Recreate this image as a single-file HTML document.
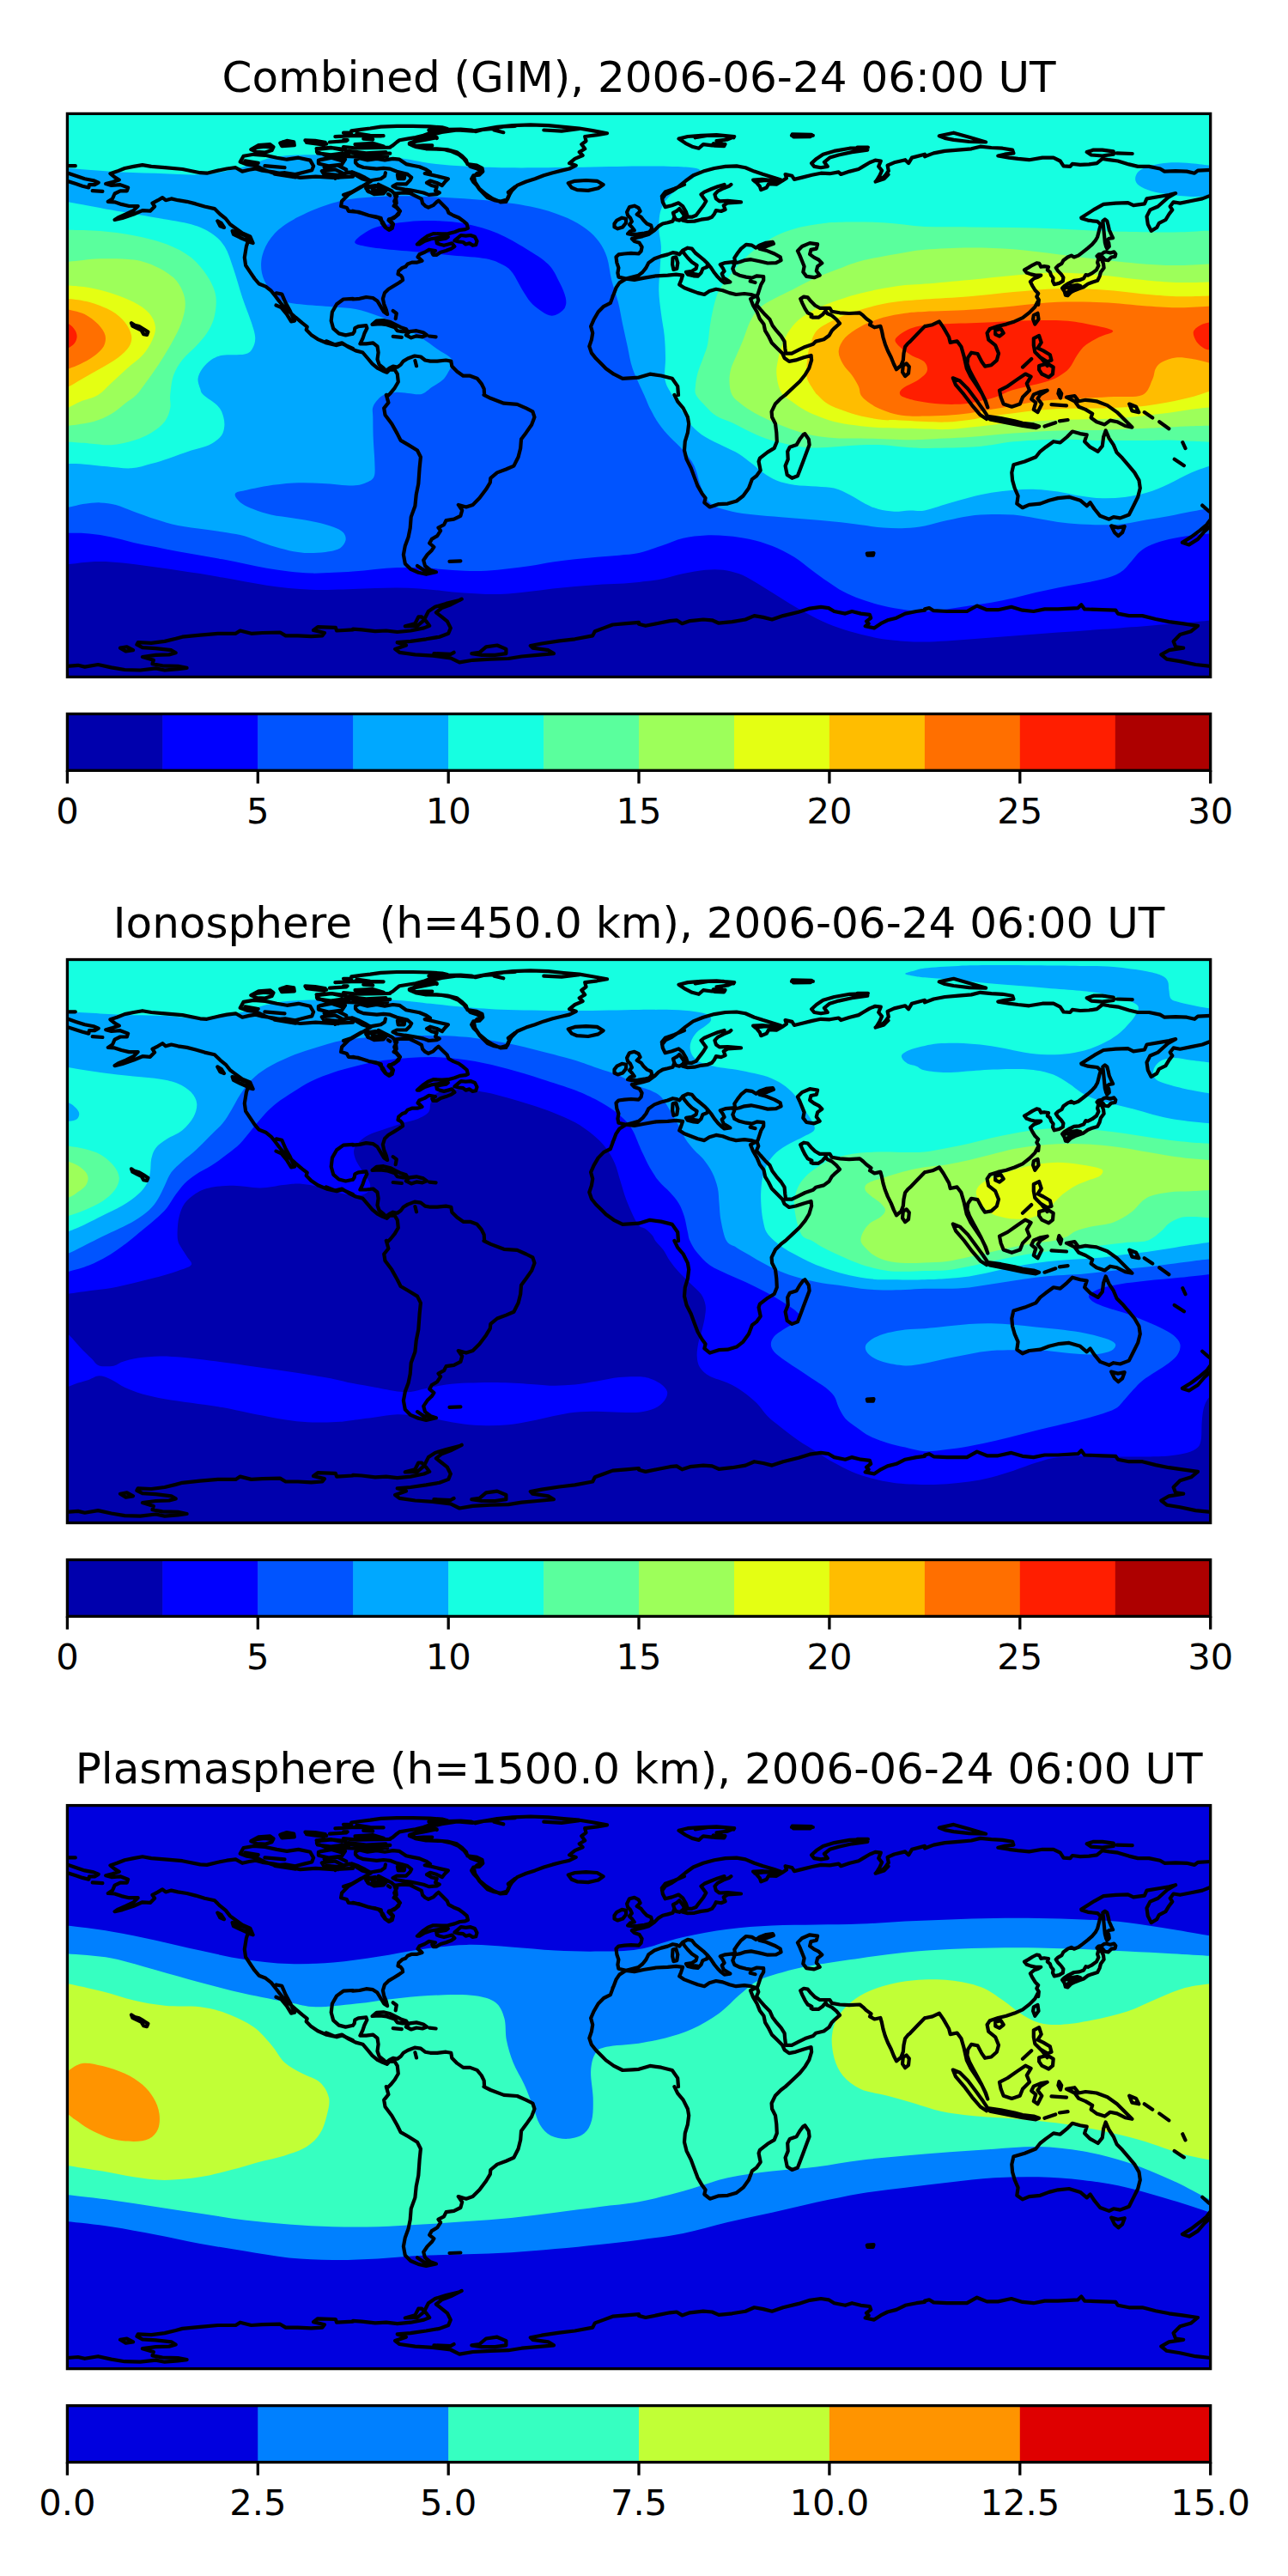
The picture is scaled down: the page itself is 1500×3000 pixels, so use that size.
<!DOCTYPE html>
<html lang="en"><head><meta charset="utf-8"><title>TEC maps</title>
<style>html,body{margin:0;padding:0;background:#fff}svg{display:block}text{font-family:"DejaVu Sans","Liberation Sans",sans-serif;fill:#000}</style></head><body>
<svg width="1500" height="3000" viewBox="0 0 1500 3000">
<defs><clipPath id="cp"><rect x="0" y="0" width="1331.3" height="656"/></clipPath>
</defs>
<rect width="1500" height="3000" fill="#fff"/>
<text x="744.1" y="106.9" font-size="50" text-anchor="middle" xml:space="preserve" style="white-space:pre">Combined (GIM), 2006-06-24 06:00 UT</text>
<g transform="translate(78.4 132.4)"><g clip-path="url(#cp)">
<rect x="0" y="0" width="1331.3" height="656" fill="#0000ad"/>
<path fill="#0000ff" d="M-8.2 524.9C-6.4 524.8 -3.4 525.1 2.2 524.6C7.8 524.1 17.3 522.4 25.5 522C33.6 521.6 42.7 521.6 51.3 522C59.9 522.4 68.5 523.6 77.2 524.6C85.8 525.6 94.4 526.8 103 528C111.6 529.2 120.2 530.5 128.9 531.8C137.5 533.1 146.1 534.3 154.7 535.7C163.3 537.1 172 538.6 180.6 540.1C189.2 541.6 197.8 543.2 206.4 544.8C215 546.3 223.7 548.1 232.3 549.4C240.9 550.7 249.5 551.7 258.1 552.5C266.7 553.3 275.4 554 284 554.3C292.6 554.6 301.7 554.5 309.8 554.3C317.9 554.2 324.5 553.9 332.6 553.6C340.7 553.3 349.8 552.8 358.5 552.5C367.1 552.3 375.7 551.9 384.3 552C392.9 552.1 401.5 552.4 410.2 553C418.8 553.6 427.4 554.8 436 555.6C444.6 556.5 453.2 557.6 461.9 558.2C470.5 558.9 479.1 559.4 487.7 559.5C496.3 559.6 505 559.5 513.6 559C522.2 558.5 530.8 557.4 539.4 556.4C548 555.4 556.7 554 565.3 553C573.9 552 582.5 551.2 591.1 550.5C599.7 549.7 608.4 549.2 617 548.6C625.6 548.1 634.7 547.9 642.8 547.4C650.9 546.8 657.5 546.4 665.6 545.5C673.7 544.7 682.8 543.8 691.5 542.2C700.1 540.5 708.7 537.5 717.3 535.7C725.9 533.9 735.4 532.1 743.2 531.3C750.9 530.6 757.4 530.6 763.8 531.3C770.3 532.1 775.9 533.5 781.9 535.7C788 538 793.6 541.1 800 544.8C806.5 548.4 813.8 553.4 820.7 557.7C827.6 562 834.5 566.5 841.4 570.6C848.3 574.7 854.8 578.4 862.1 582.3C869.4 586.1 877.2 590.4 885.4 593.9C893.5 597.3 902.6 600.4 911.2 602.9C919.8 605.5 928.4 607.7 937.1 609.4C945.7 611.1 952.7 612.3 962.9 613.3C973.2 614.2 984 615.3 998.6 615.1C1013.2 614.9 1033.1 613.1 1050.3 612C1067.5 610.8 1084.8 609.4 1102 608.1C1119.2 606.8 1136.5 605.5 1153.7 604.2C1171 602.9 1188.2 601.6 1205.4 600.4C1222.7 599.1 1242.1 597.6 1257.1 596.5C1272.2 595.3 1283.5 594.4 1295.9 593.4C1308.3 592.3 1324.3 590.7 1331.6 590C1338.9 589.3 1338.5 589.4 1339.9 589.2L1371.3 589.2L1371.3 -40L-40 -40L-40 524.9Z"/>
<path fill="#0054ff" d="M-8.2 488.4C-6.4 488.4 -3.4 488.3 2.2 488.4C7.8 488.5 17.3 488.4 25.5 489.2C33.6 490 42.7 491.3 51.3 493.1C59.9 494.8 68.5 497.6 77.2 499.5C85.8 501.5 94.4 503 103 504.7C111.6 506.4 120.2 508.3 128.9 509.9C137.5 511.5 146.1 512.8 154.7 514.3C163.3 515.8 172 517.3 180.6 518.9C189.2 520.6 197.8 522.4 206.4 524.1C215 525.8 223.7 527.7 232.3 529.3C240.9 530.8 249.5 532.1 258.1 533.1C266.7 534.1 275.4 535 284 535.2C292.6 535.4 301.7 534.8 309.8 534.4C317.9 534.1 324.5 533.8 332.6 533.1C340.7 532.5 349.8 531.3 358.5 530.5C367.1 529.8 375.7 529 384.3 528.7C392.9 528.4 401.5 528.4 410.2 528.7C418.8 529 427.4 529.9 436 530.5C444.6 531.2 453.2 532.1 461.9 532.4C470.5 532.7 479.1 532.8 487.7 532.4C496.3 531.9 505 530.7 513.6 529.8C522.2 528.8 530.8 528 539.4 526.7C548 525.4 556.7 523.3 565.3 522C573.9 520.7 582.5 519.9 591.1 518.9C599.7 518 608.4 517.1 617 516.3C625.6 515.6 634.7 515 642.8 514.3C650.9 513.5 657.5 513.5 665.6 511.7C673.7 509.9 682.8 506.3 691.5 503.4C700.1 500.5 708.7 496.4 717.3 494.4C725.9 492.3 734.5 491.4 743.2 491C751.8 490.6 760.4 491 769 491.8C777.6 492.5 786.2 493.7 794.9 495.6C803.5 497.6 812.1 500 820.7 503.4C829.3 506.8 838.8 511.6 846.6 516.3C854.3 521.1 860.8 527.1 867.3 531.8C873.7 536.6 879.3 540.7 885.4 544.8C891.4 548.9 897 553 903.4 556.4C909.9 559.8 916.4 562.6 924.1 565.4C931.9 568.2 941.4 571.1 950 573.2C958.6 575.3 967.7 576.8 975.8 577.9C983.9 578.9 990.5 579.8 998.6 579.7C1006.7 579.5 1015.8 578.2 1024.5 577.1C1033.1 576 1041.7 574.5 1050.3 573.2C1058.9 571.9 1067.5 570.8 1076.2 569.3C1084.8 567.8 1093.4 566.1 1102 564.2C1110.6 562.2 1119.2 559.7 1127.9 557.7C1136.5 555.7 1145.1 553.7 1153.7 552C1162.3 550.3 1171 549 1179.6 547.4C1188.2 545.7 1197.7 544.3 1205.4 542.2C1213.2 540 1220.5 537.9 1226.1 534.4C1231.7 531 1235.2 525.6 1239 521.5C1242.9 517.4 1245.5 513.1 1249.4 509.9C1253.3 506.6 1256.7 504.5 1262.3 502.1C1267.9 499.7 1275.2 497.5 1283 495.6C1290.7 493.8 1300.7 492.1 1308.8 491C1316.9 489.9 1326.4 489.5 1331.6 489.2C1336.8 488.8 1338.5 489 1339.9 488.9L1371.3 488.9L1371.3 -40L-40 -40L-40 488.4Z"/>
<path fill="#00a8ff" d="M-8.2 458.9C-6.4 458.8 -2.6 458.9 2.2 458.2C6.9 457.4 14.3 455.1 20.3 454.3C26.3 453.4 32.3 452.8 38.4 453C44.4 453.2 50 453.8 56.5 455.6C62.9 457.3 69.4 460.5 77.2 463.3C84.9 466.1 94.4 469.7 103 472.4C111.6 475.1 119.4 477.7 128.9 479.6C138.3 481.6 150.4 482.6 159.9 484C169.4 485.4 178 486.6 185.7 487.9C193.5 489.2 199.5 489.8 206.4 491.8C213.3 493.7 220.2 497.2 227.1 499.5C234 501.9 240.9 504.1 247.8 506C254.7 507.8 262 509.7 268.5 510.6C274.9 511.6 280.5 511.8 286.6 511.7C292.6 511.5 299.5 510.8 304.7 509.9C309.8 508.9 314.4 508.1 317.6 506C320.8 503.8 323.4 500 324.1 496.9C324.7 493.9 323.8 490.5 321.5 487.9C319.1 485.3 315.2 483.5 309.8 481.4C304.5 479.4 296.9 477.2 289.2 475.5C281.4 473.8 271.9 472.5 263.3 471.1C254.7 469.7 245.2 468.9 237.4 467.2C229.7 465.5 222.4 462.9 216.8 460.7C211.2 458.6 207.3 456.7 203.8 454.3C200.4 451.9 197.3 448.7 196.1 446.5C194.9 444.4 194.9 442.6 196.6 441.4C198.3 440.1 200.5 440.1 206.4 438.8C212.4 437.5 222.8 435 232.3 433.6C241.8 432.2 252.5 430.8 263.3 430.2C274.1 429.7 285.4 430 296.9 430.5C308.5 431 324.1 433.2 332.6 433.1C341.1 433 344 431.4 348.1 429.7C352.2 428 355.5 426.8 357.2 422.7C358.8 418.6 358.1 412.4 357.9 405.2C357.8 397.9 356.7 387.9 356.4 379.3C356 370.7 356 359.6 355.9 353.5C355.8 347.4 355 345.8 355.7 342.7C356.4 339.6 358 337.1 360.1 334.6C362.2 332.1 364.5 329.2 368.2 327.5C371.9 325.8 377.6 324.8 382.3 324.5C387 324.2 391.4 325.2 396.5 325.5C401.6 325.8 407.9 327.7 412.6 326.5C417.3 325.3 420.7 321.1 424.7 318.4C428.7 315.7 433.8 313.1 436.8 310.4C439.8 307.7 440.9 305.7 442.9 302.3C444.9 298.9 448.7 293.4 449 290.2C449.3 287 447.9 285.8 444.9 283.1C441.9 280.4 436.5 277.9 430.8 274C425.1 270.1 418 264.6 410.6 259.9C403.2 255.2 394.5 249.8 386.4 245.8C378.3 241.8 370.6 238.7 362.2 235.7C353.8 232.7 344.6 229.4 335.9 227.6C327.2 225.8 320.6 226 309.8 225C299 224.1 281.4 223.3 271.1 221.9C260.7 220.6 253.8 219.8 247.8 216.8C241.8 213.8 238.4 209 234.9 203.8C231.3 198.7 227.9 192.2 226.6 185.7C225.3 179.3 225.3 172 227.1 165.1C228.9 158.2 232.3 150.8 237.4 144.4C242.6 137.9 248.2 132.3 258.1 126.3C268 120.2 284.5 112.7 296.9 108.2C309.3 103.7 318 101.2 332.6 99.1C347.2 97.1 367.1 96.1 384.3 95.8C401.5 95.5 418.8 96.5 436 97.3C453.2 98.2 470.5 99.1 487.7 100.9C505 102.8 524.3 105 539.4 108.2C554.5 111.3 567.4 115.5 578.2 119.8C589 124.1 597.2 129.1 604.1 134C611 139 615.5 143.9 619.6 149.5C623.7 155.1 626.2 160.3 628.6 167.6C631 175 631.6 184.9 633.8 193.5C635.9 202.1 639.4 210.7 641.5 219.4C643.7 228 644.9 236.6 646.7 245.2C648.5 253.8 650.5 262.4 652.4 271.1C654.3 279.7 655.1 287.5 658.3 296.9C661.6 306.3 668.4 320 671.8 327.7C675.2 335.4 675.7 337.5 678.5 343.1C681.4 348.7 685 355.6 688.9 361.2C692.7 366.8 697.1 371.6 701.8 376.7C706.5 381.9 712.6 386.6 717.3 392.2C722 397.8 727 403.9 730.2 410.3C733.5 416.8 734.5 425 736.7 431C738.9 437 740.4 442.2 743.2 446.5C746 450.8 748.3 454.1 753.5 456.9C758.7 459.7 766.4 461.6 774.2 463.3C781.9 465.1 790.6 466.1 800 467.2C809.5 468.3 820.7 468.9 831.1 469.8C841.4 470.7 851.7 471.5 862.1 472.4C872.4 473.2 882.8 473.9 893.1 475C903.4 476 914.7 477.6 924.1 478.8C933.6 480 941.4 481.6 950 482.2C958.6 482.8 967.7 483.1 975.8 482.7C983.9 482.4 990.5 481.6 998.6 480.1C1006.7 478.6 1015.8 475.6 1024.5 473.7C1033.1 471.7 1041.7 469.7 1050.3 468.5C1058.9 467.3 1067.5 466.9 1076.2 466.7C1084.8 466.5 1093.4 466.5 1102 467.2C1110.6 467.9 1119.2 469.7 1127.9 471.1C1136.5 472.5 1145.1 474.3 1153.7 475.5C1162.3 476.6 1171 477.5 1179.6 478.1C1188.2 478.6 1196.8 478.9 1205.4 478.8C1214 478.8 1222.7 478.5 1231.3 477.5C1239.9 476.6 1248.5 474.4 1257.1 472.9C1265.7 471.4 1274.4 470.1 1283 468.5C1291.6 466.9 1300.7 464.8 1308.8 463.3C1316.9 461.8 1326.4 460.2 1331.6 459.5C1336.8 458.7 1338.5 459 1339.9 458.9L1371.3 458.9L1371.3 -40L-40 -40L-40 458.9Z"/>
<path fill="#0000ff" d="M335.2 148.3C337.3 144.7 348.1 136.5 358.5 132.7C368.8 129 384.3 127.1 397.2 125.8C410.2 124.5 424.4 124.5 436 125C447.6 125.5 456.3 126.5 467 128.9C477.8 131.2 489.4 134.5 500.6 139.2C511.8 143.9 524.3 151.3 534.3 157.3C544.2 163.3 553.6 168.9 560.1 175.4C566.6 181.9 569.7 189.6 573 196.1C576.4 202.5 579.2 209.2 580.3 214.2C581.4 219.1 581.1 222.6 579.5 225.8C577.9 229 573.5 232.1 570.4 233.6C567.4 235.1 564.8 235.7 561.4 234.9C558 234 553.4 231 549.8 228.4C546.1 225.8 542.9 223.4 539.4 219.4C536 215.3 532.5 209.4 529.1 203.8C525.6 198.2 522.2 190.3 518.7 185.7C515.3 181.2 513.6 179.5 508.4 176.7C503.2 173.9 497.6 170.9 487.7 168.9C477.8 167 461.9 166.4 448.9 165.1C436 163.8 423.1 162.4 410.2 161.2C397.2 160 382.2 159 371.4 157.8C360.6 156.7 351.6 155.8 345.5 154.2C339.5 152.6 333 151.8 335.2 148.3Z"/>
<path fill="#16ffe1" d="M-8.2 63.5C-6.4 63.5 -7.7 63.1 2.2 63.7C12.1 64.4 34.5 66.4 51.3 67.3C68.1 68.3 84.9 68.8 103 69.4C121.1 70 142.7 72 159.9 70.7C177.1 69.4 194.4 64.7 206.4 61.6C218.5 58.6 223.7 54.8 232.3 52.6C240.9 50.4 247.4 49.5 258.1 48.7C268.9 47.9 284.5 47.9 296.9 47.9C309.3 47.9 318 48.2 332.6 48.7C347.2 49.3 369.2 49.8 384.3 51.3C399.4 52.8 410.2 56.1 423.1 57.8C436 59.4 446.8 60.3 461.9 61.1C476.9 62 492 62.7 513.6 62.9C535.1 63.2 565.8 62.7 591.1 62.4C616.5 62.1 646.7 61.3 665.6 61.1C684.5 61 694 61.3 704.4 61.6C714.7 61.9 722.3 62.2 727.6 62.9C733 63.7 736.3 64.2 736.7 66C737.1 67.9 733.9 71 730.2 74.1C726.6 77.1 719.9 80.3 714.7 84.4C709.6 88.4 703.2 93.5 699.2 98.4C695.2 103.2 692.7 107.4 690.9 113.4C689.2 119.3 688.8 127.1 688.9 134C689 140.9 691.2 147 691.5 154.7C691.7 162.5 690.6 172 690.2 180.6C689.7 189.2 688.7 197.8 688.9 206.4C689.1 215 690.4 223.7 691.5 232.3C692.5 240.9 694.5 249.5 695.3 258.1C696.2 266.7 696.5 275.4 696.6 284C696.8 292.6 694.8 302.6 696.1 309.8C697.4 317.1 700.8 321.2 704.4 327.6C707.9 334 713.4 342.3 717.3 348.3C721.2 354.3 723.3 359.1 727.6 363.8C732 368.5 737.1 372.8 743.2 376.7C749.2 380.6 757.4 383.8 763.8 387.1C770.3 390.3 776.3 392.7 781.9 396.1C787.5 399.6 792.7 404.1 797.5 407.7C802.2 411.4 805.6 414.9 810.4 418.1C815.1 421.3 819.9 424.8 825.9 427.1C831.9 429.5 838.8 431.1 846.6 432.3C854.3 433.5 864.7 433.5 872.4 434.1C880.2 434.8 886.6 434.5 893.1 436.2C899.6 437.8 905.2 440.9 911.2 443.9C917.2 447 923.7 451.5 929.3 454.3C934.9 457.1 939.2 459.2 944.8 460.7C950.4 462.3 956.9 463.1 962.9 463.3C968.9 463.5 975.1 462.3 981 462C987 461.8 991.4 463.3 998.6 462C1005.8 460.7 1015.8 456.8 1024.5 454.3C1033.1 451.8 1041.7 449.2 1050.3 447C1058.9 444.9 1067.5 442.8 1076.2 441.4C1084.8 439.9 1093.4 438.9 1102 438.3C1110.6 437.6 1119.2 437.2 1127.9 437.5C1136.5 437.8 1145.1 438.8 1153.7 440.1C1162.3 441.4 1171 443.9 1179.6 445.2C1188.2 446.5 1196.8 447.6 1205.4 447.8C1214 448 1222.7 447.6 1231.3 446.5C1239.9 445.4 1248.5 443.9 1257.1 441.4C1265.7 438.8 1274.4 434.9 1283 431C1291.6 427.1 1300.7 421.6 1308.8 418.1C1316.9 414.6 1326.4 411.5 1331.6 409.8C1336.8 408.1 1338.5 408.1 1339.9 407.7L1371.3 407.7L1371.3 -40L-40 -40L-40 63.5Z"/>
<path fill="#00a8ff" d="M1339.9 60.4C1338.5 60.4 1336.8 60.8 1331.6 60.4C1326.4 59.9 1316.9 58.3 1308.8 57.8C1300.7 57.2 1290.7 56.6 1283 57C1275.2 57.4 1268.1 58.7 1262.3 60.4C1256.5 62 1251.2 64.2 1248.1 66.8C1245 69.4 1243.7 73.1 1243.7 75.9C1243.7 78.7 1245 81.3 1248.1 83.6C1251.2 86 1256.5 88.4 1262.3 90.1C1268.1 91.8 1275.2 92.9 1283 94C1290.7 95 1300.7 96.2 1308.8 96.5C1316.9 96.9 1326.4 95.9 1331.6 95.8C1336.8 95.6 1338.5 95.8 1339.9 95.8Z"/>
<path fill="#16ffe1" d="M-8.2 102.5C-6.4 102.6 -7.7 101.4 2.2 103C12.1 104.6 34.5 109 51.3 112.1C68.1 115.1 87.5 118.3 103 121.1C118.5 123.9 133.6 125.8 144.4 128.9C155.1 131.9 161.2 134.9 167.6 139.2C174.1 143.5 178.8 147.8 183.2 154.7C187.5 161.6 190.1 170.7 193.5 180.6C196.9 190.5 200.4 203.8 203.8 214.2C207.3 224.5 211.7 234.9 214.2 242.6C216.7 250.4 218.6 255.5 218.8 260.7C219.1 265.9 217.5 270.4 215.5 273.6C213.4 276.9 212.2 278.8 206.4 280.1C200.6 281.4 187 280.3 180.6 281.4C174.1 282.5 171.5 284 167.6 286.6C163.8 289.2 159.9 293.2 157.3 296.9C154.7 300.6 152.6 304.7 152.1 308.5C151.7 312.4 153.6 317 154.7 320.2C155.8 323.4 155.1 324.3 158.6 327.7C162 331.1 171.5 336.2 175.4 340.5C179.3 344.8 180.7 349.1 181.9 353.5C183.1 357.8 183.3 362.5 182.6 366.4C182 370.3 180.9 373.5 178 376.7C175.1 380 170.7 383.2 165.1 385.8C159.5 388.4 152.1 389.6 144.4 392.2C136.6 394.8 126.3 398.7 118.5 401.3C110.8 403.9 105.2 405.8 97.8 407.7C90.5 409.7 83.2 412.4 74.6 412.9C66 413.4 55.2 411.6 46.1 410.8C37.1 410.1 27.6 408.8 20.3 408.3C13 407.7 6.9 407.8 2.2 407.7C-2.6 407.7 -6.4 407.7 -8.2 407.7Z"/>
<path fill="#5aff9d" d="M1339.9 135.8C1338.5 135.9 1338.9 135.8 1331.6 136.1C1324.3 136.4 1308.3 137.6 1295.9 137.9C1283.5 138.2 1272.2 138.1 1257.1 137.9C1242.1 137.7 1222.7 137.3 1205.4 136.6C1188.2 136 1171 134.7 1153.7 134C1136.5 133.4 1119.2 133.1 1102 132.7C1084.8 132.4 1067.5 132.2 1050.3 132C1033.1 131.8 1015.3 132.3 998.6 131.5C981.9 130.6 966.7 127.7 950 126.8C933.3 125.9 911.2 125.9 898.3 126.3C885.4 126.6 881 127.6 872.4 128.9C863.8 130.2 854.3 131.9 846.6 134C838.8 136.2 832.8 138.3 825.9 141.8C819 145.2 811.7 150 805.2 154.7C798.7 159.5 792.7 164.6 787.1 170.2C781.5 175.8 776.3 182.3 771.6 188.3C766.9 194.4 761.9 200 758.7 206.4C755.4 212.9 753.9 220.2 752.2 227.1C750.5 234 749.4 240.9 748.3 247.8C747.3 254.7 747 262.4 745.7 268.5C744.5 274.5 742.5 278.4 740.6 284C738.6 289.6 735.6 296.5 734.1 302.1C732.6 307.7 731.8 313.3 731.5 317.6C731.2 321.9 730.4 323.9 732.3 327.7C734.2 331.5 739.2 336.4 743.2 340.5C747.1 344.6 750.9 348.9 756.1 352.2C761.3 355.4 767.7 356.9 774.2 359.9C780.6 362.9 788.4 367.2 794.9 370.3C801.3 373.3 806.9 375.9 813 378C819 380.2 824.6 381.6 831.1 383.2C837.5 384.8 844.8 386.6 851.7 387.6C858.6 388.6 864.7 389.1 872.4 389.1C880.2 389.1 889.7 388.1 898.3 387.6C906.9 387 915.5 386.1 924.1 385.8C932.7 385.5 941.4 385.3 950 385.8C958.6 386.2 967.7 387.7 975.8 388.4C983.9 389 986.2 389.6 998.6 389.6C1011 389.6 1037.4 389 1050.3 388.4C1063.2 387.7 1067.5 386.8 1076.2 385.8C1084.8 384.7 1089.1 383 1102 381.9C1114.9 380.8 1136.5 379.5 1153.7 379.3C1171 379.1 1188.2 380.4 1205.4 380.6C1222.7 380.8 1244.2 380.7 1257.1 380.6C1270.1 380.5 1274.4 380 1283 380.1C1291.6 380.2 1300.7 381 1308.8 381.4C1316.9 381.8 1326.4 382.2 1331.6 382.4C1336.8 382.6 1338.5 382.4 1339.9 382.4Z"/>
<path fill="#5aff9d" d="M-8.2 135.3C-6.4 135.3 -5.6 135.1 2.2 135.3C9.9 135.5 25.9 135.5 38.4 136.6C50.9 137.7 64.2 139.2 77.2 141.8C90.1 144.4 104.7 147.8 115.9 152.1C127.1 156.4 136.6 161.6 144.4 167.6C152.1 173.7 158 181.9 162.5 188.3C167 194.8 169.7 200.8 171.5 206.4C173.3 212 173.5 216.3 173.3 221.9C173.1 227.5 172 234.4 170.2 240C168.4 245.6 165.9 250.4 162.5 255.5C159 260.7 154.3 265.9 149.5 271.1C144.8 276.2 138.3 281 134 286.6C129.7 292.2 126.1 297.8 123.7 304.7C121.3 311.5 120.5 321.3 119.8 327.7C119.2 334.1 120.9 338 119.8 343.1C118.7 348.3 117 353.9 113.4 358.6C109.7 363.4 103.9 367.9 97.8 371.6C91.8 375.2 84.9 378.2 77.2 380.6C69.4 383 59.9 385.2 51.3 385.8C42.7 386.3 33.6 384.5 25.5 384C17.3 383.4 7.8 382.7 2.2 382.4C-3.4 382.2 -6.4 382.4 -8.2 382.4Z"/>
<path fill="#9dff5a" d="M1339.9 174.6C1338.5 174.7 1338.9 174.5 1331.6 174.9C1324.3 175.2 1308.3 176.6 1295.9 176.7C1283.5 176.8 1272.2 176.5 1257.1 175.4C1242.1 174.3 1222.7 172.2 1205.4 170.2C1188.2 168.3 1171 165.8 1153.7 163.8C1136.5 161.7 1119.2 159.1 1102 157.8C1084.8 156.5 1067.5 155.9 1050.3 156C1033.1 156.1 1013.2 157 998.6 158.3C984 159.6 975.3 161.6 962.9 163.8C950.5 166 934.9 168.7 924.1 171.5C913.4 174.3 906.9 177.3 898.3 180.6C889.7 183.8 881 187 872.4 190.9C863.8 194.8 855.2 199.5 846.6 203.8C838 208.1 827.6 212.9 820.7 216.8C813.8 220.6 809.5 222.8 805.2 227.1C800.9 231.4 797.9 236.6 794.9 242.6C791.8 248.7 789.7 256.8 787.1 263.3C784.5 269.8 781.7 275.8 779.4 281.4C777 287 774.3 291.7 772.9 296.9C771.5 302.1 770.9 307.3 771.1 312.4C771.3 317.6 771.9 323.4 774.2 327.7C776.4 331.9 780.2 334.5 784.5 337.9C788.8 341.4 794.9 345.3 800 348.3C805.2 351.3 809.9 353.5 815.5 356C821.1 358.6 827.6 361.4 833.6 363.8C839.7 366.2 845.3 368.3 851.7 370.3C858.2 372.2 864.7 374.1 872.4 375.4C880.2 376.7 889.7 377.6 898.3 378C906.9 378.4 915.5 377.9 924.1 378C932.7 378.1 941.4 378.5 950 378.8C958.6 379.1 967.7 379.7 975.8 379.8C983.9 379.9 986.2 379.8 998.6 379.3C1011 378.8 1033.1 377.9 1050.3 376.7C1067.5 375.5 1084.8 373.4 1102 372.1C1119.2 370.8 1136.5 369.6 1153.7 369C1171 368.4 1188.2 368.9 1205.4 368.4C1222.7 368 1244.2 366.9 1257.1 366.4C1270.1 365.8 1274.4 365.5 1283 365.1C1291.6 364.7 1300.7 364.1 1308.8 363.8C1316.9 363.5 1326.4 363.4 1331.6 363.3C1336.8 363.2 1338.5 363.3 1339.9 363.3Z"/>
<path fill="#9dff5a" d="M-8.2 172.3C-6.4 172.3 -5.6 172.9 2.2 172.3C9.9 171.7 25.9 169.3 38.4 168.9C50.9 168.6 66.4 168.7 77.2 170.2C87.9 171.7 95.3 174.5 103 178C110.8 181.4 118.5 186.2 123.7 190.9C128.9 195.7 131.8 201.3 134 206.4C136.3 211.6 137.4 216.3 137.4 221.9C137.4 227.5 135.9 234 134 240C132.2 246.1 129.5 251.7 126.3 258.1C123 264.6 118.5 272.4 114.6 278.8C110.8 285.3 107.1 290.9 103 296.9C98.9 302.9 93.9 309.9 90.1 315C86.3 320.1 84.1 323.9 80.3 327.7C76.4 331.5 71.6 334.3 66.8 337.9C62 341.6 57.3 346.1 51.3 349.6C45.3 353 38.8 356.3 30.6 358.6C22.4 360.9 8.6 362.4 2.2 363.3C-4.3 364.1 -6.4 363.7 -8.2 363.8Z"/>
<path fill="#e4ff13" d="M1339.9 196.1C1338.5 196.1 1338.9 196 1331.6 196.1C1324.3 196.2 1308.3 196.9 1295.9 196.6C1283.5 196.3 1272.2 195.4 1257.1 194C1242.1 192.6 1222.7 189.8 1205.4 188.3C1188.2 186.9 1171 185.2 1153.7 185.2C1136.5 185.2 1119.2 186.9 1102 188.3C1084.8 189.7 1067.5 191.9 1050.3 193.5C1033.1 195.1 1013.2 196.9 998.6 198.2C984 199.4 975.3 199.4 962.9 201.3C950.5 203.1 934.9 206.4 924.1 209C913.4 211.6 906.9 213.8 898.3 216.8C889.7 219.8 880.2 223.2 872.4 227.1C864.7 231 857.3 235.3 851.7 240C846.1 244.8 842.3 249.9 838.8 255.5C835.4 261.1 833 268 831.1 273.6C829.1 279.2 828 284.4 827.2 289.2C826.3 293.9 825.7 297.3 825.9 302.1C826.1 306.8 827.2 313.3 828.5 317.6C829.8 321.9 831.1 324.7 833.6 327.7C836.2 330.6 839.7 332.4 844 335.4C848.3 338.4 853.9 342.7 859.5 345.7C865.1 348.7 871.1 351.1 877.6 353.5C884.1 355.8 890.5 358.2 898.3 359.9C906 361.6 915.5 362.8 924.1 363.8C932.7 364.8 941.4 365.4 950 365.9C958.6 366.3 967.7 366.2 975.8 366.4C983.9 366.6 990.5 366.9 998.6 367.2C1006.7 367.4 1015.8 368 1024.5 367.7C1033.1 367.4 1041.7 366.2 1050.3 365.3C1058.9 364.5 1067.5 363.4 1076.2 362.5C1084.8 361.6 1093.4 360.6 1102 359.9C1110.6 359.2 1119.2 358.7 1127.9 358.1C1136.5 357.5 1145.1 356.9 1153.7 356.6C1162.3 356.2 1171 356.2 1179.6 356C1188.2 355.9 1196.8 355.9 1205.4 355.5C1214 355.2 1222.7 354.7 1231.3 354C1239.9 353.3 1248.5 352.3 1257.1 351.4C1265.7 350.4 1274.4 349.4 1283 348.3C1291.6 347.1 1300.7 345.5 1308.8 344.4C1316.9 343.3 1326.4 342.4 1331.6 341.8C1336.8 341.3 1338.5 341.2 1339.9 341Z"/>
<path fill="#e4ff13" d="M-8.2 199.4C-6.4 199.5 -3.4 199.4 2.2 200C7.8 200.5 17.3 201 25.5 202.5C33.6 204.1 42.7 206.2 51.3 209C59.9 211.8 69.8 215.5 77.2 219.4C84.5 223.2 91 227.5 95.3 232.3C99.5 237 101.8 242.6 102.5 247.8C103.1 253 101.6 257.7 99.1 263.3C96.6 268.9 92.5 275.8 87.5 281.4C82.5 287 75.4 291.5 69.4 296.9C63.4 302.3 56.9 308.6 51.3 313.7C45.7 318.8 41.8 324.1 35.8 327.7C29.8 331.3 20.7 333 15.1 335.4C9.5 337.7 6.1 340.3 2.2 341.8C-1.7 343.3 -6.4 344 -8.2 344.4Z"/>
<path fill="#ffbd00" d="M1339.9 212.1C1338.5 212.1 1338.9 212 1331.6 212.1C1324.3 212.2 1308.3 213.2 1295.9 212.9C1283.5 212.6 1272.2 211.6 1257.1 210.3C1242.1 209 1222.7 206.2 1205.4 205.1C1188.2 204.1 1171 203.4 1153.7 203.8C1136.5 204.3 1119.2 206.2 1102 207.7C1084.8 209.2 1067.5 211.5 1050.3 212.9C1033.1 214.3 1013.2 215.2 998.6 216.2C984 217.3 973.2 218 962.9 219.4C952.7 220.7 945.7 222.4 937.1 224.5C928.4 226.7 919 229.5 911.2 232.3C903.4 235.1 897 237.9 890.5 241.3C884.1 244.8 876.7 248 872.4 253C868.1 257.9 866.4 265.9 864.7 271.1C862.9 276.2 862.7 279.2 862.1 284C861.4 288.7 860.8 295.2 860.8 299.5C860.8 303.8 860.6 306 862.1 309.8C863.6 313.7 867.9 319.8 869.8 322.8C871.8 325.7 871.1 325.1 873.7 327.6C876.3 330.1 880.4 334.9 885.4 337.9C890.3 341 897 343.3 903.4 345.7C909.9 348.1 916.4 350.4 924.1 352.2C931.9 354 941.4 355.7 950 356.6C958.6 357.4 967.7 357 975.8 357.3C983.9 357.7 990.5 358.3 998.6 358.6C1006.7 358.9 1015.8 359.5 1024.5 359.1C1033.1 358.8 1041.7 357.7 1050.3 356.6C1058.9 355.4 1067.5 353.5 1076.2 352.2C1084.8 350.9 1093.4 349.9 1102 348.8C1110.6 347.7 1119.2 346.6 1127.9 345.7C1136.5 344.8 1145.1 344.1 1153.7 343.6C1162.3 343.2 1171 343.2 1179.6 343.1C1188.2 343 1196.8 343.3 1205.4 343.1C1214 342.9 1222.7 342.3 1231.3 341.8C1239.9 341.3 1248.5 341 1257.1 340C1265.7 339 1274.4 337.5 1283 335.9C1291.6 334.2 1300.7 332.4 1308.8 330.2C1316.9 328 1326.4 324.2 1331.6 322.8C1336.8 321.3 1338.5 321.7 1339.9 321.5Z"/>
<path fill="#ffbd00" d="M-8.2 214.2C-6.4 214.4 -3.4 214.6 2.2 215.5C7.8 216.3 17.3 217 25.5 219.4C33.6 221.7 44.4 225.8 51.3 229.7C58.2 233.6 62.9 237.9 66.8 242.6C70.7 247.4 73.7 253.4 74.6 258.1C75.4 262.9 74.6 266.7 72 271.1C69.4 275.4 64.7 279.7 59.1 284C53.5 288.3 45.3 292.8 38.4 296.9C31.5 301 23.7 305.1 17.7 308.5C11.7 312 6.5 315.2 2.2 317.6C-2.1 320 -6.4 321.9 -8.2 322.8Z"/>
<path fill="#ff6f00" d="M1339.9 224C1338.5 224 1338.9 223.7 1331.6 224C1324.3 224.3 1308.3 225.8 1295.9 225.8C1283.5 225.8 1272.2 225 1257.1 224C1242.1 223 1222.7 220.6 1205.4 219.9C1188.2 219.1 1171 218.7 1153.7 219.4C1136.5 220 1119.2 222.5 1102 224C1084.8 225.5 1067.5 227.3 1050.3 228.4C1033.1 229.5 1011 229.8 998.6 230.5C986.2 231.1 983.9 231.1 975.8 232.3C967.7 233.4 958.6 234.9 950 237.4C941.4 240 931.5 243.9 924.1 247.8C916.8 251.7 910.3 256 906 260.7C901.7 265.5 898.7 271.1 898.3 276.2C897.8 281.4 900.9 287 903.4 291.7C906 296.5 910.8 300.4 913.8 304.7C916.8 309 919.8 313.8 921.5 317.6C923.3 321.4 922.4 324.7 924.1 327.7C925.9 330.6 928.4 332.8 931.9 335.4C935.3 337.9 939.6 340.7 944.8 343.1C950 345.5 956.9 348.1 962.9 349.6C968.9 351.1 975.1 351.7 981 352.2C987 352.6 991.4 352.3 998.6 352.2C1005.8 352 1015.8 351.9 1024.5 351.4C1033.1 350.8 1041.7 350 1050.3 348.8C1058.9 347.6 1067.5 345.9 1076.2 344.4C1084.8 342.9 1093.4 341.5 1102 340C1110.6 338.5 1119.2 336.6 1127.9 335.4C1136.5 334.1 1145.1 333.4 1153.7 332.8C1162.3 332.1 1168.8 332 1179.6 331.5C1190.3 331 1206.3 330.3 1218.4 329.7C1230.4 329 1244.4 330.9 1252 327.6C1259.5 324.3 1261 315 1263.6 309.8C1266.2 304.7 1265.5 300.4 1267.5 296.9C1269.4 293.5 1271.4 291.3 1275.2 289.2C1279.1 287 1285.1 284.6 1290.7 284C1296.3 283.3 1302 284.2 1308.8 285.3C1315.6 286.4 1326.4 289.4 1331.6 290.4C1336.8 291.5 1338.5 291.5 1339.9 291.7Z"/>
<path fill="#ff6f00" d="M-8.2 226.6C-6.4 226.9 -2.6 227.2 2.2 228.4C6.9 229.6 14.7 230.8 20.3 233.6C25.9 236.4 31.8 241.1 35.8 245.2C39.8 249.3 43 253.8 44.1 258.1C45.1 262.4 44.5 267 42.3 271.1C40 275.2 35.1 279.2 30.6 282.7C26.1 286.1 19.9 289.4 15.1 291.7C10.4 294.1 6.1 295.4 2.2 296.9C-1.7 298.4 -6.4 300.1 -8.2 300.8Z"/>
<path fill="#ff1e00" d="M966.2 260.1C969.4 256.9 976.8 251.5 985.3 249C993.8 246.5 1003.8 246.1 1017.1 245.2C1030.4 244.2 1049 244 1064.9 243.3C1080.8 242.6 1096.7 241.4 1112.6 241C1128.5 240.6 1147.1 240.2 1160.4 241C1173.7 241.8 1182.7 243.8 1192.2 245.8C1201.8 247.8 1216.1 250.4 1217.7 252.8C1219.3 255.2 1207.1 257.3 1201.8 260.1C1196.5 262.9 1190 266.2 1185.8 269.7C1181.5 273.1 1179.5 276.3 1176.3 280.8C1173.1 285.3 1170.4 292.4 1166.7 296.7C1163 300.9 1158.8 303.6 1154 306.3C1149.2 309 1143.9 310.9 1138.1 312.7C1132.3 314.5 1125.4 315.8 1119 317.4C1112.6 319 1106.3 320.1 1099.9 322.2C1093.5 324.3 1087.2 328.1 1080.8 330.2C1074.4 332.3 1068.1 333.6 1061.7 334.9C1055.3 336.2 1050 337.6 1042.6 338.1C1035.2 338.6 1025.6 338.6 1017.1 338.1C1008.6 337.6 998.8 336.2 991.6 334.9C984.4 333.6 977.8 331.8 974.1 330.2C970.4 328.6 969.4 327.3 969.4 325.4C969.4 323.5 970.4 321.6 974.1 319C977.8 316.4 987.1 312.7 991.6 309.5C996.1 306.3 1000.1 303.3 1001.2 299.9C1002.3 296.4 1001.2 292 998 288.8C994.8 285.6 987.4 284.2 982.1 280.8C976.8 277.4 968.9 271.6 966.2 268.1C963.6 264.7 963 263.3 966.2 260.1Z"/>
<path fill="#ff1e00" d="M1339.9 242.6C1338.5 242.6 1335 242 1331.6 242.6C1328.1 243.3 1322.5 244.6 1319.2 246.5C1315.8 248.4 1312.1 251 1311.4 254.3C1310.8 257.5 1313.1 262.7 1315.3 265.9C1317.5 269.1 1321.6 272.1 1324.3 273.6C1327.1 275.2 1329 274.6 1331.6 274.9C1334.2 275.2 1338.5 275.4 1339.9 275.5Z"/>
<path fill="#ff1e00" d="M-8.2 241.3C-6.4 242 -0.6 243.5 2.2 245.2C5 246.9 7.1 249.3 8.6 251.7C10.2 254 11.2 256.8 11.2 259.4C11.2 262 10.2 265 8.6 267.2C7.1 269.3 5 270.8 2.2 272.4C-0.6 273.9 -6.4 275.6 -8.2 276.2Z"/>
<path fill="none" stroke="#000" stroke-width="4.2" stroke-linejoin="round" stroke-linecap="round" d="M-0.4 60.8L9.4 60.8M-0.4 68.8L9.9 72.4L20.3 75.8L30.6 77.8L36.3 80.2L31.9 82.7L25.5 82.7L24.9 86.1L17.7 84.3L9.9 81.7L-0.4 78.4M29.3 89.7L41 90.5M332.6 73.2L309.8 74.5L289.2 73.2L271.1 74.5L258.1 71.9L240 68L227.1 66.2L219.4 64.1L211.6 65.4L203.8 67.2L196.1 62.8L185.7 64.1L175.4 66.2L162.5 69.3L154.7 68.8L134 64.6L113.4 62.8L97.8 61.5L87.5 59.7L77.2 61.5L66.8 63.6L57.8 67.2L50 69.8L55.2 74L60.4 77.1L52.6 79.6L44.8 81.7L51.3 83.5L61.6 82.7L70.7 86.1L69.4 90L61.6 90L55.2 93.1L52.6 99L47.4 102.4L55.2 102.9L62.9 105.5L72 107.6L82.3 107.6L77.2 112.7L68.1 117.1L59.1 121L55.2 123.6L64.2 121.5L77.2 117.1L87.5 112.7L96.5 113.3L101.7 108.1L99.1 104.2L105.6 100.8L110.8 97.7L114.6 100.8L121.1 99L128.9 100.8L139.2 102.4L149.5 105L159.9 108.1L171.5 110.7L178 117.1L184.5 122.3L189.6 128.8L194.8 132.6L203.8 139.1L212.9 143L216.2 150.7L210.3 148.9L208.5 154.6L206.4 167.5L207.7 176.6L212.9 184.4L218.1 192.1L223.2 198.1L231 201.2L237.4 206.3L242.6 212.8L246.5 218L251.7 224.4L258.1 230.4L265.9 237.3L273.6 243.8L279.3 248.2L278.3 251.6L284 257.5L291.7 262.7L302.1 267.1L313.7 269.7L320.2 267.9L332.6 273.5M243.4 208.9L249.9 210.2L254.3 220.5L259.4 229.6L264.6 241.2L260.7 242L255.5 233.5L249.1 225.7L243.1 223.1M192.2 136.5L200 139.1L207.7 142.2L214.2 146.3L210.3 148.2L201.3 144.3L193.5 140.4ZM174.9 124.9L179.3 127.5L182.6 132.6L178 130.8ZM74.6 243.8L78.5 246.4L83.6 247.7L88.8 250.8L94 254.2L92.7 257.5L88.8 256.7L86.2 252.3L81 249.8L75.9 247.2ZM332.6 215.4L321.5 216.1L313.7 221.8L308.5 230.9L307.3 241.2L309.8 250.3L316.3 256L324.1 258L332.6 256.2M317.8 70.7L331.4 67.8L339.1 70.7L346.9 74.6L353.7 78.5L339.1 87.2L327.5 94L319.7 101.8L318.7 107.6L325.5 109.5L327.5 113.4L339.1 114.4L350.8 118.3L362.4 121.2L367.3 126L371.1 132.8L376 134.8L378.9 129L374.1 124.1L382.8 119.3L387.6 113.4L382.8 107.6L380.8 101.8L383.8 96L377.9 90.1L370.2 86.3L362.4 82.4M205.2 49.4L216.8 47.4L230.4 48.4L244 51.3L255.7 53.3L269.2 51.3L282.8 54.2L286.7 61L284.8 65.9L277 67.8L265.4 70.7L253.7 68.8L242.1 69.8L230.4 65.9L220.7 61L209.1 59.1L201.3 56.2ZM213.9 41.6L222.7 36.8L236.2 35.8L240.1 38.7L238.2 42.6L230.4 45.1L220.7 44.5ZM247.9 34.2L255.7 31.5L263.8 32.9L264.4 36.8L249.8 37.7ZM277 30.9L288.6 31.5L300.3 33.5M290.6 41.6L308.1 39.7L323.6 41.6L327.5 47.4L315.8 49.4L300.3 48.4L290.6 44.5ZM292.5 54.2L308.1 51.3L323.6 53.3L319.7 59.1L304.2 61L292.5 58.1ZM296.4 66.8L311.9 64.9L319.7 68.8L315.8 74.6L300.3 72.7ZM420.5 40.9L407.6 38.3L398.5 34.4L410.2 30L420.5 25.4L436 21.5L454.1 18.9L472.2 20.2L487.7 17.6L500.6 15.5L518.7 13.7L539.4 12.9L560.1 13.7L578.2 15.5L596.3 17.1L611.8 19.7L628.6 22.8L617 24.8L602.8 26.6L604.1 31.8L598.9 35.7L602.8 40.9L596.3 44.7L600.2 48.6L591.1 52.5L584.7 57.7L592.4 60.3L584.7 64.1L575.6 66.2L565.3 68.8L554.9 71.9L544.6 75.8L534.3 79.1L523.9 83.5L517.5 90L513.6 96.4L511 102.4L504.5 102.9L495.5 99L487.7 93.9L480 87.4L474.8 79.6L473.5 73.2L477.4 69.3L483.8 67.2L477.4 64.1L469.6 61.5L465.7 57.7L461.9 52.5L455.4 47.3L446.4 43.5L436 41.4ZM554.9 19.1L575.6 20.2L596.3 17.6M583.4 80.9L591.1 78.4L604.1 77.6L617 78.4L624.2 82.7L618.3 86.9L606.6 89.5L593.7 88.7L587.3 86.1ZM332.6 113.3L342.9 115.8L351.6 118.6L359.1 119.8L365.3 121.7L366.5 127.3L370.2 132.3L374.6 135.4L378.3 133.5L379.6 128.5L376.4 124.8L374.6 122.9L380.2 121.7L385.8 117.3L387 113.6L383.3 109.3L380.2 107.4L383.3 104.3L382.7 98.7L381.4 95L380.8 92.5L381.4 93.2L389.9 92.1L398.8 92.5L406.3 96.2L412.5 99.3L413.7 104.3L416.8 107.4L420.5 109.3L426.1 106.8L429.9 103.1L432.3 101.2L437.3 106.2L442.3 111.1L444.1 115.5L449.7 118.6L455.9 121.1L460.9 124.8L465.3 128.5L466.5 133.5L463.4 134.7L457.2 135.4L451 137.8L443.5 139.7L436.1 140L426.1 139.7L419.9 142.2L413.7 146.5L407.5 152.1L410 152.1L416.2 148.4L423.6 145.9L431.1 144.7L438.6 143.4L443.5 143.4L441 145.3L433.6 146.5L429.9 147.8L430.5 150.9L433.6 152.1L438.6 153.4L443.5 152.1L447.9 150.9L451 154.6L447.3 157.1L441 159.6L434.8 161.4L429.9 164.5L426.1 164.5L424.9 162.1L428.6 159.6L421.2 158.3L416.2 161.4L410 163.9L408.1 167L411.2 169.5L413.1 171.4L407.5 173.2L401.3 173.2L396.3 175.1L393.8 178.2L390.1 179.5L385.8 183.2L385.1 186.9L388.2 188.2L390.1 190.6L390.7 193.7L386.4 196.8L380.2 200.6L374 204.3L369.6 208.6L368.4 212.5L367.5 215.4L368.8 221.8L371.4 228.3L372.7 233.5L368.8 230.9L364.9 224.4L361 218L355.9 214.6L348.1 213.6L340.4 215.4L332.6 216.1M451 147.8L454.7 144.7L458.4 141.6L464 142.2L469.6 141.6L474.6 143.4L477.1 148.4L475.8 152.7L472.1 153.4L468.4 150.9L464 152.1L460.9 149.6L455.9 149ZM635.6 212L632.5 220.5L624.7 224.4L618.3 230.9L613.1 239.9L609.7 247.7L611.8 255.4L610.5 263.2L607.9 271L610.5 278.7L615.7 285.2L622.2 291.6L627.3 296.8L636.4 303.3L646.7 308.4L658.3 307.7L665.6 307.2M637.1 128.1L640 124.2L645.9 121.3L650.7 122.3L650.7 127.1L646.8 132L641 133.9L637.1 132ZM651.7 114.5L654.6 108.7L660.4 107.3L665.3 109.7L667.2 113.6L663.3 117.4L668.2 120.3L671.1 124.2L675 128.1L679.8 130.1L680.8 133.9L677.9 137.8L672.1 139.2L664.3 140.3L657.5 140.7L652.7 139.8L655.6 136.8L660.4 135.9L657.5 132L654.6 129.1L657.5 125.6L655.6 121.3L652.7 118.4ZM718.6 82.5L707 87.4L696.3 91.2L692.4 96.1L693.4 102.9L696.3 108.7L704.1 106.8L711.9 103.9L716.7 107.7L720.6 114.5L722.5 120.3L727.4 120.3L732.2 118.4L735.1 114.5L738.1 110.6L741 106.8L743.9 101.9L741 98L738.1 94.1L741.9 91.2L749.7 87.9L757.5 84.8L765.2 82.5M707 120.3L705.5 115.5L709.9 113.2L712.8 110.6L715.7 114.5L718.6 118.4L716.7 122.3L712.8 124.2L708.9 123.3ZM715.7 122.3L720.6 121.3M657.5 145.6L663.3 144.2L670.1 142.7L676.9 140.7L683.7 135.9L688.6 131L693.4 128.1L699.2 126.8L705.1 125.2L707 120.3M716.7 124.2L722.5 125.6L730.3 125.2L738.1 123.3L745.8 122.3L750.7 120.3L753.6 116.5L755.5 112.6L761.4 113.6L766.2 111.6L764.3 106.8L769.1 103.9L784.6 102.9L769.1 101.5L759.4 101.9L755.5 99L754 94.1L757.5 90.3L764.3 86.8L771.1 84.1L773 82.5M657.5 145.6L660.4 148.5L666.2 150.4L669.2 155.3L668.2 160.1L665.3 163.1L656.5 162.5L648.8 163.1L642 164L639.1 166.9L640 173.7L642 179.5L641 185.4L642 190.2L650.7 192.2L658.5 190.2L665.3 188.3L670.1 184.4L674 179.5L676.9 173.7L683.7 168.9L691.5 166L699.2 164L705.1 161.7L709.9 162.5L712.8 164L716.7 159.2L722.5 156.3L727.4 157.2L731.3 162.1L736.1 166L741.9 170.8L745.8 174.7L744.9 178.6L740 180.5L738.1 185.4L734.2 189.3L729.3 188.9L722.5 187.3L720.6 184.4L727.4 183.4L732.2 180.5L733.2 176.6L727.4 172.8L722.5 167.9L718.6 163.1L716.7 159.2M722.5 185.4L734.2 187.3M705.1 167.9L708.9 166.9L710.9 173.7L709.9 180.5L706 181.5L704.7 175.7ZM745.8 174.7L749.7 179.5L753.6 185.4L757.5 190.2L761.4 194.1L765.2 197L772 196L769.1 194.1L764.3 191.2L762.3 186.3L765.2 183.4L763.3 179.5L760.4 175.7L766.2 173.7L774.9 172.8L776.9 175.7L774.9 180.5L776.9 185.4L782.7 188.3L790.5 190.2L797.3 191.2L803.1 188.9L810.8 189.6L810.8 194.1L807.9 199L806 204.8L804.1 210.6L802.1 212.5M795.3 195.1L801.1 196.6M776.9 167.9L780.8 162.1L784.6 157.2L790.5 152.4L797.3 153.3L802.1 156.3L806 153.3L813.8 150.4L821.5 149.5L822.5 151.4L813.8 154.7L806 157.2L813.8 159.2L823.5 163.1L830.3 166.9L831.2 170.8L825.4 173.7L815.7 174.1L806 171.8L796.3 169.8L788.5 170.8L782.7 172.8L777.9 173.7ZM635.2 212.5L636.2 210.6L639.1 202.8L643 197L650.7 192.2L660.4 193.5L672.1 191.2L685.7 188.9L699.2 188.3L708.9 187.3L716.7 188.3L714.8 194.1L712.8 199L718.6 202.8L726.4 205.8L734.2 208.7L741.9 210.6L747.8 206.7L755.5 204.4L763.3 205.8L771.1 208.7L778.8 210.6L788.5 209.6L796.3 210.6L802.1 212.5M712.1 29.2L722.5 26.6L738 25.4L756.1 24.8L776.8 26.6L769 30L756.1 31.8L763.8 35.7L750.9 37L740.6 35.7L735.4 40.3L727.6 38.3L719.9 34.4ZM843.5 25.4L868.5 25.4M866.7 57.7L872.4 52.5L880.2 47.3L893.1 43.5L911.2 40.3L931.9 39.6L931.9 42.2L913.8 44.7L898.3 48.1L887.9 51.2L881.5 56.4L885.4 61.5L877.6 62.8L869.8 61.5ZM692.7 99L696.6 93.9L704.4 90L712.1 84.8L719.9 78.4L728.9 71.9L740.6 67.2L753.5 63.6L766.4 61.5L779.4 61L789.7 62.8L800 67.2L810.4 70.6L823.3 74.5L831.1 77.1L820.7 77.6L809.1 76.5L798.7 77.1L802.6 80.2L806.5 84.8L807.8 88.7L814.3 86.1L816.8 81.7L825.9 82.2L832.4 78.4L837.5 75L836.2 70.6L844 72.4L846.6 76.5L856.9 74L867.3 71.4L877.6 69.3L887.9 69.8L898.3 68L900.9 70.6L911.2 67.2L921.5 64.6L926.7 61.5L934.5 56.9L940.9 54.3L947.4 55.1L944.8 61.5L948.7 66.2L946.1 71.9L942.2 78.4L947.4 77.1L952.6 71.9L956.4 66.7L955.2 60.3L962.9 56.9L975.8 53.8L979.7 57.7L983.6 51.2L998.6 47.3M850.5 159.8L855.6 154.6L864.7 150.7L873.7 152L872.4 157.2L866 158.5L864.7 163.7L869.8 167.5L875 170.1L878.9 174L873.7 177.9L872.4 183.1L876.3 188.2L869.8 190.8L860.8 189.5L856.9 184.4L858.2 177.9L855.6 171.4L853 165ZM1015.4 25.9L1032.2 22.3L1050.3 27.4L1069.7 33.1L1050.3 32.6L1032.2 30.5L1021.9 28.5ZM998.6 49.9L1008.9 46L1021.9 43.5L1037.4 42.2L1052.9 40.9L1063.2 38.3L1076.2 39.6L1089.1 40.3L1100.7 42.2L1102 46L1091.7 47.3L1083.9 49.1L1096.8 51.2L1107.2 52.5L1120.1 53.8L1135.6 51.2L1148.5 51.2L1156.3 55.1L1160.2 61L1167.9 61.5L1170.5 58.4L1179.6 59.5L1189.9 59L1199 57.7L1205.4 52.5L1213.2 53.8L1223.5 55.1L1236.4 59L1246.8 61.5L1259.7 61.5L1272.6 64.1L1277.8 67.2L1290.7 66.7L1303.7 67.2L1312.7 69.3L1316.6 66.2L1331.6 65.4M1187.3 44.7L1195.1 42.2L1205.4 42.2L1218.4 44L1218.4 47.3L1205.4 49.1L1192.5 48.1ZM1222.2 46L1240.3 46.6M1331.6 95.2L1321.8 99L1308.8 101.6L1295.9 104.2L1288.2 102.9L1284.3 108.1L1286.9 112L1283 117.1L1279.1 123.6L1271.4 127.5L1268.8 132.6L1262.3 136.5L1258.4 128.8L1257.1 119.7L1261 112L1270.1 108.1L1281.7 97.7L1290.7 92.6L1283 94.6L1272.6 96.4L1257.1 99L1254.5 105L1241.6 106.8L1235.2 103.7L1220.9 104.2L1206.7 105.5L1196.4 111.2L1180.9 121M-0.4 643.4L12.5 642.4L20.3 644.2L35.8 641.6L51.3 645L66.8 647.6L84.9 648.1L103 646L113.4 648.1L128.9 646.8L139.2 645.5L128.9 643.4L110.8 642.9L99.1 640.8L100.4 636.4L87.5 632.6L103 630.5L118.5 630L126.3 627.9L121.1 624.8L103 622.7L87.5 621.7L81 618.3L82.3 615.8L97.8 616.5L113.4 614.5L126.3 611.4L134 609.3L154.7 607.2L175.4 605.4L196.1 605.4L201.3 602.1L214.2 605.4L227.1 604.6L247.8 604.1L254.3 608L268.5 608L284 608.8L296.9 608L299.5 604.6L286.6 601.5L291.7 597.7L312.4 598.4L313.7 602.1L332.6 601M61.6 622.2L69.4 620.9L76.6 624.8L68.1 626.1ZM371.4 327.5L374 336.5L368.8 343L370.1 350.8L377.8 361.1L384.3 372.7L388.2 380.5L397.2 385.7L407.6 392.1L411.5 399.9L410.2 412.8L408.9 430.9L406.3 443.8L405 456.8L400.3 469.7L399.3 482.6L397.2 493L393.4 503.3L391.5 513.6L393.4 524L399.8 530.4L408.9 534.3L417.9 536.4L429.5 533.8L423.1 531.7L416.6 526.6L414.8 520.1L419.2 513.6L424.4 508.5L427 504.6L421.8 500.2L424.4 495.5L430.8 491.7L434.7 485.7L432.1 482.1L438.6 478.7L441.2 473.6L450.2 472.3L458 468.4L459.8 461.9L455.4 455.5L464.5 458.1L472.2 455.5L480 447.7L487.7 437.4L492.4 429.6L492.9 424.4L500.6 418L511 414.1L520 410.2L525.2 399.9L527.8 389.5L528.6 379.2L534.3 371.5L540.7 362.4L544.1 353.4L542 346.9L534.3 343L523.9 338.4L508.4 337.3L492.9 331.4L485.1 327.5M407.6 526.6L415.3 531.7L423.1 532.3M445.1 521.4L458 520.9M332.6 600.3L342.9 601L358.5 602.8L371.4 602.1L384.3 603.6L399.8 602.1L415.3 599L421.8 596.4L417.9 591.2L412.7 586L408.9 586L405 593.8L393.4 596.9L407.6 596.4L415.3 589.9L420.5 579.6L428.3 574.4L441.2 570.5L456.7 566.6L459.3 565.3L446.4 571.8L436 575.7L429.5 580.9L436 586L442.5 591.2L446.4 599L443.8 605.4L433.4 609.3L417.9 611.9L399.8 614.5L384.3 615.8L394.6 619.1L381.7 623.5L386.9 627.4L405 630L425.7 631.3L446.4 633.9L456.7 639L472.2 636.4L492.9 635.2L513.6 634.6L529.1 632.1L547.2 630.5L566.6 628.7L560.1 624.8L542 622.2L539.4 619.6L552.4 617.1L573 614L591.1 611.9L611.8 608L614.4 602.8L624.7 599L635.1 595.1L650.6 593.8L665.6 592.5M470.9 628.7L480 627.4L487.7 620.9L500.6 619.1L511 623.5L511 628.7L498.1 630.5L482.5 630.5ZM427 628.7L446.4 629.5L450.2 627.4M707 327.5L710.8 335.3L717.3 343L722.5 353.4L723.8 361.1L722.5 371.5L719.4 381.8L718.6 392.1L721.2 402.5L726.4 412.8L730.2 423.2L734.1 433.5L739.3 442.5L743.2 447.7L741.9 452.9L748.3 458.1L758.7 454.7L769 454.2L779.4 451.1L787.1 445.1L793.6 436.1L797.5 425.7L802.6 421.9L807.3 415.4L805.2 405.1L806.5 401.2L815.5 394.2L823.3 389.5L826.4 381.8L825.9 371.5L824.6 361.1L820.7 353.4L820.2 346.9L824.6 337.8L831.1 331.4L836.2 327.5M859 372.7L863.4 379.2L864.2 385.7L860.8 394.7L856.9 405.1L853 415.4L850.5 421.9L844 424.4L838.3 420.6L836.2 410.2L839.3 402.5L838.8 393.4L841.4 388.3L849.2 385.7L853 379.2L856.9 374ZM931.4 512.1L939.1 511.6L938.4 514.2L931.9 514.2ZM665.6 594.3L673.4 596.4L686.3 593.8L701.8 590.7L709.6 589.9L716 593.8L725.1 590.7L740.6 589.1L750.9 589.9L758.7 593.3L774.2 591.7L789.7 589.1L800 584.7L810.4 586.5L820.7 589.1L833.6 584.7L851.7 580.3L864.7 576.2L877.6 574.4L886.6 575.7L893.1 579.6L906 582.2L913.8 579.6L924.1 582.2L934.5 583.4L935.8 587.3L930.6 591.2L933.2 593.8L929.3 596.9L939.6 599L947.4 593.8L955.2 589.9L965.5 587.3L975.8 582.2L988.8 579.6L998.6 578.3M1102 408.9L1114.9 405.1L1127.9 399.9L1133 393.4L1139.5 388.3L1148.5 381.8L1156.3 383.1L1164.1 376.6L1170.5 370.2L1179.6 372.7L1187.3 374L1184.7 381.8L1191.2 388.3L1200.3 393.4L1205.4 387L1206.7 376.6L1209.3 368.9L1213.2 377.9L1218.4 385.7L1222.2 394.7L1228.7 401.2L1236.4 410.2L1242.9 418L1248.1 427L1249.4 436.1L1246.8 446.4L1241.6 456.8L1236.4 467.1L1226.1 471L1218.4 469.7L1213.2 472.3L1202.8 468.4L1196.4 460.6L1191.2 452.9L1187.3 456.8L1179.6 450.3L1166.6 446.4L1153.7 447.7L1143.4 450.3L1133 454.2L1120.1 455.5L1112.4 458.8L1105.9 454.2L1107.2 445.1L1103.3 436.1L1100.7 427L1099.9 418ZM1215.8 480L1223.5 482.1L1231.3 480.6L1228.7 487.8L1224 491.7L1219.6 487.8ZM1321.8 456.2L1328.2 461.9L1331.6 464.5M1331.6 472.3L1326.9 478.7L1319.2 485.2L1308.8 493L1298.5 499.4L1306.3 502L1316.6 495.5L1324.3 486.5L1331.6 480M998.6 577L1003.8 575.7L1008.9 578.8L1024.5 579.6L1047.7 579.6L1059.4 573.1L1071 577.8L1083.9 577.8L1099.4 574.4L1112.4 578.3L1125.3 579.6L1138.2 577L1153.7 577L1177 575.7L1180.9 571.8L1184.7 577L1205.4 577.8L1220.9 578.3L1223.5 582.2L1236.4 584.7L1252 584.7L1267.5 588.6L1283 591.7L1298.5 593.8L1316.6 596.4L1308.8 602.8L1295.9 606.7L1288.2 614.5L1290.7 620.9L1299.8 622.2L1283 624.8L1273.9 630L1280.4 635.2L1295.9 637.7L1314 641.6L1331.6 643.4M665.6 307.2L678.5 303.3L691.5 305.1L704.4 308.4L710.8 317.5L711.6 327.6M998.6 247.7L1007.6 245.8L1015.5 242L1020.3 249L1026.7 260.1L1028.3 266.5L1036.2 264.9L1041 271.3L1044.2 282.4L1047.4 296.7L1052.1 306.3L1058.5 315.8L1064.9 325.4L1069.6 334.9L1071.9 342L1068.7 333.4L1064.2 323.8L1059.1 314.3L1054.7 306.3L1050.5 298.3L1048 291L1048.9 284L1052.8 278.3L1060.1 279.6L1064.9 288.8L1068.7 294.2L1076 292.9L1082.4 287.2L1084.6 279.2L1080.8 269.7L1072.8 263.3L1071.2 255.4L1074.4 250.6L1084 247.4L1093.5 245.2L1103.1 242L1112.6 237.8L1120.6 231.5L1126.9 225.1L1131.1 217.2M1080.8 252.2L1087.2 250.6L1090.3 255.4L1085.6 259.2L1080.8 256.9ZM1125.4 234.7L1130.1 232.4L1131.1 239.4L1126.9 245.2L1124.7 239.4ZM1125.4 261.7L1131.7 258.5L1134.3 266.5L1130.1 272.9L1136.5 276L1144.5 280.8L1146.1 287.2L1141.3 288.8L1133.3 284L1126.9 277.6L1125.4 269.7ZM1131.7 293.6L1141.3 291L1148.3 295.2L1147.6 303.1L1142.9 306.9L1134.9 303.1L1131.7 298.3ZM1128.5 279.2L1134.9 285.6L1141.3 293.6M1112.6 295.2L1122.8 285.6M1031.4 307.9L1039.4 311.1L1048.9 320.6L1058.5 333.4L1066.5 344.5L1071.9 352.5L1070.6 355.6L1063.3 350.9L1053.7 339.7L1044.2 327L1034.6 315.8ZM1071.9 352.5L1087.2 354.7L1103.1 357.9L1112.6 360.4L1125.4 362L1131.7 364.2L1127.9 365.8L1112.6 363.6L1093.5 359.8L1074.4 356ZM1138.1 364.2L1150.8 359.8M1155.6 357.9L1165.2 356.6M1085.6 322.2L1095.1 317.4L1106.3 309.5L1115.8 303.1L1122.2 306.3L1117.4 314.3L1120.6 322.2L1112.6 330.2L1109.4 338.1L1099.9 341.3L1090.3 338.1L1087.2 330.2ZM1125.4 327L1133.3 323.8L1141.3 322.2L1133.3 327L1130.1 331.8L1134.9 338.1L1130.1 347.7L1125.4 344.5L1127.9 336.5L1122.8 332.4ZM1155 321.6L1157.8 326L1156.6 331.1L1154 326ZM1146.1 338.8L1163.6 340M1163.6 330.2L1173.1 328.6L1177.9 334.9L1185.8 333.4L1198.6 334.9L1211.3 339.7L1222.5 347.7L1232 357.2L1240 365.2L1232 363.6L1222.5 358.8L1214.5 357.2L1208.1 362L1198.6 358.8L1192.2 354.1L1193.8 349.3L1185.8 344.5L1177.9 341.3L1173.1 334.9ZM1236.8 338.1L1244.7 341.3L1247.9 347.7L1240 346.1ZM1254.3 347.7L1263.8 354.1M1271.8 358.8L1282.9 366.8M1298.9 382.7L1302.1 389.7M1289.3 402.4L1300.5 409.8M330.9 19.9L341.8 18.4L352.7 17.1L365.1 15.3L383.7 14.5L402.3 14.5L422.5 15L436.5 16L442.7 17.6L439.6 20.7L430.3 22.3L421 23L414.8 25.4L405.5 27.7L396.1 29.2L386.8 30.8L383.7 33.1L379.1 37L375.2 39.3M421 19.1L430.3 18.4L439.6 19.1M419.4 26.1L428.7 26.9L430.3 28.5M442.7 18.4L458.2 18.1L470.7 19.1L475.3 20.7L484.6 18.4L495.5 17.6L507.9 15L521.6 14.5M497.1 19.1L507.9 21.8M430.3 27.7L414.8 30.8L402.3 33.1L398.5 35.5L403.9 37.8L414.8 37L424.9 37M405.5 38.6L417.9 40.9L430.3 40.9L442.7 42L453.6 44.8L459.8 49.4L464.5 54.1L466 58.7L476.9 60.3L483.1 63.4L483.9 67.3L480 71.2L473 71.9L470.7 75.8L473 79.7L476.9 83.6L480 88.2L484.6 92.9L489.3 97.6L497.1 100.7L504.8 102.2L512.6 99.9L514.9 94.5L513.4 91.4L521.6 85.1M321.6 22.3L330.9 22.3M337.1 23L352.7 25.4L368.2 25.8M344.9 29.2L355.8 30M321.6 30.8L326.3 30.8M337.1 36.2L357.3 36.2M321.6 38.6L337.1 40.1L375.9 39.3M326.3 44.8L344.9 47.1L375.9 46.3M321.6 49.4L340.2 50.2L372.8 49.4M335.6 54.1L340.2 51.8L349.6 54.1L360.4 52.5L369.7 54.1L379.1 52.5L386.8 53.3L394.6 58.7L402.3 60.3L410.1 61.8L417.9 65L422.5 68.1L416.3 69.6L424.1 71.2L433.4 73.5L443.5 75.8L439.6 79.7L436.5 83.6L430.3 80.5L422.5 78.2L418.6 80.5L424.1 83.6L430.3 85.1L428.7 89.8L433.4 92.1L430.3 93.7L421 94.5L414.8 92.1L407.8 90.6L399.2 89L393 88.2L383.7 86.7L379.1 84.4L383.7 82L394.6 82L399.2 77.4L400.8 74.3L396.1 70.4L389.9 68.8L383.7 67.3L375.9 64.2L368.2 63.4L360.4 64.2L352.7 63.4L344.9 62.6L338.7 60.3L335.6 57.2ZM384.5 71.2L393 71.9L392.3 75.8L385.3 75.8ZM321.6 69.6L327.8 68.1L335.6 71.2L343.3 75.8L351.1 78.2L355.8 77.4L365.1 75.8L369.7 72.7L370.5 68.8M348 85.1L358.9 83.6L372.8 87.5L368.2 92.9L357.3 93.7L349.6 89.8ZM373.6 93.7L375.9 95.2M321.6 94.5L330.9 91.4L341.8 85.1L348.8 82.8M277.4 31.8L289 33.1L301.8 35.2M278.7 33.6L299.2 36.2M250.5 33.1L259.5 32.6L262.1 35.2L253.1 36.2L250.5 33.1M219.8 39.5L230 38.2L239 39.5M230 60.8L253.1 62.8M241.6 70.3L265.9 74.1M207 54.9L222.3 57.5M290.2 40.8L306.9 39.5L319.7 42.1M291.5 45.9L306.9 48L322.3 45.9M294.1 53.6L306.9 51.1L319.7 54.9M299.2 62.6L314.6 60L324.8 65.1M301.8 70.3L317.1 71.6L312 75.4M305.6 33.1L324.8 31.8M312 26.7L335.1 25.4L365.8 25.9M335.1 35.7L355.6 34.4L368.4 38.2M327.4 43.4L347.9 45.9L370.9 44.7M347.9 86.9L360.7 84.4L370.9 89.5L360.7 93.3L350.5 90.8L347.9 86.9M355.6 88.2L365.8 90M1181.1 121.8L1188.6 124.2L1194.1 124.9L1199.7 125.5L1203.5 129.2L1202.2 133.6L1201 138.5L1199.7 143.5L1197.3 147.8L1193.5 152.2L1188.6 156.5L1182.3 161.5L1177.4 165.2L1172.4 167.1L1169.3 165.2L1165 167.1L1160 170.8L1158.1 174.5L1153.8 177L1151.3 179.5L1153.8 183.2L1157.5 187L1160 190.7L1159.4 195L1155 197.5L1149.4 198.8L1147.6 195L1148.2 191.3L1145.7 188.2L1144.5 184.5L1141.4 182L1142.6 178.5L1137.6 177.7L1133.9 178.3L1132 174.5L1128.9 173.9L1124 176.4L1119 179.5L1114.6 182L1117.1 185.1L1122.1 187L1127.7 188.2L1133.9 188.2L1130.8 190.1L1125.8 191.9L1121.5 195.7L1124 200.6L1127.1 205.6L1130.8 209.3L1128.9 213.1L1131.4 216.8L1130.8 222.5M1205.9 124.9L1208.4 123L1210.9 124.9L1212.2 129.8L1213.4 135.4L1215.9 141L1217.7 144.7L1213.4 145.4L1210.9 147.2L1212.8 150.3L1213.4 154.7L1210.9 157.2L1209.7 154.7L1208.4 149.7L1207.8 143.5L1207.2 137.3L1206.6 131.1ZM1209.7 160.9L1214.6 162.1L1219 160.9L1220.9 163.4L1220.2 166.5L1215.9 167.1L1212.2 170.8L1208.4 170.2L1205.9 167.1L1203.5 165.9L1201 168.3L1199.1 165.9L1201 164L1204.7 163.4L1207.2 161.5ZM1201 168.3L1199.7 173.3L1201 177L1198.5 182L1193.5 185.7L1188.6 188.2L1186.1 187.6L1183.6 191.9L1178.6 193.8L1172.4 194.4L1166.2 197.5L1161.2 200.6L1158.7 203.1L1161.2 206.8L1162.5 211.2L1165 211.8L1168.7 208.1L1173.6 205.6L1178.6 203.7L1183.6 201.9L1188.6 198.2L1193.5 196.3L1199.7 194.4L1202.2 189.5L1203.5 184.5L1207.2 179.5L1206.6 174.5L1204.7 170.2ZM1168.7 200.6L1176.1 199.4L1179.9 200.6L1174.9 203.1L1169.3 203.7ZM1160 203.7L1166.2 201.9L1167.4 205.6L1163.7 209.3M332.5 256.3L334.3 253.8L334.9 249.8L338.9 247.8L348 246.8L349 249.8L346 255.9L344 261.9L341 268L348 268L356.1 267L361.1 271L362.2 278.1L361.1 286.1L363.2 292.2L368.2 296.2L371.2 299.3L375.3 296.2L379.3 294.2L384.4 295.2L388.4 292.2L391.4 288.2L396.5 285.1L404.5 282.1L411.6 283.1L416.7 287.1L422.7 288.2L430.8 288.2L440.9 287.1L446.9 288.2L447.9 294.2L454 300.3L461.1 305.3L469.1 305.3L477.2 308.3L482.3 314.4L485.3 320.5L485.7 327.5M301.6 264.9L311.7 269L319.8 267L327.8 272L335.9 276L344 278.1L350 285.1L355.1 291.2L361.1 296.2L367.2 299.3L372.2 301.3L375.3 298.2L381.3 298.2L384.4 303.3L385.4 312.4L381.3 319.4L376.3 325.5L372.2 329.5L371.4 327.5M405 287.6L406.6 293.8M355.1 245.4L360.1 241.3L368.2 240.7L376.3 242.7L382.3 245.8L388.4 248.8L394.5 250.8L396.5 253.8L390.4 253.8L384.4 252.8L381.3 248.8L372.2 245.8L364.2 244.8ZM394.5 257.9L398.5 253.8L406.6 252.8L414.6 254.9L418.7 257.9L413.6 259.9L406.6 258.9L400.5 260.9ZM379.3 259.5L389.4 260.5M421.7 259.1L429.2 259.9M379.3 229.6L383.4 232.6L382.3 238.7M731.3 27.9L746.2 25.4L763.6 25.4L776 27.9M752.4 34.9L766.1 35.4L764.8 37.8L753.6 37.3L752.4 34.9M844.3 23.9L866.7 24.4M845.6 26.9L865.5 26.7M941.2 79.1L951.2 75.9L956.1 70.9M942.5 77.6L952.4 73.4M800.9 79.1L813.3 77.6L826.9 79.1M920.1 39.3L932.5 39.3M800.2 213.2L795.6 215.6L798.7 223.3L803.3 231.1L806.4 238.8L811.1 245.1L812.7 252.8L816.5 259L820.4 266.8L826.6 273L832.8 279.2L835.2 284.6L840.6 288.5L848.4 287L857.7 283.9L866.2 281.5L866.7 287L863.9 296.3L859.2 304.1L853 311.8L846.8 317.6L836.3 327.5M803.3 212.4L804.9 217.1L802.6 222.5L807.2 228L812.7 234.2L818.1 239.6L821.2 246.6L825.9 252.8L831.3 259L835.2 265.2L835.9 273L836.7 279.2L843.7 279.2L851.5 275.3L859.2 271.5L868.6 268.3L871.7 265.2L881 262.9L887.2 258.3L890.3 252.8L893.4 249.7L899.6 244.3L895.7 239.6L890.3 235L884.9 232.6L883.3 229.5L879.4 234.2L874.8 237.3L867.8 237.3L865.5 233.4L862.3 231.9L859.2 227.2L856.1 221L853.8 215.6L857.7 213.2L862.3 214L866.2 218.7L870.9 223.3L876.3 226.4L882.5 226.4L888 226.4L890.3 230.3L899.6 231.9L910.5 232.6L922.9 231.9L926.8 235L930.7 238.8L936.1 242.7L934.6 245.8L940 248.9L947 247.4L948.5 252.8L950.1 260.6L952.4 268.3L955.5 276.1L959.4 283.9L962.5 291.6L965.6 297.8L971 293.2L973.4 287L974.1 279.2L975.7 271.5L978.8 267.6L981.6 265.2L989.7 256.7L998.5 247.7M863.9 232.6L867 234.2L866.2 236.5M973.4 293.2L977.3 290.9L980.4 294.7L979.6 302.5L975.7 305.6L972.6 301Z"/>
</g><rect x="0" y="0" width="1331.3" height="656" fill="none" stroke="#000" stroke-width="3.3"/></g>
<rect x="78.4" y="831.4" width="111.5" height="65.9" fill="#0000ad"/>
<rect x="189.3" y="831.4" width="111.5" height="65.9" fill="#0000ff"/>
<rect x="300.3" y="831.4" width="111.5" height="65.9" fill="#0054ff"/>
<rect x="411.2" y="831.4" width="111.5" height="65.9" fill="#00a8ff"/>
<rect x="522.2" y="831.4" width="111.5" height="65.9" fill="#16ffe1"/>
<rect x="633.1" y="831.4" width="111.5" height="65.9" fill="#5aff9d"/>
<rect x="744" y="831.4" width="111.5" height="65.9" fill="#9dff5a"/>
<rect x="855" y="831.4" width="111.5" height="65.9" fill="#e4ff13"/>
<rect x="965.9" y="831.4" width="111.5" height="65.9" fill="#ffbd00"/>
<rect x="1076.9" y="831.4" width="111.5" height="65.9" fill="#ff6f00"/>
<rect x="1187.8" y="831.4" width="111.5" height="65.9" fill="#ff1e00"/>
<rect x="1298.8" y="831.4" width="111.5" height="65.9" fill="#ad0000"/>
<rect x="78.4" y="831.4" width="1331.3" height="65.9" fill="none" stroke="#000" stroke-width="3.3"/>
<line x1="78.4" y1="897.3" x2="78.4" y2="912.5" stroke="#000" stroke-width="3.3"/>
<text x="78.4" y="958.6" font-size="41.67" text-anchor="middle">0</text>
<line x1="300.3" y1="897.3" x2="300.3" y2="912.5" stroke="#000" stroke-width="3.3"/>
<text x="300.3" y="958.6" font-size="41.67" text-anchor="middle">5</text>
<line x1="522.2" y1="897.3" x2="522.2" y2="912.5" stroke="#000" stroke-width="3.3"/>
<text x="522.2" y="958.6" font-size="41.67" text-anchor="middle">10</text>
<line x1="744" y1="897.3" x2="744" y2="912.5" stroke="#000" stroke-width="3.3"/>
<text x="744" y="958.6" font-size="41.67" text-anchor="middle">15</text>
<line x1="965.9" y1="897.3" x2="965.9" y2="912.5" stroke="#000" stroke-width="3.3"/>
<text x="965.9" y="958.6" font-size="41.67" text-anchor="middle">20</text>
<line x1="1187.8" y1="897.3" x2="1187.8" y2="912.5" stroke="#000" stroke-width="3.3"/>
<text x="1187.8" y="958.6" font-size="41.67" text-anchor="middle">25</text>
<line x1="1409.7" y1="897.3" x2="1409.7" y2="912.5" stroke="#000" stroke-width="3.3"/>
<text x="1409.7" y="958.6" font-size="41.67" text-anchor="middle">30</text>
<text x="744.1" y="1092" font-size="50" text-anchor="middle" xml:space="preserve" style="white-space:pre">Ionosphere  (h=450.0 km), 2006-06-24 06:00 UT</text>
<g transform="translate(78.4 1117.5)"><g clip-path="url(#cp)">
<rect x="0" y="0" width="1331.3" height="656" fill="#0000ad"/>
<path fill="#0000ff" d="M-8.2 389.6C-6.4 389.6 -3.4 389.8 2.2 389.1C7.8 388.5 17.3 386.9 25.5 385.8C33.6 384.6 42.7 383.9 51.3 382.4C59.9 380.9 68.5 378.7 77.2 376.7C85.8 374.7 94.4 372.6 103 370.3C111.6 367.9 122 365 128.9 362.5C135.8 360 142.7 358.3 144.4 355.5C146.1 352.7 141.1 349.1 139.2 345.7C137.3 342.3 134.5 338.4 132.7 335.4C131 332.4 129.6 331.1 128.9 327.7C128.1 324.3 128.1 319.7 128.3 315C128.6 310.3 128.8 304.7 130.2 299.5C131.5 294.3 133.4 288.5 136.6 284C139.9 279.5 144.8 275.4 149.5 272.4C154.3 269.3 157.7 267.4 165.1 265.9C172.4 264.4 183.6 263.3 193.5 263.3C203.4 263.3 214.8 266 224.5 265.9C234.2 265.8 244.5 263.3 251.6 262.5C258.7 261.7 261.9 260.9 267.1 260.9C272.3 260.9 277.4 261.6 282.6 262.5C287.8 263.4 293 265 298.2 266.4C303.4 267.8 308.5 269.7 313.7 271C318.9 272.3 324.3 273.6 329.2 274.1C334.1 274.6 339.6 274.9 343.2 274.1C346.8 273.3 349.4 271.6 351 269.5C352.6 267.4 353.1 264.6 352.6 261.7C352.1 258.8 349.7 255.5 347.9 252.4C346.1 249.3 343.7 246.5 341.6 243.1C339.5 239.7 336.8 235.8 335.5 232.2C334.2 228.6 333.1 224.7 333.9 221.3C334.7 217.9 337.2 214.8 340.1 212C343 209.2 346.3 206.5 351 204.2C355.7 201.9 361.4 200.3 368.1 198C374.8 195.7 384.8 192.3 391.4 190.3C398 188.3 402.7 187.8 407.6 185.7C412.4 183.7 417.9 181 420.5 178C423.1 175 421.8 171.1 423.1 167.6C424.4 164.2 425.2 159.9 428.3 157.3C431.3 154.7 435.6 153.1 441.2 152.1C446.8 151.2 454.1 151.2 461.9 151.6C469.6 152 479.1 153.1 487.7 154.7C496.3 156.3 505 158.8 513.6 161.2C522.2 163.6 530.8 166.1 539.4 168.9C548 171.7 556.7 174.5 565.3 178C573.9 181.4 583.4 185.3 591.1 189.6C598.9 193.9 605.8 198.9 611.8 203.8C617.8 208.8 623 213.8 627.3 219.4C631.6 225 634.9 231 637.7 237.4C640.5 243.9 642 251.2 644.1 258.1C646.3 265 648.2 272.4 650.6 278.8C653 285.3 655.9 291.7 658.3 296.9C660.8 302.1 663.1 307 665.6 309.8C668.1 312.6 670.8 311.9 673.4 313.7C675.9 315.6 679.2 318.6 681.1 321C683.1 323.3 682.8 324.8 685 327.7C687.1 330.5 691.2 334.1 694 337.9C696.8 341.8 698.8 346.6 701.8 350.9C704.8 355.2 708.3 359.5 712.1 363.8C716 368.1 720.8 372.4 725.1 376.7C729.4 381 735 385.3 738 389.6C741 394 742.4 398.3 743.2 402.6C743.9 406.9 743.3 410.8 742.6 415.5C742 420.2 740.6 425.8 739.3 431C738 436.2 735.9 441.4 734.9 446.5C733.9 451.7 733 457.3 733.3 462C733.6 466.8 734.2 471.1 736.7 475C739.2 478.8 742.9 482.3 748.3 485.3C753.7 488.3 762.5 490 769 493.1C775.5 496.1 781.5 499.5 787.1 503.4C792.7 507.3 797.9 511.6 802.6 516.3C807.4 521.1 810.8 527.1 815.5 531.8C820.3 536.6 825 540 831.1 544.8C837.1 549.5 844.8 555.5 851.7 560.3C858.6 565 865.5 568.9 872.4 573.2C879.3 577.5 886.2 582.3 893.1 586.1C900 590 906.5 593.5 913.8 596.5C921.1 599.5 928.9 602.1 937.1 604.2C945.2 606.4 952.7 608.2 962.9 609.4C973.2 610.6 988.3 611.3 998.6 611.5C1008.9 611.7 1015.8 611.3 1024.5 610.7C1033.1 610.1 1041.7 609.4 1050.3 608.1C1058.9 606.8 1067.5 605.1 1076.2 602.9C1084.8 600.8 1093.4 598 1102 595.2C1110.6 592.4 1120.1 588.6 1127.9 586.1C1135.6 583.7 1139.9 581.7 1148.5 580.4C1157.2 579.2 1167.9 578.6 1179.6 578.4C1191.2 578.1 1205.4 578.8 1218.4 578.9C1231.3 579 1246.4 579.1 1257.1 578.9C1267.9 578.7 1275.2 578.6 1283 577.9C1290.7 577.1 1298.1 576.1 1303.7 574.5C1309.3 572.9 1313.8 570.8 1316.6 568C1319.4 565.2 1319.7 562.4 1320.5 557.7C1321.2 553 1320.8 545.2 1321.2 539.6C1321.7 534 1322.1 528.4 1323.1 524.1C1324 519.8 1325.5 516.3 1326.9 513.7C1328.4 511.2 1329.4 510.3 1331.6 508.6C1333.7 506.8 1338.5 504.3 1339.9 503.4L1371.3 503.4L1371.3 -40L-40 -40L-40 389.6Z"/>
<path fill="#0000ff" d="M-8.2 431C-6.4 432.1 -1.7 434 2.2 437.5C6.1 440.9 10.8 447.2 15.1 451.7C19.4 456.2 24.4 461.1 28 464.6C31.7 468.2 32.8 471.5 37.1 472.9C41.4 474.3 49.4 473.9 53.9 473.2C58.4 472.4 59.5 470 64.2 468.5C69 467 75 465.2 82.3 464.1C89.7 463 99.6 462.2 108.2 462C116.8 461.9 124.1 462.5 134 463.3C143.9 464.2 155.6 465.7 167.6 467.2C179.7 468.7 193.5 470.6 206.4 472.4C219.4 474.2 232.3 476.1 245.2 478.1C258.1 480 273.2 482.3 284 484C294.8 485.7 301.7 486.8 309.8 488.4C317.9 490 324.5 491.9 332.6 493.6C340.7 495.2 349.8 496.7 358.5 498.2C367.1 499.8 377.4 502 384.3 502.9C391.2 503.7 394.2 504 399.8 503.4C405.4 502.8 411 500.9 417.9 499.5C424.8 498.1 433 496.2 441.2 495.1C449.4 494.1 457.1 493.5 467 493.1C476.9 492.6 488.6 492.3 500.6 492.5C512.7 492.8 528.7 493.7 539.4 494.4C550.2 495 556.7 496 565.3 496.2C573.9 496.3 582.5 496 591.1 495.1C599.7 494.3 608.4 492.4 617 491C625.6 489.6 634.7 487.5 642.8 486.6C650.9 485.7 659.7 485.6 665.6 485.8C671.5 486 674.2 486.5 678.5 487.9C682.8 489.3 688.1 491.8 691.5 494.4C694.8 496.9 698 500.2 698.7 503.4C699.3 506.6 697.8 510.5 695.3 513.7C692.8 517 688.7 520.6 683.7 522.8C678.7 525 672.4 526.5 665.6 527.2C658.8 527.9 650.9 527.4 642.8 527.2C634.7 527 625.6 526.2 617 526.2C608.4 526.2 599.7 526.2 591.1 527.2C582.5 528.1 573.9 530.1 565.3 531.8C556.7 533.6 548 535.9 539.4 537.5C530.8 539.2 522.2 540.8 513.6 541.7C505 542.5 496.3 542.8 487.7 542.7C479.1 542.6 470.5 541.9 461.9 540.9C453.2 539.9 444.6 538 436 536.5C427.4 535 418.8 533 410.2 531.8C401.5 530.7 392.9 529.6 384.3 529.8C375.7 530 367.1 532 358.5 533.1C349.8 534.3 339.4 535.6 332.6 536.5C325.8 537.4 323.5 537.9 317.6 538.3C311.6 538.7 304.2 539.1 296.9 539.1C289.6 539.1 282.3 539.1 273.6 538.3C265 537.5 255.5 536.1 245.2 534.4C234.9 532.7 222.4 530.1 211.6 528C200.8 525.8 191.8 523.4 180.6 521.5C169.4 519.6 155.6 518 144.4 516.3C133.2 514.7 122.8 513.4 113.4 511.7C103.9 510 95.3 508.2 87.5 506C79.7 503.7 72.9 501 66.8 498.2C60.8 495.4 56.3 491.4 51.3 489.2C46.4 486.9 41.4 484.8 37.1 484.8C32.8 484.8 29.5 487.8 25.5 489.2C21.4 490.6 16.4 491.8 12.5 493.1C8.6 494.4 5.6 495.9 2.2 496.9C-1.3 498 -6.4 499.1 -8.2 499.5Z"/>
<path fill="#0054ff" d="M-8.2 366.4C-6.4 365.9 -3.4 365 2.2 363.3C7.8 361.6 18.1 359 25.5 356C32.8 353.1 40.1 349.1 46.1 345.7C52.2 342.3 57.3 338.4 61.6 335.4C66 332.4 67.7 331.1 72 327.7C76.3 324.3 82.3 319.3 87.5 315C92.7 310.7 98.3 306.4 103 302.1C107.8 297.8 112.1 293.9 115.9 289.2C119.8 284.4 122.8 278.4 126.3 273.6C129.7 268.9 132.7 264.6 136.6 260.7C140.5 256.8 144.4 253.8 149.5 250.4C154.7 246.9 161.6 243.9 167.6 240C173.7 236.2 180.1 231.4 185.7 227.1C191.3 222.8 196.5 218.9 201.3 214.2C206 209.4 209.9 203.8 214.2 198.7C218.5 193.5 222.8 187.9 227.1 183.2C231.4 178.4 234.9 174.5 240 170.2C245.2 165.9 250.8 162 258.1 157.3C265.5 152.6 275.4 146.1 284 141.8C292.6 137.5 301.7 134.3 309.8 131.5C317.9 128.7 324.5 127.1 332.6 125C340.7 122.9 347.7 120.8 358.5 119C369.2 117.3 384.3 115.5 397.2 114.6C410.2 113.8 423.1 113.2 436 113.9C448.9 114.5 461.9 116.2 474.8 118.5C487.7 120.8 500.6 124.1 513.6 127.6C526.5 131 539.4 135.1 552.4 139.2C565.3 143.3 580.4 148 591.1 152.1C601.9 156.2 609.2 159.7 617 163.8C624.7 167.9 632.1 172.6 637.7 176.7C643.3 180.8 647.1 184.7 650.6 188.3C654 192 656.2 195 658.3 198.7C660.5 202.3 662.3 207.5 663.5 210.3C664.7 213.1 664.4 212.7 665.6 215.5C666.8 218.3 668.6 222.6 670.8 227.1C672.9 231.6 675.5 237.4 678.5 242.6C681.5 247.8 685 253.4 688.9 258.1C692.7 262.9 697.9 266.7 701.8 271.1C705.7 275.4 709.3 279.2 712.1 284C714.9 288.7 716.9 293.9 718.6 299.5C720.3 305.1 721.4 312.9 722.5 317.6C723.6 322.3 723.3 323.8 725.1 327.6C726.8 331.4 728.9 335.8 732.8 340.5C736.7 345.3 742.3 351.7 748.3 356C754.4 360.3 762.1 363.1 769 366.4C775.9 369.6 782.8 372.2 789.7 375.4C796.6 378.7 803.5 382.1 810.4 385.8C817.3 389.4 825 393.7 831.1 397.4C837.1 401.1 842.9 404.7 846.6 407.7C850.2 410.8 853 412.9 853 415.5C853 418.1 849.8 420.7 846.6 423.3C843.3 425.8 837.5 428.4 833.6 431C829.8 433.6 825.7 436 823.3 438.8C820.9 441.6 819.4 444.8 819.4 447.8C819.4 450.8 820.5 453.6 823.3 456.9C826.1 460.1 831.5 463.8 836.2 467.2C841 470.7 846.6 474.1 851.7 477.5C856.9 481 862.1 484.4 867.3 487.9C872.4 491.3 878.5 494.8 882.8 498.2C887.1 501.7 890.5 504.7 893.1 508.6C895.7 512.5 896.1 517.2 898.3 521.5C900.4 525.8 902.6 530.5 906 534.4C909.5 538.3 914.2 541.3 919 544.8C923.7 548.2 928.4 552.1 934.5 555.1C940.5 558.1 948.3 560.7 955.2 562.9C962 565 968.6 566.4 975.8 568C983.1 569.7 990.5 572.3 998.6 572.7C1006.7 573.1 1015.8 571.6 1024.5 570.6C1033.1 569.6 1040.8 568.5 1050.3 566.7C1059.8 565 1071 562.6 1081.3 560.3C1091.7 557.9 1102 555.1 1112.4 552.5C1122.7 549.9 1133 547.3 1143.4 544.8C1153.7 542.3 1164.9 539.9 1174.4 537.5C1183.9 535.2 1192.5 533 1200.3 530.5C1208 528.1 1215.8 525.8 1220.9 522.8C1226.1 519.8 1227.8 516.1 1231.3 512.5C1234.7 508.8 1238.2 504.5 1241.6 500.8C1245.1 497.2 1247.7 493.9 1252 490.5C1256.3 487 1262.3 483.6 1267.5 480.1C1272.6 476.7 1278.7 473.2 1283 469.8C1287.3 466.3 1291.2 463.1 1293.3 459.5C1295.5 455.8 1296.8 451.5 1295.9 447.8C1295 444.2 1292 440.7 1288.2 437.5C1284.3 434.2 1278.7 431.4 1272.6 428.4C1266.6 425.4 1258.9 422.2 1252 419.4C1245.1 416.6 1238.2 414 1231.3 411.6C1224.4 409.3 1216.6 407.3 1210.6 405.2C1204.6 403 1198.5 401.1 1195.1 398.7C1191.6 396.3 1188.6 393.5 1189.9 390.9C1191.2 388.4 1196.8 385.3 1202.8 383.2C1208.9 381 1217.1 379.5 1226.1 378C1235.2 376.5 1245.5 375.4 1257.1 374.1C1268.8 372.8 1283.5 371.6 1295.9 370.3C1308.3 369 1324.3 367.1 1331.6 366.4C1338.9 365.6 1338.5 365.9 1339.9 365.9L1371.3 365.9L1371.3 -40L-40 -40L-40 366.4Z"/>
<path fill="#00a8ff" d="M-8.2 345.7C-6.4 345.1 -1.7 343.5 2.2 341.8C6.1 340.1 10.4 337.7 15.1 335.4C19.9 333 24.6 330.6 30.6 327.7C36.7 324.7 43.6 321.4 51.3 317.6C59.1 313.8 69.8 309 77.2 304.7C84.5 300.4 90.5 296 95.3 291.7C100 287.4 102.6 283.6 105.6 278.8C108.6 274.1 110.8 268.5 113.4 263.3C115.9 258.1 117.7 252.5 121.1 247.8C124.6 243.1 129.3 239.2 134 234.9C138.8 230.6 144.4 226.7 149.5 221.9C154.7 217.2 159.9 211.6 165.1 206.4C170.2 201.3 176.3 196.1 180.6 190.9C184.9 185.7 187.5 181 190.9 175.4C194.4 169.8 197.4 163.1 201.3 157.3C205.1 151.5 209 145.7 214.2 140.5C219.4 135.3 225 130.8 232.3 126.3C239.6 121.8 249.5 117 258.1 113.4C266.7 109.7 275.4 107.1 284 104.3C292.6 101.5 301.7 98.6 309.8 96.5C317.9 94.5 320.2 93.4 332.6 92.2C345 90.9 367.1 89.4 384.3 88.8C401.5 88.2 420.9 88.4 436 88.8C451.1 89.2 461.9 89.9 474.8 91.4C487.7 92.9 500.6 95.3 513.6 97.8C526.5 100.4 539.4 103.7 552.4 106.9C565.3 110.1 580.4 114 591.1 117.2C601.9 120.5 608.4 123.3 617 126.3C625.6 129.3 634.7 131.8 642.8 135.3C650.9 138.9 659.7 144.7 665.6 147.5C671.5 150.3 674.2 150.1 678.5 152.1C682.8 154.2 687.6 156 691.5 159.9C695.3 163.8 698.3 169.8 701.8 175.4C705.2 181 709.1 187.9 712.1 193.5C715.2 199.1 716.9 204.3 719.9 209C722.9 213.8 726.8 218.1 730.2 221.9C733.7 225.8 737.1 228 740.6 232.3C744 236.6 748.1 242.2 750.9 247.8C753.7 253.4 756 259.9 757.4 265.9C758.8 271.9 758.5 277.5 759.2 284C759.8 290.4 759.8 297.4 761.3 304.7C762.7 311.9 764.7 322.5 767.7 327.6C770.7 332.7 774.8 332.6 779.4 335.4C783.9 338.2 789.7 341.4 794.9 344.4C800 347.4 805.2 350.7 810.4 353.5C815.5 356.3 819.9 358.6 825.9 361.2C831.9 363.8 838.8 366.6 846.6 369C854.3 371.3 863.8 373.7 872.4 375.4C881 377.2 889.7 378 898.3 379.3C906.9 380.6 915.5 382.2 924.1 383.2C932.7 384.1 941.4 384.8 950 385C958.6 385.2 967.7 384.8 975.8 384.5C983.9 384.2 990.5 383.4 998.6 383.2C1006.7 383 1015.8 383.4 1024.5 383.2C1033.1 383 1041.7 382.8 1050.3 381.9C1058.9 381 1067.5 379.3 1076.2 378C1084.8 376.7 1093.4 375.4 1102 374.1C1110.6 372.8 1119.2 371.3 1127.9 370.3C1136.5 369.2 1145.1 368.3 1153.7 367.7C1162.3 367 1171 367 1179.6 366.4C1188.2 365.7 1196.8 364.7 1205.4 363.8C1214 362.8 1222.7 361.6 1231.3 360.7C1239.9 359.7 1248.5 359.1 1257.1 358.1C1265.7 357.1 1274.4 355.9 1283 354.7C1291.6 353.6 1300.7 352.4 1308.8 351.4C1316.9 350.4 1326.4 349.3 1331.6 348.8C1336.8 348.3 1338.5 348.4 1339.9 348.3L1371.3 348.3L1371.3 -40L-40 -40L-40 345.7Z"/>
<path fill="#00a8ff" d="M975.8 431C967.7 432.1 956.9 434 950 436.2C943.1 438.3 937.9 441.4 934.5 443.9C931 446.5 929.3 448.9 929.3 451.7C929.3 454.5 931 457.9 934.5 460.7C937.9 463.5 943.1 466.5 950 468.5C956.9 470.5 967.7 472.6 975.8 472.9C983.9 473.2 990.5 471.7 998.6 470.3C1006.7 468.9 1015.8 466.4 1024.5 464.6C1033.1 462.8 1041.7 461 1050.3 459.5C1058.9 457.9 1067.5 456.3 1076.2 455.6C1084.8 454.8 1093.4 454.9 1102 454.8C1110.6 454.7 1119.2 454.5 1127.9 454.8C1136.5 455.1 1145.1 456.1 1153.7 456.9C1162.3 457.6 1171.8 459 1179.6 459.5C1187.3 459.9 1194.2 460.1 1200.3 459.5C1206.3 458.8 1212.3 457.3 1215.8 455.6C1219.2 453.8 1220.9 451 1220.9 449.1C1220.9 447.2 1219.2 445.7 1215.8 443.9C1212.3 442.2 1206.3 440.4 1200.3 438.8C1194.2 437.1 1187.3 435.5 1179.6 434.1C1171.8 432.7 1162.3 431.5 1153.7 430.5C1145.1 429.5 1136.5 428.8 1127.9 427.9C1119.2 427 1110.6 426 1102 425.3C1093.4 424.6 1084.8 423.9 1076.2 423.8C1067.5 423.6 1058.9 424 1050.3 424.5C1041.7 425.1 1033.1 426.3 1024.5 427.1C1015.8 428 1006.7 429.1 998.6 429.7C990.5 430.4 983.9 429.9 975.8 431Z"/>
<path fill="#16ffe1" d="M-8.2 60.6C-6.4 60.7 -5.6 60.7 2.2 61.1C9.9 61.5 25.9 62.3 38.4 62.9C50.9 63.5 64.2 64.3 77.2 64.7C90.1 65.2 102.2 64.8 115.9 65.5C129.7 66.2 144.8 69.7 159.9 68.9C175 68 194.4 63.1 206.4 60.4C218.5 57.6 223.7 54.6 232.3 52.6C240.9 50.6 247.4 49.2 258.1 48.2C268.9 47.2 284.5 47 296.9 46.7C309.3 46.3 318 46 332.6 46.1C347.2 46.3 369.2 46.6 384.3 47.4C399.4 48.3 410.2 50 423.1 51.3C436 52.6 446.8 54 461.9 55.2C476.9 56.4 492 57.8 513.6 58.5C535.1 59.3 565.8 59.6 591.1 59.6C616.5 59.6 646.7 58.7 665.6 58.5C684.5 58.4 693.6 58.2 704.4 58.5C715.2 58.8 723.3 59.4 730.2 60.4C737.1 61.3 742.5 62.5 745.7 64.2C749 66 750.1 68.5 749.6 70.7C749.2 72.9 746 74.8 743.2 77.2C740.4 79.5 735.6 81.9 732.8 84.9C730 87.9 727.6 91.8 726.4 95.3C725.1 98.7 724.9 102.4 725.6 105.6C726.2 108.8 727.7 112.1 730.2 114.6C732.7 117.2 736.3 119.4 740.6 121.1C744.9 122.8 750.5 123.9 756.1 125C761.7 126.1 767.7 126.5 774.2 127.6C780.6 128.7 788 129.9 794.9 131.5C801.8 133 809.1 134.3 815.5 136.6C822 139 828.5 142.2 833.6 145.7C838.8 149.1 842.7 152.8 846.6 157.3C850.5 161.8 853.5 167.6 856.9 172.8C860.4 178 865.1 184 867.3 188.3C869.4 192.6 871.6 195.7 869.8 198.7C868.1 201.7 861.7 203.8 856.9 206.4C852.2 209 846.6 211.2 841.4 214.2C836.2 217.2 830.2 220.6 825.9 224.5C821.6 228.4 818.2 232.7 815.5 237.4C812.9 242.2 811.2 247.4 809.9 253C808.6 258.6 808.1 265 807.8 271.1C807.5 277.1 807.9 283.6 808.3 289.2C808.7 294.8 809.4 299.9 810.4 304.7C811.4 309.4 812.1 313.8 814.3 317.6C816.4 321.4 820.1 324.6 823.3 327.6C826.5 330.6 829.8 332.8 833.6 335.4C837.5 337.9 841 340.1 846.6 343.1C852.2 346.1 860.4 350.4 867.3 353.5C874.1 356.5 880.6 358.8 887.9 361.2C895.3 363.6 903 365.9 911.2 367.7C919.4 369.5 928.4 371.2 937.1 372.1C945.7 372.9 952.7 372.7 962.9 372.8C973.2 373 988.3 373.1 998.6 372.8C1008.9 372.6 1015.8 372.2 1024.5 371.6C1033.1 370.9 1041.7 370.3 1050.3 369C1058.9 367.7 1067.5 365.6 1076.2 363.8C1084.8 362 1093.4 359.8 1102 358.1C1110.6 356.4 1119.2 354.7 1127.9 353.5C1136.5 352.2 1145.1 351.1 1153.7 350.4C1162.3 349.6 1171 349.4 1179.6 348.8C1188.2 348.2 1196.8 347.9 1205.4 347C1214 346.1 1222.7 344.7 1231.3 343.6C1239.9 342.6 1248.5 341.7 1257.1 340.5C1265.7 339.4 1274.4 338 1283 336.6C1291.6 335.3 1300.7 333.5 1308.8 332.3C1316.9 331 1326.4 329.7 1331.6 328.9C1336.8 328.1 1338.5 327.8 1339.9 327.6L1371.3 327.6L1371.3 -40L-40 -40L-40 60.6Z"/>
<path fill="#00a8ff" d="M1339.9 57.8C1338.5 57.6 1335.9 57.6 1331.6 57C1327.3 56.3 1320 55.1 1314 53.9C1308.1 52.7 1300.7 51.3 1295.9 50C1291.2 48.7 1287.7 48.5 1285.6 46.1C1283.4 43.8 1283.6 39.2 1283 35.8C1282.3 32.3 1283 28.3 1281.7 25.5C1280.4 22.7 1279.3 20.9 1275.2 19C1271.1 17.1 1266.6 15.5 1257.1 13.8C1247.7 12.1 1231.3 9.7 1218.4 8.6C1205.4 7.6 1194.7 7.7 1179.6 7.4C1164.5 7.1 1145.1 7 1127.9 6.8C1110.6 6.7 1091.2 6.5 1076.2 6.6C1061.1 6.7 1050.3 6.8 1037.4 7.4C1024.5 7.9 1007.1 9 998.6 9.9C990.1 10.9 990 12 986.2 13C982.4 14.1 975.8 15.4 975.8 16.4C975.8 17.4 982.4 18.5 986.2 19.2C990 20 992.2 20.2 998.6 20.8C1005 21.4 1013.7 21.9 1024.5 22.9C1035.2 23.9 1050.3 25.5 1063.2 26.7C1076.2 28 1089.1 29 1102 30.1C1114.9 31.2 1127.9 32.2 1140.8 33.2C1153.7 34.2 1168.8 35.2 1179.6 36.3C1190.3 37.4 1196.8 38 1205.4 39.7C1214 41.3 1224.4 43.8 1231.3 46.1C1238.2 48.5 1244.6 50.9 1246.8 53.9C1248.9 56.9 1245.9 60.8 1244.2 64.2C1242.5 67.7 1239.5 71.1 1236.4 74.6C1233.4 78 1230.4 81.5 1226.1 84.9C1221.8 88.4 1216.6 92 1210.6 95.3C1204.6 98.5 1197.2 101.9 1189.9 104.3C1182.6 106.7 1174.8 108.4 1166.6 109.5C1158.5 110.6 1149.4 111 1140.8 110.8C1132.2 110.6 1123.6 109.5 1114.9 108.2C1106.3 106.9 1097.7 104.5 1089.1 103C1080.5 101.5 1071.9 100.1 1063.2 99.1C1054.6 98.2 1045.6 97.5 1037.4 97.3C1029.2 97.1 1020.6 97.3 1014.1 97.8C1007.6 98.4 1003.7 99.4 998.6 100.4C993.5 101.5 987.8 102.8 983.6 104.3C979.4 105.8 975.2 107.8 973.3 109.5C971.3 111.2 971.1 112.7 972 114.6C972.8 116.6 975.6 119.5 978.4 121.1C981.2 122.7 985.4 122.9 988.8 124.2C992.1 125.5 992.7 127.7 998.6 128.9C1004.5 130.1 1013.7 131.5 1024.5 131.5C1035.2 131.5 1050.3 129.5 1063.2 128.9C1076.2 128.2 1091.2 127.6 1102 127.6C1112.8 127.6 1120.1 127.8 1127.9 128.9C1135.6 129.9 1142.1 131.5 1148.5 134C1155 136.6 1160.6 140.5 1166.6 144.4C1172.7 148.3 1178.3 153.9 1184.7 157.3C1191.2 160.8 1198.5 162.9 1205.4 165.1C1212.3 167.2 1219.2 168.5 1226.1 170.2C1233 172 1239.5 173.5 1246.8 175.4C1254.1 177.3 1261.9 179.9 1270.1 181.9C1278.2 183.8 1285.7 185.5 1295.9 187C1306.2 188.5 1324.3 190.1 1331.6 190.9C1338.9 191.8 1338.5 192 1339.9 192.2Z"/>
<path fill="#16ffe1" d="M1339.9 119.8C1338.5 119.8 1336.8 120.2 1331.6 119.8C1326.4 119.4 1316.1 118.1 1308.8 117.2C1301.6 116.4 1294.2 114.4 1288.2 114.6C1282.1 114.9 1276.5 116.2 1272.6 118.5C1268.8 120.9 1265.7 125.4 1264.9 128.9C1264 132.3 1264.5 136.4 1267.5 139.2C1270.5 142 1276.1 143.5 1283 145.7C1289.9 147.8 1300.7 150.4 1308.8 152.1C1316.9 153.9 1326.4 155.2 1331.6 156C1336.8 156.8 1338.5 156.7 1339.9 156.8Z"/>
<path fill="#16ffe1" d="M-8.2 123.7C-6.4 124 -5.6 124.5 2.2 125.8C9.9 127.1 25.9 129.7 38.4 131.5C50.9 133.2 65.5 134.8 77.2 136.1C88.8 137.4 99.6 137.8 108.2 139.2C116.8 140.6 122.8 141.8 128.9 144.4C134.9 147 140.7 150.8 144.4 154.7C148 158.6 150.4 162.9 150.8 167.6C151.3 172.4 149.8 178 147 183.2C144.2 188.3 139.2 194.4 134 198.7C128.9 203 121.1 205.6 115.9 209C110.8 212.5 106 215.5 103 219.4C100 223.2 98.9 227.5 97.8 232.3C96.8 237 97.4 243.1 96.5 247.8C95.7 252.5 95 256.4 92.7 260.7C90.3 265 87.1 269.3 82.3 273.6C77.6 278 71.6 282.3 64.2 286.6C56.9 290.9 46.6 295.4 38.4 299.5C30.2 303.6 21.1 308.3 15.1 311.1C9.1 313.9 6.1 314.8 2.2 316.3C-1.7 317.8 -6.4 319.5 -8.2 320.2Z"/>
<path fill="#00a8ff" d="M-8.2 165.1C-6.4 165.4 -0.8 165.8 2.2 167.1C5.2 168.4 8 170.8 9.9 172.8C11.9 174.8 13.6 177.1 13.8 179.3C14 181.4 13.2 184.2 11.2 185.7C9.3 187.3 5.4 187.7 2.2 188.3C-1 189 -6.4 189.4 -8.2 189.6Z"/>
<path fill="#5aff9d" d="M1339.9 214.7C1338.5 214.6 1336.8 214.5 1331.6 214.2C1326.4 213.9 1316.9 213.5 1308.8 212.9C1300.7 212.2 1291.6 211.4 1283 210.3C1274.4 209.2 1265.7 207.7 1257.1 206.4C1248.5 205.1 1239.9 203.8 1231.3 202.5C1222.7 201.3 1214 200 1205.4 199.2C1196.8 198.3 1188.2 197.8 1179.6 197.4C1171 196.9 1162.3 196.5 1153.7 196.6C1145.1 196.7 1136.5 197.2 1127.9 198.2C1119.2 199.1 1110.6 201 1102 202.5C1093.4 204.1 1084.8 205.8 1076.2 207.7C1067.5 209.7 1058.9 212.2 1050.3 214.2C1041.7 216.1 1033.1 217.7 1024.5 219.4C1015.8 221 1006.7 223.1 998.6 224C990.5 224.9 983.9 224.5 975.8 224.5C967.7 224.5 958.6 223.9 950 224C941.4 224.1 931.9 224.3 924.1 225C916.4 225.8 909.5 227 903.4 228.4C897.4 229.8 893.1 231.2 887.9 233.6C882.8 235.9 877.2 239.4 872.4 242.6C867.7 245.9 863.2 249.1 859.5 253C855.8 256.8 852.6 261.1 850.5 265.9C848.3 270.6 847 276.2 846.6 281.4C846.1 286.6 847 291.7 847.9 296.9C848.7 302.1 850.2 308.1 851.7 312.4C853.3 316.7 854.3 320.2 856.9 322.8C859.5 325.3 863.8 325.7 867.3 327.6C870.7 329.5 873.3 331.7 877.6 334.1C881.9 336.4 887.1 339 893.1 341.8C899.1 344.6 906.9 348.2 913.8 350.9C920.7 353.6 927.6 356.2 934.5 358.1C941.4 360 948.3 361.6 955.2 362.5C962 363.4 968.6 363.3 975.8 363.3C983.1 363.3 990.5 362.8 998.6 362.5C1006.7 362.2 1015.8 362.6 1024.5 361.7C1033.1 360.9 1041.7 359.1 1050.3 357.3C1058.9 355.6 1067.5 353.2 1076.2 351.4C1084.8 349.5 1093.4 347.8 1102 346.2C1110.6 344.6 1119.2 343.1 1127.9 341.8C1136.5 340.5 1145.1 339.4 1153.7 338.5C1162.3 337.5 1171 336.8 1179.6 335.9C1188.2 334.9 1196.8 333.8 1205.4 332.8C1214 331.7 1222.7 330.5 1231.3 329.7C1239.9 328.8 1250.2 329.6 1257.1 327.6C1264 325.6 1268.3 321 1272.6 317.6C1277 314.2 1279.1 310.1 1283 307.3C1286.9 304.5 1291.6 302.1 1295.9 300.8C1300.2 299.5 1302.9 299.5 1308.8 299.5C1314.8 299.5 1326.4 300.5 1331.6 300.8C1336.8 301 1338.5 301 1339.9 301Z"/>
<path fill="#5aff9d" d="M-8.2 215.5C-6.4 215.8 -2.6 216.4 2.2 217.3C6.9 218.1 14.3 219 20.3 220.6C26.3 222.3 32.8 223.9 38.4 227.1C44 230.3 50.2 235.5 53.9 240C57.6 244.6 60.1 249.5 60.4 254.3C60.6 259 58.4 263.9 55.2 268.5C52 273 46.8 277.5 41 281.4C35.1 285.3 26.7 288.9 20.3 291.7C13.8 294.5 6.9 296.7 2.2 298.2C-2.6 299.7 -6.4 300.4 -8.2 300.8Z"/>
<path fill="#9dff5a" d="M1339.9 233.8C1338.5 233.8 1336.8 233.9 1331.6 233.6C1326.4 233.2 1316.9 232.6 1308.8 231.8C1300.7 230.9 1291.6 229.7 1283 228.4C1274.4 227.1 1265.7 225.5 1257.1 224C1248.5 222.5 1239.9 220.6 1231.3 219.4C1222.7 218.1 1214 217 1205.4 216.2C1196.8 215.5 1188.2 215 1179.6 214.7C1171 214.4 1162.3 214.4 1153.7 214.7C1145.1 215 1136.5 215.8 1127.9 216.8C1119.2 217.8 1110.6 218.9 1102 220.6C1093.4 222.4 1084.8 225 1076.2 227.1C1067.5 229.3 1058.9 231.6 1050.3 233.6C1041.7 235.5 1033.1 237.4 1024.5 238.7C1015.8 240.1 1006.7 240.6 998.6 241.8C990.5 243.1 983.9 244.4 975.8 246.5C967.7 248.6 957.3 251.9 950 254.3C942.7 256.6 935.3 258.3 931.9 260.7C928.4 263.1 928.4 265.9 929.3 268.5C930.2 271.1 934 273.6 937.1 276.2C940.1 278.8 944.8 281.4 947.4 284C950 286.6 952.6 289.2 952.6 291.7C952.6 294.3 950.4 296.9 947.4 299.5C944.4 302.1 937.9 304.2 934.5 307.3C931 310.3 928.4 314.2 926.7 317.6C925 321 923.7 324.7 924.1 327.7C924.6 330.6 926.7 332.6 929.3 335.4C931.9 338.1 935.3 341.8 939.6 344.4C944 347 949.1 349.4 955.2 350.9C961.2 352.4 968.6 353.1 975.8 353.5C983.1 353.8 990.5 353.3 998.6 352.9C1006.7 352.6 1015.8 352.5 1024.5 351.4C1033.1 350.3 1041.7 348 1050.3 346.2C1058.9 344.4 1067.5 342.4 1076.2 340.5C1084.8 338.6 1093.4 336.6 1102 334.8C1110.6 333.1 1120.1 331.4 1127.9 330.2C1135.6 329 1142.5 328.8 1148.5 327.6C1154.6 326.4 1159.8 324.6 1164.1 322.8C1168.4 320.9 1169.7 318.2 1174.4 316.3C1179.1 314.4 1185.2 312.9 1192.5 311.1C1199.8 309.4 1210.6 308.8 1218.4 306C1226.1 303.2 1232.6 299.1 1239 294.3C1245.5 289.6 1249.8 281.4 1257.1 277.5C1264.5 273.6 1274.4 272.4 1283 271.1C1291.6 269.8 1300.7 270.2 1308.8 269.8C1316.9 269.3 1326.4 268.7 1331.6 268.5C1336.8 268.3 1338.5 268.5 1339.9 268.5Z"/>
<path fill="#9dff5a" d="M-8.2 233.6C-6.4 233.9 -1.3 234.3 2.2 235.4C5.6 236.5 9.3 238 12.5 240C15.8 242.1 19.6 245.2 21.6 247.8C23.5 250.4 24.4 252.7 24.2 255.5C23.9 258.3 22.7 261.8 20.3 264.6C17.9 267.4 13 270.3 9.9 272.4C6.9 274.4 5.2 275.7 2.2 276.7C-0.8 277.8 -6.4 278.5 -8.2 278.8Z"/>
<path fill="#e4ff13" d="M1204.1 243.9C1200.3 241.8 1188 240 1179.6 238.7C1171.2 237.4 1162.3 236.2 1153.7 236.2C1145.1 236.2 1136.5 237.2 1127.9 238.7C1119.2 240.2 1110.6 242.6 1102 245.2C1093.4 247.8 1082.8 251.2 1076.2 254.3C1069.5 257.3 1064.9 260.1 1061.9 263.3C1059 266.5 1057.9 269.8 1058.6 273.6C1059.2 277.5 1062.5 282.7 1065.8 286.6C1069.2 290.4 1072.7 294.3 1078.7 296.9C1084.8 299.5 1094.7 301.4 1102 302.1C1109.3 302.7 1116.7 302.3 1122.7 300.8C1128.7 299.3 1133.9 295.8 1138.2 293C1142.5 290.2 1145.1 287.2 1148.5 284C1152 280.8 1154.6 277.1 1158.9 273.6C1163.2 270.2 1169.2 266.1 1174.4 263.3C1179.6 260.5 1185.2 258.8 1189.9 256.8C1194.7 254.9 1200.5 253.8 1202.8 251.7C1205.2 249.5 1208 246.1 1204.1 243.9Z"/>
<path fill="none" stroke="#000" stroke-width="4.2" stroke-linejoin="round" stroke-linecap="round" d="M-0.4 60.8L9.4 60.8M-0.4 68.8L9.9 72.4L20.3 75.8L30.6 77.8L36.3 80.2L31.9 82.7L25.5 82.7L24.9 86.1L17.7 84.3L9.9 81.7L-0.4 78.4M29.3 89.7L41 90.5M332.6 73.2L309.8 74.5L289.2 73.2L271.1 74.5L258.1 71.9L240 68L227.1 66.2L219.4 64.1L211.6 65.4L203.8 67.2L196.1 62.8L185.7 64.1L175.4 66.2L162.5 69.3L154.7 68.8L134 64.6L113.4 62.8L97.8 61.5L87.5 59.7L77.2 61.5L66.8 63.6L57.8 67.2L50 69.8L55.2 74L60.4 77.1L52.6 79.6L44.8 81.7L51.3 83.5L61.6 82.7L70.7 86.1L69.4 90L61.6 90L55.2 93.1L52.6 99L47.4 102.4L55.2 102.9L62.9 105.5L72 107.6L82.3 107.6L77.2 112.7L68.1 117.1L59.1 121L55.2 123.6L64.2 121.5L77.2 117.1L87.5 112.7L96.5 113.3L101.7 108.1L99.1 104.2L105.6 100.8L110.8 97.7L114.6 100.8L121.1 99L128.9 100.8L139.2 102.4L149.5 105L159.9 108.1L171.5 110.7L178 117.1L184.5 122.3L189.6 128.8L194.8 132.6L203.8 139.1L212.9 143L216.2 150.7L210.3 148.9L208.5 154.6L206.4 167.5L207.7 176.6L212.9 184.4L218.1 192.1L223.2 198.1L231 201.2L237.4 206.3L242.6 212.8L246.5 218L251.7 224.4L258.1 230.4L265.9 237.3L273.6 243.8L279.3 248.2L278.3 251.6L284 257.5L291.7 262.7L302.1 267.1L313.7 269.7L320.2 267.9L332.6 273.5M243.4 208.9L249.9 210.2L254.3 220.5L259.4 229.6L264.6 241.2L260.7 242L255.5 233.5L249.1 225.7L243.1 223.1M192.2 136.5L200 139.1L207.7 142.2L214.2 146.3L210.3 148.2L201.3 144.3L193.5 140.4ZM174.9 124.9L179.3 127.5L182.6 132.6L178 130.8ZM74.6 243.8L78.5 246.4L83.6 247.7L88.8 250.8L94 254.2L92.7 257.5L88.8 256.7L86.2 252.3L81 249.8L75.9 247.2ZM332.6 215.4L321.5 216.1L313.7 221.8L308.5 230.9L307.3 241.2L309.8 250.3L316.3 256L324.1 258L332.6 256.2M317.8 70.7L331.4 67.8L339.1 70.7L346.9 74.6L353.7 78.5L339.1 87.2L327.5 94L319.7 101.8L318.7 107.6L325.5 109.5L327.5 113.4L339.1 114.4L350.8 118.3L362.4 121.2L367.3 126L371.1 132.8L376 134.8L378.9 129L374.1 124.1L382.8 119.3L387.6 113.4L382.8 107.6L380.8 101.8L383.8 96L377.9 90.1L370.2 86.3L362.4 82.4M205.2 49.4L216.8 47.4L230.4 48.4L244 51.3L255.7 53.3L269.2 51.3L282.8 54.2L286.7 61L284.8 65.9L277 67.8L265.4 70.7L253.7 68.8L242.1 69.8L230.4 65.9L220.7 61L209.1 59.1L201.3 56.2ZM213.9 41.6L222.7 36.8L236.2 35.8L240.1 38.7L238.2 42.6L230.4 45.1L220.7 44.5ZM247.9 34.2L255.7 31.5L263.8 32.9L264.4 36.8L249.8 37.7ZM277 30.9L288.6 31.5L300.3 33.5M290.6 41.6L308.1 39.7L323.6 41.6L327.5 47.4L315.8 49.4L300.3 48.4L290.6 44.5ZM292.5 54.2L308.1 51.3L323.6 53.3L319.7 59.1L304.2 61L292.5 58.1ZM296.4 66.8L311.9 64.9L319.7 68.8L315.8 74.6L300.3 72.7ZM420.5 40.9L407.6 38.3L398.5 34.4L410.2 30L420.5 25.4L436 21.5L454.1 18.9L472.2 20.2L487.7 17.6L500.6 15.5L518.7 13.7L539.4 12.9L560.1 13.7L578.2 15.5L596.3 17.1L611.8 19.7L628.6 22.8L617 24.8L602.8 26.6L604.1 31.8L598.9 35.7L602.8 40.9L596.3 44.7L600.2 48.6L591.1 52.5L584.7 57.7L592.4 60.3L584.7 64.1L575.6 66.2L565.3 68.8L554.9 71.9L544.6 75.8L534.3 79.1L523.9 83.5L517.5 90L513.6 96.4L511 102.4L504.5 102.9L495.5 99L487.7 93.9L480 87.4L474.8 79.6L473.5 73.2L477.4 69.3L483.8 67.2L477.4 64.1L469.6 61.5L465.7 57.7L461.9 52.5L455.4 47.3L446.4 43.5L436 41.4ZM554.9 19.1L575.6 20.2L596.3 17.6M583.4 80.9L591.1 78.4L604.1 77.6L617 78.4L624.2 82.7L618.3 86.9L606.6 89.5L593.7 88.7L587.3 86.1ZM332.6 113.3L342.9 115.8L351.6 118.6L359.1 119.8L365.3 121.7L366.5 127.3L370.2 132.3L374.6 135.4L378.3 133.5L379.6 128.5L376.4 124.8L374.6 122.9L380.2 121.7L385.8 117.3L387 113.6L383.3 109.3L380.2 107.4L383.3 104.3L382.7 98.7L381.4 95L380.8 92.5L381.4 93.2L389.9 92.1L398.8 92.5L406.3 96.2L412.5 99.3L413.7 104.3L416.8 107.4L420.5 109.3L426.1 106.8L429.9 103.1L432.3 101.2L437.3 106.2L442.3 111.1L444.1 115.5L449.7 118.6L455.9 121.1L460.9 124.8L465.3 128.5L466.5 133.5L463.4 134.7L457.2 135.4L451 137.8L443.5 139.7L436.1 140L426.1 139.7L419.9 142.2L413.7 146.5L407.5 152.1L410 152.1L416.2 148.4L423.6 145.9L431.1 144.7L438.6 143.4L443.5 143.4L441 145.3L433.6 146.5L429.9 147.8L430.5 150.9L433.6 152.1L438.6 153.4L443.5 152.1L447.9 150.9L451 154.6L447.3 157.1L441 159.6L434.8 161.4L429.9 164.5L426.1 164.5L424.9 162.1L428.6 159.6L421.2 158.3L416.2 161.4L410 163.9L408.1 167L411.2 169.5L413.1 171.4L407.5 173.2L401.3 173.2L396.3 175.1L393.8 178.2L390.1 179.5L385.8 183.2L385.1 186.9L388.2 188.2L390.1 190.6L390.7 193.7L386.4 196.8L380.2 200.6L374 204.3L369.6 208.6L368.4 212.5L367.5 215.4L368.8 221.8L371.4 228.3L372.7 233.5L368.8 230.9L364.9 224.4L361 218L355.9 214.6L348.1 213.6L340.4 215.4L332.6 216.1M451 147.8L454.7 144.7L458.4 141.6L464 142.2L469.6 141.6L474.6 143.4L477.1 148.4L475.8 152.7L472.1 153.4L468.4 150.9L464 152.1L460.9 149.6L455.9 149ZM635.6 212L632.5 220.5L624.7 224.4L618.3 230.9L613.1 239.9L609.7 247.7L611.8 255.4L610.5 263.2L607.9 271L610.5 278.7L615.7 285.2L622.2 291.6L627.3 296.8L636.4 303.3L646.7 308.4L658.3 307.7L665.6 307.2M637.1 128.1L640 124.2L645.9 121.3L650.7 122.3L650.7 127.1L646.8 132L641 133.9L637.1 132ZM651.7 114.5L654.6 108.7L660.4 107.3L665.3 109.7L667.2 113.6L663.3 117.4L668.2 120.3L671.1 124.2L675 128.1L679.8 130.1L680.8 133.9L677.9 137.8L672.1 139.2L664.3 140.3L657.5 140.7L652.7 139.8L655.6 136.8L660.4 135.9L657.5 132L654.6 129.1L657.5 125.6L655.6 121.3L652.7 118.4ZM718.6 82.5L707 87.4L696.3 91.2L692.4 96.1L693.4 102.9L696.3 108.7L704.1 106.8L711.9 103.9L716.7 107.7L720.6 114.5L722.5 120.3L727.4 120.3L732.2 118.4L735.1 114.5L738.1 110.6L741 106.8L743.9 101.9L741 98L738.1 94.1L741.9 91.2L749.7 87.9L757.5 84.8L765.2 82.5M707 120.3L705.5 115.5L709.9 113.2L712.8 110.6L715.7 114.5L718.6 118.4L716.7 122.3L712.8 124.2L708.9 123.3ZM715.7 122.3L720.6 121.3M657.5 145.6L663.3 144.2L670.1 142.7L676.9 140.7L683.7 135.9L688.6 131L693.4 128.1L699.2 126.8L705.1 125.2L707 120.3M716.7 124.2L722.5 125.6L730.3 125.2L738.1 123.3L745.8 122.3L750.7 120.3L753.6 116.5L755.5 112.6L761.4 113.6L766.2 111.6L764.3 106.8L769.1 103.9L784.6 102.9L769.1 101.5L759.4 101.9L755.5 99L754 94.1L757.5 90.3L764.3 86.8L771.1 84.1L773 82.5M657.5 145.6L660.4 148.5L666.2 150.4L669.2 155.3L668.2 160.1L665.3 163.1L656.5 162.5L648.8 163.1L642 164L639.1 166.9L640 173.7L642 179.5L641 185.4L642 190.2L650.7 192.2L658.5 190.2L665.3 188.3L670.1 184.4L674 179.5L676.9 173.7L683.7 168.9L691.5 166L699.2 164L705.1 161.7L709.9 162.5L712.8 164L716.7 159.2L722.5 156.3L727.4 157.2L731.3 162.1L736.1 166L741.9 170.8L745.8 174.7L744.9 178.6L740 180.5L738.1 185.4L734.2 189.3L729.3 188.9L722.5 187.3L720.6 184.4L727.4 183.4L732.2 180.5L733.2 176.6L727.4 172.8L722.5 167.9L718.6 163.1L716.7 159.2M722.5 185.4L734.2 187.3M705.1 167.9L708.9 166.9L710.9 173.7L709.9 180.5L706 181.5L704.7 175.7ZM745.8 174.7L749.7 179.5L753.6 185.4L757.5 190.2L761.4 194.1L765.2 197L772 196L769.1 194.1L764.3 191.2L762.3 186.3L765.2 183.4L763.3 179.5L760.4 175.7L766.2 173.7L774.9 172.8L776.9 175.7L774.9 180.5L776.9 185.4L782.7 188.3L790.5 190.2L797.3 191.2L803.1 188.9L810.8 189.6L810.8 194.1L807.9 199L806 204.8L804.1 210.6L802.1 212.5M795.3 195.1L801.1 196.6M776.9 167.9L780.8 162.1L784.6 157.2L790.5 152.4L797.3 153.3L802.1 156.3L806 153.3L813.8 150.4L821.5 149.5L822.5 151.4L813.8 154.7L806 157.2L813.8 159.2L823.5 163.1L830.3 166.9L831.2 170.8L825.4 173.7L815.7 174.1L806 171.8L796.3 169.8L788.5 170.8L782.7 172.8L777.9 173.7ZM635.2 212.5L636.2 210.6L639.1 202.8L643 197L650.7 192.2L660.4 193.5L672.1 191.2L685.7 188.9L699.2 188.3L708.9 187.3L716.7 188.3L714.8 194.1L712.8 199L718.6 202.8L726.4 205.8L734.2 208.7L741.9 210.6L747.8 206.7L755.5 204.4L763.3 205.8L771.1 208.7L778.8 210.6L788.5 209.6L796.3 210.6L802.1 212.5M712.1 29.2L722.5 26.6L738 25.4L756.1 24.8L776.8 26.6L769 30L756.1 31.8L763.8 35.7L750.9 37L740.6 35.7L735.4 40.3L727.6 38.3L719.9 34.4ZM843.5 25.4L868.5 25.4M866.7 57.7L872.4 52.5L880.2 47.3L893.1 43.5L911.2 40.3L931.9 39.6L931.9 42.2L913.8 44.7L898.3 48.1L887.9 51.2L881.5 56.4L885.4 61.5L877.6 62.8L869.8 61.5ZM692.7 99L696.6 93.9L704.4 90L712.1 84.8L719.9 78.4L728.9 71.9L740.6 67.2L753.5 63.6L766.4 61.5L779.4 61L789.7 62.8L800 67.2L810.4 70.6L823.3 74.5L831.1 77.1L820.7 77.6L809.1 76.5L798.7 77.1L802.6 80.2L806.5 84.8L807.8 88.7L814.3 86.1L816.8 81.7L825.9 82.2L832.4 78.4L837.5 75L836.2 70.6L844 72.4L846.6 76.5L856.9 74L867.3 71.4L877.6 69.3L887.9 69.8L898.3 68L900.9 70.6L911.2 67.2L921.5 64.6L926.7 61.5L934.5 56.9L940.9 54.3L947.4 55.1L944.8 61.5L948.7 66.2L946.1 71.9L942.2 78.4L947.4 77.1L952.6 71.9L956.4 66.7L955.2 60.3L962.9 56.9L975.8 53.8L979.7 57.7L983.6 51.2L998.6 47.3M850.5 159.8L855.6 154.6L864.7 150.7L873.7 152L872.4 157.2L866 158.5L864.7 163.7L869.8 167.5L875 170.1L878.9 174L873.7 177.9L872.4 183.1L876.3 188.2L869.8 190.8L860.8 189.5L856.9 184.4L858.2 177.9L855.6 171.4L853 165ZM1015.4 25.9L1032.2 22.3L1050.3 27.4L1069.7 33.1L1050.3 32.6L1032.2 30.5L1021.9 28.5ZM998.6 49.9L1008.9 46L1021.9 43.5L1037.4 42.2L1052.9 40.9L1063.2 38.3L1076.2 39.6L1089.1 40.3L1100.7 42.2L1102 46L1091.7 47.3L1083.9 49.1L1096.8 51.2L1107.2 52.5L1120.1 53.8L1135.6 51.2L1148.5 51.2L1156.3 55.1L1160.2 61L1167.9 61.5L1170.5 58.4L1179.6 59.5L1189.9 59L1199 57.7L1205.4 52.5L1213.2 53.8L1223.5 55.1L1236.4 59L1246.8 61.5L1259.7 61.5L1272.6 64.1L1277.8 67.2L1290.7 66.7L1303.7 67.2L1312.7 69.3L1316.6 66.2L1331.6 65.4M1187.3 44.7L1195.1 42.2L1205.4 42.2L1218.4 44L1218.4 47.3L1205.4 49.1L1192.5 48.1ZM1222.2 46L1240.3 46.6M1331.6 95.2L1321.8 99L1308.8 101.6L1295.9 104.2L1288.2 102.9L1284.3 108.1L1286.9 112L1283 117.1L1279.1 123.6L1271.4 127.5L1268.8 132.6L1262.3 136.5L1258.4 128.8L1257.1 119.7L1261 112L1270.1 108.1L1281.7 97.7L1290.7 92.6L1283 94.6L1272.6 96.4L1257.1 99L1254.5 105L1241.6 106.8L1235.2 103.7L1220.9 104.2L1206.7 105.5L1196.4 111.2L1180.9 121M-0.4 643.4L12.5 642.4L20.3 644.2L35.8 641.6L51.3 645L66.8 647.6L84.9 648.1L103 646L113.4 648.1L128.9 646.8L139.2 645.5L128.9 643.4L110.8 642.9L99.1 640.8L100.4 636.4L87.5 632.6L103 630.5L118.5 630L126.3 627.9L121.1 624.8L103 622.7L87.5 621.7L81 618.3L82.3 615.8L97.8 616.5L113.4 614.5L126.3 611.4L134 609.3L154.7 607.2L175.4 605.4L196.1 605.4L201.3 602.1L214.2 605.4L227.1 604.6L247.8 604.1L254.3 608L268.5 608L284 608.8L296.9 608L299.5 604.6L286.6 601.5L291.7 597.7L312.4 598.4L313.7 602.1L332.6 601M61.6 622.2L69.4 620.9L76.6 624.8L68.1 626.1ZM371.4 327.5L374 336.5L368.8 343L370.1 350.8L377.8 361.1L384.3 372.7L388.2 380.5L397.2 385.7L407.6 392.1L411.5 399.9L410.2 412.8L408.9 430.9L406.3 443.8L405 456.8L400.3 469.7L399.3 482.6L397.2 493L393.4 503.3L391.5 513.6L393.4 524L399.8 530.4L408.9 534.3L417.9 536.4L429.5 533.8L423.1 531.7L416.6 526.6L414.8 520.1L419.2 513.6L424.4 508.5L427 504.6L421.8 500.2L424.4 495.5L430.8 491.7L434.7 485.7L432.1 482.1L438.6 478.7L441.2 473.6L450.2 472.3L458 468.4L459.8 461.9L455.4 455.5L464.5 458.1L472.2 455.5L480 447.7L487.7 437.4L492.4 429.6L492.9 424.4L500.6 418L511 414.1L520 410.2L525.2 399.9L527.8 389.5L528.6 379.2L534.3 371.5L540.7 362.4L544.1 353.4L542 346.9L534.3 343L523.9 338.4L508.4 337.3L492.9 331.4L485.1 327.5M407.6 526.6L415.3 531.7L423.1 532.3M445.1 521.4L458 520.9M332.6 600.3L342.9 601L358.5 602.8L371.4 602.1L384.3 603.6L399.8 602.1L415.3 599L421.8 596.4L417.9 591.2L412.7 586L408.9 586L405 593.8L393.4 596.9L407.6 596.4L415.3 589.9L420.5 579.6L428.3 574.4L441.2 570.5L456.7 566.6L459.3 565.3L446.4 571.8L436 575.7L429.5 580.9L436 586L442.5 591.2L446.4 599L443.8 605.4L433.4 609.3L417.9 611.9L399.8 614.5L384.3 615.8L394.6 619.1L381.7 623.5L386.9 627.4L405 630L425.7 631.3L446.4 633.9L456.7 639L472.2 636.4L492.9 635.2L513.6 634.6L529.1 632.1L547.2 630.5L566.6 628.7L560.1 624.8L542 622.2L539.4 619.6L552.4 617.1L573 614L591.1 611.9L611.8 608L614.4 602.8L624.7 599L635.1 595.1L650.6 593.8L665.6 592.5M470.9 628.7L480 627.4L487.7 620.9L500.6 619.1L511 623.5L511 628.7L498.1 630.5L482.5 630.5ZM427 628.7L446.4 629.5L450.2 627.4M707 327.5L710.8 335.3L717.3 343L722.5 353.4L723.8 361.1L722.5 371.5L719.4 381.8L718.6 392.1L721.2 402.5L726.4 412.8L730.2 423.2L734.1 433.5L739.3 442.5L743.2 447.7L741.9 452.9L748.3 458.1L758.7 454.7L769 454.2L779.4 451.1L787.1 445.1L793.6 436.1L797.5 425.7L802.6 421.9L807.3 415.4L805.2 405.1L806.5 401.2L815.5 394.2L823.3 389.5L826.4 381.8L825.9 371.5L824.6 361.1L820.7 353.4L820.2 346.9L824.6 337.8L831.1 331.4L836.2 327.5M859 372.7L863.4 379.2L864.2 385.7L860.8 394.7L856.9 405.1L853 415.4L850.5 421.9L844 424.4L838.3 420.6L836.2 410.2L839.3 402.5L838.8 393.4L841.4 388.3L849.2 385.7L853 379.2L856.9 374ZM931.4 512.1L939.1 511.6L938.4 514.2L931.9 514.2ZM665.6 594.3L673.4 596.4L686.3 593.8L701.8 590.7L709.6 589.9L716 593.8L725.1 590.7L740.6 589.1L750.9 589.9L758.7 593.3L774.2 591.7L789.7 589.1L800 584.7L810.4 586.5L820.7 589.1L833.6 584.7L851.7 580.3L864.7 576.2L877.6 574.4L886.6 575.7L893.1 579.6L906 582.2L913.8 579.6L924.1 582.2L934.5 583.4L935.8 587.3L930.6 591.2L933.2 593.8L929.3 596.9L939.6 599L947.4 593.8L955.2 589.9L965.5 587.3L975.8 582.2L988.8 579.6L998.6 578.3M1102 408.9L1114.9 405.1L1127.9 399.9L1133 393.4L1139.5 388.3L1148.5 381.8L1156.3 383.1L1164.1 376.6L1170.5 370.2L1179.6 372.7L1187.3 374L1184.7 381.8L1191.2 388.3L1200.3 393.4L1205.4 387L1206.7 376.6L1209.3 368.9L1213.2 377.9L1218.4 385.7L1222.2 394.7L1228.7 401.2L1236.4 410.2L1242.9 418L1248.1 427L1249.4 436.1L1246.8 446.4L1241.6 456.8L1236.4 467.1L1226.1 471L1218.4 469.7L1213.2 472.3L1202.8 468.4L1196.4 460.6L1191.2 452.9L1187.3 456.8L1179.6 450.3L1166.6 446.4L1153.7 447.7L1143.4 450.3L1133 454.2L1120.1 455.5L1112.4 458.8L1105.9 454.2L1107.2 445.1L1103.3 436.1L1100.7 427L1099.9 418ZM1215.8 480L1223.5 482.1L1231.3 480.6L1228.7 487.8L1224 491.7L1219.6 487.8ZM1321.8 456.2L1328.2 461.9L1331.6 464.5M1331.6 472.3L1326.9 478.7L1319.2 485.2L1308.8 493L1298.5 499.4L1306.3 502L1316.6 495.5L1324.3 486.5L1331.6 480M998.6 577L1003.8 575.7L1008.9 578.8L1024.5 579.6L1047.7 579.6L1059.4 573.1L1071 577.8L1083.9 577.8L1099.4 574.4L1112.4 578.3L1125.3 579.6L1138.2 577L1153.7 577L1177 575.7L1180.9 571.8L1184.7 577L1205.4 577.8L1220.9 578.3L1223.5 582.2L1236.4 584.7L1252 584.7L1267.5 588.6L1283 591.7L1298.5 593.8L1316.6 596.4L1308.8 602.8L1295.9 606.7L1288.2 614.5L1290.7 620.9L1299.8 622.2L1283 624.8L1273.9 630L1280.4 635.2L1295.9 637.7L1314 641.6L1331.6 643.4M665.6 307.2L678.5 303.3L691.5 305.1L704.4 308.4L710.8 317.5L711.6 327.6M998.6 247.7L1007.6 245.8L1015.5 242L1020.3 249L1026.7 260.1L1028.3 266.5L1036.2 264.9L1041 271.3L1044.2 282.4L1047.4 296.7L1052.1 306.3L1058.5 315.8L1064.9 325.4L1069.6 334.9L1071.9 342L1068.7 333.4L1064.2 323.8L1059.1 314.3L1054.7 306.3L1050.5 298.3L1048 291L1048.9 284L1052.8 278.3L1060.1 279.6L1064.9 288.8L1068.7 294.2L1076 292.9L1082.4 287.2L1084.6 279.2L1080.8 269.7L1072.8 263.3L1071.2 255.4L1074.4 250.6L1084 247.4L1093.5 245.2L1103.1 242L1112.6 237.8L1120.6 231.5L1126.9 225.1L1131.1 217.2M1080.8 252.2L1087.2 250.6L1090.3 255.4L1085.6 259.2L1080.8 256.9ZM1125.4 234.7L1130.1 232.4L1131.1 239.4L1126.9 245.2L1124.7 239.4ZM1125.4 261.7L1131.7 258.5L1134.3 266.5L1130.1 272.9L1136.5 276L1144.5 280.8L1146.1 287.2L1141.3 288.8L1133.3 284L1126.9 277.6L1125.4 269.7ZM1131.7 293.6L1141.3 291L1148.3 295.2L1147.6 303.1L1142.9 306.9L1134.9 303.1L1131.7 298.3ZM1128.5 279.2L1134.9 285.6L1141.3 293.6M1112.6 295.2L1122.8 285.6M1031.4 307.9L1039.4 311.1L1048.9 320.6L1058.5 333.4L1066.5 344.5L1071.9 352.5L1070.6 355.6L1063.3 350.9L1053.7 339.7L1044.2 327L1034.6 315.8ZM1071.9 352.5L1087.2 354.7L1103.1 357.9L1112.6 360.4L1125.4 362L1131.7 364.2L1127.9 365.8L1112.6 363.6L1093.5 359.8L1074.4 356ZM1138.1 364.2L1150.8 359.8M1155.6 357.9L1165.2 356.6M1085.6 322.2L1095.1 317.4L1106.3 309.5L1115.8 303.1L1122.2 306.3L1117.4 314.3L1120.6 322.2L1112.6 330.2L1109.4 338.1L1099.9 341.3L1090.3 338.1L1087.2 330.2ZM1125.4 327L1133.3 323.8L1141.3 322.2L1133.3 327L1130.1 331.8L1134.9 338.1L1130.1 347.7L1125.4 344.5L1127.9 336.5L1122.8 332.4ZM1155 321.6L1157.8 326L1156.6 331.1L1154 326ZM1146.1 338.8L1163.6 340M1163.6 330.2L1173.1 328.6L1177.9 334.9L1185.8 333.4L1198.6 334.9L1211.3 339.7L1222.5 347.7L1232 357.2L1240 365.2L1232 363.6L1222.5 358.8L1214.5 357.2L1208.1 362L1198.6 358.8L1192.2 354.1L1193.8 349.3L1185.8 344.5L1177.9 341.3L1173.1 334.9ZM1236.8 338.1L1244.7 341.3L1247.9 347.7L1240 346.1ZM1254.3 347.7L1263.8 354.1M1271.8 358.8L1282.9 366.8M1298.9 382.7L1302.1 389.7M1289.3 402.4L1300.5 409.8M330.9 19.9L341.8 18.4L352.7 17.1L365.1 15.3L383.7 14.5L402.3 14.5L422.5 15L436.5 16L442.7 17.6L439.6 20.7L430.3 22.3L421 23L414.8 25.4L405.5 27.7L396.1 29.2L386.8 30.8L383.7 33.1L379.1 37L375.2 39.3M421 19.1L430.3 18.4L439.6 19.1M419.4 26.1L428.7 26.9L430.3 28.5M442.7 18.4L458.2 18.1L470.7 19.1L475.3 20.7L484.6 18.4L495.5 17.6L507.9 15L521.6 14.5M497.1 19.1L507.9 21.8M430.3 27.7L414.8 30.8L402.3 33.1L398.5 35.5L403.9 37.8L414.8 37L424.9 37M405.5 38.6L417.9 40.9L430.3 40.9L442.7 42L453.6 44.8L459.8 49.4L464.5 54.1L466 58.7L476.9 60.3L483.1 63.4L483.9 67.3L480 71.2L473 71.9L470.7 75.8L473 79.7L476.9 83.6L480 88.2L484.6 92.9L489.3 97.6L497.1 100.7L504.8 102.2L512.6 99.9L514.9 94.5L513.4 91.4L521.6 85.1M321.6 22.3L330.9 22.3M337.1 23L352.7 25.4L368.2 25.8M344.9 29.2L355.8 30M321.6 30.8L326.3 30.8M337.1 36.2L357.3 36.2M321.6 38.6L337.1 40.1L375.9 39.3M326.3 44.8L344.9 47.1L375.9 46.3M321.6 49.4L340.2 50.2L372.8 49.4M335.6 54.1L340.2 51.8L349.6 54.1L360.4 52.5L369.7 54.1L379.1 52.5L386.8 53.3L394.6 58.7L402.3 60.3L410.1 61.8L417.9 65L422.5 68.1L416.3 69.6L424.1 71.2L433.4 73.5L443.5 75.8L439.6 79.7L436.5 83.6L430.3 80.5L422.5 78.2L418.6 80.5L424.1 83.6L430.3 85.1L428.7 89.8L433.4 92.1L430.3 93.7L421 94.5L414.8 92.1L407.8 90.6L399.2 89L393 88.2L383.7 86.7L379.1 84.4L383.7 82L394.6 82L399.2 77.4L400.8 74.3L396.1 70.4L389.9 68.8L383.7 67.3L375.9 64.2L368.2 63.4L360.4 64.2L352.7 63.4L344.9 62.6L338.7 60.3L335.6 57.2ZM384.5 71.2L393 71.9L392.3 75.8L385.3 75.8ZM321.6 69.6L327.8 68.1L335.6 71.2L343.3 75.8L351.1 78.2L355.8 77.4L365.1 75.8L369.7 72.7L370.5 68.8M348 85.1L358.9 83.6L372.8 87.5L368.2 92.9L357.3 93.7L349.6 89.8ZM373.6 93.7L375.9 95.2M321.6 94.5L330.9 91.4L341.8 85.1L348.8 82.8M277.4 31.8L289 33.1L301.8 35.2M278.7 33.6L299.2 36.2M250.5 33.1L259.5 32.6L262.1 35.2L253.1 36.2L250.5 33.1M219.8 39.5L230 38.2L239 39.5M230 60.8L253.1 62.8M241.6 70.3L265.9 74.1M207 54.9L222.3 57.5M290.2 40.8L306.9 39.5L319.7 42.1M291.5 45.9L306.9 48L322.3 45.9M294.1 53.6L306.9 51.1L319.7 54.9M299.2 62.6L314.6 60L324.8 65.1M301.8 70.3L317.1 71.6L312 75.4M305.6 33.1L324.8 31.8M312 26.7L335.1 25.4L365.8 25.9M335.1 35.7L355.6 34.4L368.4 38.2M327.4 43.4L347.9 45.9L370.9 44.7M347.9 86.9L360.7 84.4L370.9 89.5L360.7 93.3L350.5 90.8L347.9 86.9M355.6 88.2L365.8 90M1181.1 121.8L1188.6 124.2L1194.1 124.9L1199.7 125.5L1203.5 129.2L1202.2 133.6L1201 138.5L1199.7 143.5L1197.3 147.8L1193.5 152.2L1188.6 156.5L1182.3 161.5L1177.4 165.2L1172.4 167.1L1169.3 165.2L1165 167.1L1160 170.8L1158.1 174.5L1153.8 177L1151.3 179.5L1153.8 183.2L1157.5 187L1160 190.7L1159.4 195L1155 197.5L1149.4 198.8L1147.6 195L1148.2 191.3L1145.7 188.2L1144.5 184.5L1141.4 182L1142.6 178.5L1137.6 177.7L1133.9 178.3L1132 174.5L1128.9 173.9L1124 176.4L1119 179.5L1114.6 182L1117.1 185.1L1122.1 187L1127.7 188.2L1133.9 188.2L1130.8 190.1L1125.8 191.9L1121.5 195.7L1124 200.6L1127.1 205.6L1130.8 209.3L1128.9 213.1L1131.4 216.8L1130.8 222.5M1205.9 124.9L1208.4 123L1210.9 124.9L1212.2 129.8L1213.4 135.4L1215.9 141L1217.7 144.7L1213.4 145.4L1210.9 147.2L1212.8 150.3L1213.4 154.7L1210.9 157.2L1209.7 154.7L1208.4 149.7L1207.8 143.5L1207.2 137.3L1206.6 131.1ZM1209.7 160.9L1214.6 162.1L1219 160.9L1220.9 163.4L1220.2 166.5L1215.9 167.1L1212.2 170.8L1208.4 170.2L1205.9 167.1L1203.5 165.9L1201 168.3L1199.1 165.9L1201 164L1204.7 163.4L1207.2 161.5ZM1201 168.3L1199.7 173.3L1201 177L1198.5 182L1193.5 185.7L1188.6 188.2L1186.1 187.6L1183.6 191.9L1178.6 193.8L1172.4 194.4L1166.2 197.5L1161.2 200.6L1158.7 203.1L1161.2 206.8L1162.5 211.2L1165 211.8L1168.7 208.1L1173.6 205.6L1178.6 203.7L1183.6 201.9L1188.6 198.2L1193.5 196.3L1199.7 194.4L1202.2 189.5L1203.5 184.5L1207.2 179.5L1206.6 174.5L1204.7 170.2ZM1168.7 200.6L1176.1 199.4L1179.9 200.6L1174.9 203.1L1169.3 203.7ZM1160 203.7L1166.2 201.9L1167.4 205.6L1163.7 209.3M332.5 256.3L334.3 253.8L334.9 249.8L338.9 247.8L348 246.8L349 249.8L346 255.9L344 261.9L341 268L348 268L356.1 267L361.1 271L362.2 278.1L361.1 286.1L363.2 292.2L368.2 296.2L371.2 299.3L375.3 296.2L379.3 294.2L384.4 295.2L388.4 292.2L391.4 288.2L396.5 285.1L404.5 282.1L411.6 283.1L416.7 287.1L422.7 288.2L430.8 288.2L440.9 287.1L446.9 288.2L447.9 294.2L454 300.3L461.1 305.3L469.1 305.3L477.2 308.3L482.3 314.4L485.3 320.5L485.7 327.5M301.6 264.9L311.7 269L319.8 267L327.8 272L335.9 276L344 278.1L350 285.1L355.1 291.2L361.1 296.2L367.2 299.3L372.2 301.3L375.3 298.2L381.3 298.2L384.4 303.3L385.4 312.4L381.3 319.4L376.3 325.5L372.2 329.5L371.4 327.5M405 287.6L406.6 293.8M355.1 245.4L360.1 241.3L368.2 240.7L376.3 242.7L382.3 245.8L388.4 248.8L394.5 250.8L396.5 253.8L390.4 253.8L384.4 252.8L381.3 248.8L372.2 245.8L364.2 244.8ZM394.5 257.9L398.5 253.8L406.6 252.8L414.6 254.9L418.7 257.9L413.6 259.9L406.6 258.9L400.5 260.9ZM379.3 259.5L389.4 260.5M421.7 259.1L429.2 259.9M379.3 229.6L383.4 232.6L382.3 238.7M731.3 27.9L746.2 25.4L763.6 25.4L776 27.9M752.4 34.9L766.1 35.4L764.8 37.8L753.6 37.3L752.4 34.9M844.3 23.9L866.7 24.4M845.6 26.9L865.5 26.7M941.2 79.1L951.2 75.9L956.1 70.9M942.5 77.6L952.4 73.4M800.9 79.1L813.3 77.6L826.9 79.1M920.1 39.3L932.5 39.3M800.2 213.2L795.6 215.6L798.7 223.3L803.3 231.1L806.4 238.8L811.1 245.1L812.7 252.8L816.5 259L820.4 266.8L826.6 273L832.8 279.2L835.2 284.6L840.6 288.5L848.4 287L857.7 283.9L866.2 281.5L866.7 287L863.9 296.3L859.2 304.1L853 311.8L846.8 317.6L836.3 327.5M803.3 212.4L804.9 217.1L802.6 222.5L807.2 228L812.7 234.2L818.1 239.6L821.2 246.6L825.9 252.8L831.3 259L835.2 265.2L835.9 273L836.7 279.2L843.7 279.2L851.5 275.3L859.2 271.5L868.6 268.3L871.7 265.2L881 262.9L887.2 258.3L890.3 252.8L893.4 249.7L899.6 244.3L895.7 239.6L890.3 235L884.9 232.6L883.3 229.5L879.4 234.2L874.8 237.3L867.8 237.3L865.5 233.4L862.3 231.9L859.2 227.2L856.1 221L853.8 215.6L857.7 213.2L862.3 214L866.2 218.7L870.9 223.3L876.3 226.4L882.5 226.4L888 226.4L890.3 230.3L899.6 231.9L910.5 232.6L922.9 231.9L926.8 235L930.7 238.8L936.1 242.7L934.6 245.8L940 248.9L947 247.4L948.5 252.8L950.1 260.6L952.4 268.3L955.5 276.1L959.4 283.9L962.5 291.6L965.6 297.8L971 293.2L973.4 287L974.1 279.2L975.7 271.5L978.8 267.6L981.6 265.2L989.7 256.7L998.5 247.7M863.9 232.6L867 234.2L866.2 236.5M973.4 293.2L977.3 290.9L980.4 294.7L979.6 302.5L975.7 305.6L972.6 301Z"/>
</g><rect x="0" y="0" width="1331.3" height="656" fill="none" stroke="#000" stroke-width="3.3"/></g>
<rect x="78.4" y="1816.5" width="111.5" height="65.9" fill="#0000ad"/>
<rect x="189.3" y="1816.5" width="111.5" height="65.9" fill="#0000ff"/>
<rect x="300.3" y="1816.5" width="111.5" height="65.9" fill="#0054ff"/>
<rect x="411.2" y="1816.5" width="111.5" height="65.9" fill="#00a8ff"/>
<rect x="522.2" y="1816.5" width="111.5" height="65.9" fill="#16ffe1"/>
<rect x="633.1" y="1816.5" width="111.5" height="65.9" fill="#5aff9d"/>
<rect x="744" y="1816.5" width="111.5" height="65.9" fill="#9dff5a"/>
<rect x="855" y="1816.5" width="111.5" height="65.9" fill="#e4ff13"/>
<rect x="965.9" y="1816.5" width="111.5" height="65.9" fill="#ffbd00"/>
<rect x="1076.9" y="1816.5" width="111.5" height="65.9" fill="#ff6f00"/>
<rect x="1187.8" y="1816.5" width="111.5" height="65.9" fill="#ff1e00"/>
<rect x="1298.8" y="1816.5" width="111.5" height="65.9" fill="#ad0000"/>
<rect x="78.4" y="1816.5" width="1331.3" height="65.9" fill="none" stroke="#000" stroke-width="3.3"/>
<line x1="78.4" y1="1882.4" x2="78.4" y2="1897.6" stroke="#000" stroke-width="3.3"/>
<text x="78.4" y="1943.7" font-size="41.67" text-anchor="middle">0</text>
<line x1="300.3" y1="1882.4" x2="300.3" y2="1897.6" stroke="#000" stroke-width="3.3"/>
<text x="300.3" y="1943.7" font-size="41.67" text-anchor="middle">5</text>
<line x1="522.2" y1="1882.4" x2="522.2" y2="1897.6" stroke="#000" stroke-width="3.3"/>
<text x="522.2" y="1943.7" font-size="41.67" text-anchor="middle">10</text>
<line x1="744" y1="1882.4" x2="744" y2="1897.6" stroke="#000" stroke-width="3.3"/>
<text x="744" y="1943.7" font-size="41.67" text-anchor="middle">15</text>
<line x1="965.9" y1="1882.4" x2="965.9" y2="1897.6" stroke="#000" stroke-width="3.3"/>
<text x="965.9" y="1943.7" font-size="41.67" text-anchor="middle">20</text>
<line x1="1187.8" y1="1882.4" x2="1187.8" y2="1897.6" stroke="#000" stroke-width="3.3"/>
<text x="1187.8" y="1943.7" font-size="41.67" text-anchor="middle">25</text>
<line x1="1409.7" y1="1882.4" x2="1409.7" y2="1897.6" stroke="#000" stroke-width="3.3"/>
<text x="1409.7" y="1943.7" font-size="41.67" text-anchor="middle">30</text>
<text x="744.1" y="2077.1" font-size="50" text-anchor="middle" xml:space="preserve" style="white-space:pre">Plasmasphere (h=1500.0 km), 2006-06-24 06:00 UT</text>
<g transform="translate(78.4 2102.6)"><g clip-path="url(#cp)">
<rect x="0" y="0" width="1331.3" height="656" fill="#0000df"/>
<path fill="#0080ff" d="M-15.9 139C-13.3 139.2 -11.6 138.7 -0.4 140C10.8 141.3 34.1 143.9 51.3 146.8C68.5 149.6 85.8 153.4 103 157.1C120.2 160.8 137.5 165.3 154.7 169C172 172.7 189.2 176.8 206.4 179.3C223.7 181.9 240.9 183.9 258.1 184.5C275.4 185.1 292.6 184.3 309.8 183C327.1 181.6 344.3 178.8 361.5 176.2C378.8 173.7 396 169.8 413.3 167.4C430.5 165.1 447.7 162.7 465 162.3C482.2 161.8 499.4 163.7 516.7 164.9C533.9 166 551.1 168.1 568.4 169C585.6 169.9 603.9 170.3 620.1 170C636.3 169.8 649.4 170.2 665.6 167.4C681.8 164.7 700.1 157.4 717.3 153.5C734.5 149.6 751.8 146.4 769 144.2C786.2 141.9 803.5 140.9 820.7 140C838 139.2 855.2 139.4 872.4 139C889.7 138.7 906.9 138.7 924.1 138C941.4 137.3 958.6 135.7 975.8 134.9C993.1 134 1010.3 133.4 1027.5 132.8C1044.8 132.2 1062 131.5 1079.3 131.3C1096.5 131 1113.7 131 1131 131.3C1148.2 131.5 1165.4 131.9 1182.7 132.8C1199.9 133.7 1217.1 134.5 1234.4 136.4C1251.6 138.3 1269.9 141.6 1286.1 144.2C1302.3 146.8 1321.2 150.2 1331.6 151.9C1341.9 153.7 1345.4 154.1 1348.1 154.5L1348.1 479.2C1345.4 478.4 1341.9 477.3 1331.6 474.1C1321.2 470.8 1302.3 464.4 1286.1 459.6C1269.9 454.8 1251.6 449 1234.4 445.1C1217.1 441.2 1199.9 438.4 1182.7 436.3C1165.4 434.3 1148.2 433.1 1131 432.7C1113.7 432.3 1096.5 432.7 1079.3 433.7C1062 434.8 1044.8 437 1027.5 438.9C1010.3 440.8 993.1 443 975.8 445.1C958.6 447.3 941.4 449 924.1 451.8C906.9 454.7 889.7 458.5 872.4 462.2C855.2 465.9 838 470.2 820.7 474.1C803.5 477.9 786.2 481.4 769 485.4C751.8 489.5 734.5 494.9 717.3 498.4C700.1 501.8 681.8 504 665.6 506.1C649.4 508.3 636.3 509.6 620.1 511.3C603.9 513 585.6 514.9 568.4 516.5C551.1 518 533.9 519.6 516.7 520.6C499.4 521.6 482.2 522.1 465 522.7C447.7 523.3 430.5 523.4 413.3 524.2C396 525.1 378.8 527 361.5 527.8C344.3 528.7 327.1 529.6 309.8 529.4C292.6 529.2 275.4 528.5 258.1 526.8C240.9 525.1 223.7 521.8 206.4 519C189.2 516.3 172 513.4 154.7 510.3C137.5 507.1 120.2 503.2 103 499.9C85.8 496.6 68.5 493.2 51.3 490.6C34.1 488 10.8 485.7 -0.4 484.4C-11.6 483.1 -13.3 483.1 -15.9 482.9Z"/>
<path fill="#36ffc1" d="M-15.9 171.6C-13.3 171.8 -11.6 171.6 -0.4 172.6C10.8 173.7 34.1 174.6 51.3 177.8C68.5 181 85.8 187 103 191.7C120.2 196.5 137.5 201.7 154.7 206.2C172 210.8 189.2 215.3 206.4 219.2C223.7 223 244.3 226.9 258.1 229.5C271.9 232.1 276.2 234.4 289.2 234.7C302.1 234.9 319.3 232.8 335.7 231C352.1 229.3 370.2 226 387.4 224.3C404.6 222.6 424.5 221.1 439.1 220.7C453.8 220.3 465.4 220.3 475.3 221.7C485.2 223.2 493 225.2 498.6 229.5C504.2 233.8 506.8 240.3 508.9 247.6C511.1 254.9 509.8 264.8 511.5 273.4C513.2 282.1 515.8 290.7 519.2 299.3C522.7 307.9 528.3 316.5 532.2 325.1C536.1 333.8 539.5 343.2 542.5 351C545.5 358.8 546.8 366.1 550.3 371.7C553.7 377.3 557.6 381.9 563.2 384.6C568.8 387.4 577.4 388.7 583.9 388.2C590.3 387.8 597.5 385.6 602 382C606.5 378.4 609 373.4 610.8 366.5C612.5 359.6 612.5 350.1 612.3 340.7C612.1 331.2 609.3 318.3 609.7 309.6C610.2 301 611.9 293.7 614.9 289C617.9 284.2 619.4 283.2 627.8 281.2C636.3 279.2 654.1 278.8 665.6 277.1C677.1 275.3 686.3 273.6 696.6 270.9C707 268.1 717.3 265.3 727.6 260.5C738 255.8 749.2 249.3 758.7 242.4C768.2 235.5 776.8 225.6 784.5 219.2C792.3 212.7 796.6 207.9 805.2 203.6C813.8 199.3 825 196.3 836.2 193.3C847.4 190.3 857.8 188.1 872.4 185.5C887.1 183 906.9 180.2 924.1 177.8C941.4 175.4 958.6 172.8 975.8 171.1C993.1 169.3 1010.3 168.3 1027.5 167.4C1044.8 166.6 1062 166.2 1079.3 165.9C1096.5 165.6 1113.7 165.6 1131 165.9C1148.2 166.2 1165.4 166.8 1182.7 167.4C1199.9 168.1 1217.1 169.2 1234.4 170C1251.6 170.9 1269.9 171.8 1286.1 172.6C1302.3 173.5 1321.2 174.7 1331.6 175.2C1341.9 175.7 1345.4 175.6 1348.1 175.7L1348.1 467.3C1345.4 466 1341.9 464.8 1331.6 459.6C1321.2 454.4 1302.3 443.6 1286.1 436.3C1269.9 429 1251.6 421.2 1234.4 415.6C1217.1 410 1199.9 405.7 1182.7 402.7C1165.4 399.7 1148.2 398 1131 397.5C1113.7 397.1 1096.5 399.1 1079.3 400.1C1062 401.2 1044.8 402.5 1027.5 403.7C1010.3 405 993.1 406.3 975.8 407.9C958.6 409.4 941.4 410.9 924.1 413.1C906.9 415.2 889.7 418.7 872.4 420.8C855.2 423 838 423.8 820.7 426C803.5 428.1 786.2 429.9 769 433.7C751.8 437.6 734.5 444.6 717.3 449.2C700.1 453.9 681.8 458.6 665.6 461.7C649.4 464.7 636.3 465.3 620.1 467.3C603.9 469.4 585.6 471.9 568.4 474.1C551.1 476.2 533.9 478.5 516.7 480.3C499.4 482 482.2 483.1 465 484.4C447.7 485.7 430.5 487 413.3 488C396 489.1 378.8 490.2 361.5 490.6C344.3 491 327.1 491 309.8 490.6C292.6 490.2 275.4 489.3 258.1 488C240.9 486.7 223.7 485 206.4 482.9C189.2 480.7 172 477.7 154.7 475.1C137.5 472.5 120.2 469.9 103 467.3C85.8 464.8 68.5 461.9 51.3 459.6C34.1 457.3 10.8 454.7 -0.4 453.4C-11.6 452.1 -13.3 452.1 -15.9 451.8Z"/>
<path fill="#c1ff36" d="M-15.9 205.2C-13.3 205.5 -9.9 205.4 -0.4 207.3C9.1 209.2 28 213.3 41 216.6C53.9 219.8 65.1 224.2 77.2 226.9C89.2 229.7 100.4 231.8 113.4 233.1C126.3 234.4 142.7 233.1 154.7 234.7C166.8 236.2 175.4 238.5 185.7 242.4C196.1 246.3 208.1 251.9 216.8 257.9C225.4 264 231.4 271.7 237.4 278.6C243.5 285.5 246.9 293.7 253 299.3C259 304.9 266.7 308.3 273.6 312.2C280.5 316.1 289.2 317.8 294.3 322.6C299.5 327.3 303.4 334.2 304.7 340.7C306 347.1 303.8 354.4 302.1 361.3C300.4 368.2 298.2 376 294.3 382C290.4 388.1 285.7 393.2 278.8 397.5C271.9 401.8 262.4 404.9 253 407.9C243.5 410.9 232.3 412.9 221.9 415.6C211.6 418.4 202.1 421.6 190.9 424.4C179.7 427.3 167.6 430.7 154.7 432.7C141.8 434.7 126.3 436.3 113.4 436.3C100.4 436.3 89.2 434.4 77.2 432.7C65.1 431 53.9 428.2 41 426C28 423.7 9.1 420.7 -0.4 419.3C-9.9 417.8 -13.3 417.5 -15.9 417.2Z"/>
<path fill="#c1ff36" d="M1348.1 205.2C1345.4 205.5 1339.3 206.1 1331.6 207.3C1323.8 208.5 1311.8 209.6 1301.6 212.4C1291.4 215.3 1281.8 219.8 1270.6 224.3C1259.4 228.9 1247.3 235.5 1234.4 239.8C1221.4 244.1 1205.9 247.6 1193 250.2C1180.1 252.8 1167.2 254.9 1156.8 255.3C1146.5 255.8 1138.7 254.9 1131 252.8C1123.2 250.6 1117.2 246.7 1110.3 242.4C1103.4 238.1 1097.3 232.1 1089.6 226.9C1081.8 221.7 1074.1 215.3 1063.7 211.4C1053.4 207.5 1040.5 204.9 1027.5 203.6C1014.6 202.3 999.1 202.5 986.2 203.6C973.3 204.8 961.2 206.9 950 210.4C938.8 213.8 927.6 218.5 919 224.3C910.3 230.1 903 237.7 898.3 245C893.5 252.3 891.4 260.1 890.5 268.3C889.7 276.5 891 286.4 893.1 294.1C895.3 301.9 898.3 308.8 903.4 314.8C908.6 320.8 915.5 326.4 924.1 330.3C932.7 334.2 944.8 335.3 955.2 338.1C965.5 340.8 975.8 343.9 986.2 346.9C996.5 349.9 1006 353.8 1017.2 356.2C1028.4 358.6 1041.3 360.1 1053.4 361.3C1065.5 362.6 1076.7 362.9 1089.6 363.9C1102.5 365 1117.2 366.1 1131 367.5C1144.7 369 1158.5 370.5 1172.3 372.7C1186.1 375 1199.9 377.9 1213.7 381C1227.5 384.1 1241.3 387.3 1255.1 391.3C1268.8 395.4 1283.7 401.7 1296.4 405.3C1309.2 408.9 1323 411.1 1331.6 413.1C1340.2 415 1345.4 416.5 1348.1 417.2Z"/>
<path fill="#ff9400" d="M-15.9 320C-13.3 318.3 -6 312.9 -0.4 309.6C5.2 306.4 10.8 301.4 17.7 300.3C24.6 299.3 32.8 301.5 41 303.4C49.2 305.4 59.1 308.6 66.8 312.2C74.6 315.8 81.9 320.4 87.5 325.1C93.1 329.9 97.2 335.1 100.4 340.7C103.7 346.3 106.3 352.7 107.1 358.8C108 364.8 107.6 371.9 105.6 376.9C103.6 381.8 100 385.8 95.3 388.2C90.5 390.6 84.5 391.3 77.2 391.3C69.8 391.3 59.9 390.6 51.3 388.2C42.7 385.8 32.3 380.5 25.5 376.9C18.6 373.2 14.3 369.5 9.9 366.5C5.6 363.5 3.9 361.8 -0.4 358.8C-4.7 355.7 -13.3 350.1 -15.9 348.4Z"/>
<path fill="none" stroke="#000" stroke-width="4.2" stroke-linejoin="round" stroke-linecap="round" d="M-0.4 60.8L9.4 60.8M-0.4 68.8L9.9 72.4L20.3 75.8L30.6 77.8L36.3 80.2L31.9 82.7L25.5 82.7L24.9 86.1L17.7 84.3L9.9 81.7L-0.4 78.4M29.3 89.7L41 90.5M332.6 73.2L309.8 74.5L289.2 73.2L271.1 74.5L258.1 71.9L240 68L227.1 66.2L219.4 64.1L211.6 65.4L203.8 67.2L196.1 62.8L185.7 64.1L175.4 66.2L162.5 69.3L154.7 68.8L134 64.6L113.4 62.8L97.8 61.5L87.5 59.7L77.2 61.5L66.8 63.6L57.8 67.2L50 69.8L55.2 74L60.4 77.1L52.6 79.6L44.8 81.7L51.3 83.5L61.6 82.7L70.7 86.1L69.4 90L61.6 90L55.2 93.1L52.6 99L47.4 102.4L55.2 102.9L62.9 105.5L72 107.6L82.3 107.6L77.2 112.7L68.1 117.1L59.1 121L55.2 123.6L64.2 121.5L77.2 117.1L87.5 112.7L96.5 113.3L101.7 108.1L99.1 104.2L105.6 100.8L110.8 97.7L114.6 100.8L121.1 99L128.9 100.8L139.2 102.4L149.5 105L159.9 108.1L171.5 110.7L178 117.1L184.5 122.3L189.6 128.8L194.8 132.6L203.8 139.1L212.9 143L216.2 150.7L210.3 148.9L208.5 154.6L206.4 167.5L207.7 176.6L212.9 184.4L218.1 192.1L223.2 198.1L231 201.2L237.4 206.3L242.6 212.8L246.5 218L251.7 224.4L258.1 230.4L265.9 237.3L273.6 243.8L279.3 248.2L278.3 251.6L284 257.5L291.7 262.7L302.1 267.1L313.7 269.7L320.2 267.9L332.6 273.5M243.4 208.9L249.9 210.2L254.3 220.5L259.4 229.6L264.6 241.2L260.7 242L255.5 233.5L249.1 225.7L243.1 223.1M192.2 136.5L200 139.1L207.7 142.2L214.2 146.3L210.3 148.2L201.3 144.3L193.5 140.4ZM174.9 124.9L179.3 127.5L182.6 132.6L178 130.8ZM74.6 243.8L78.5 246.4L83.6 247.7L88.8 250.8L94 254.2L92.7 257.5L88.8 256.7L86.2 252.3L81 249.8L75.9 247.2ZM332.6 215.4L321.5 216.1L313.7 221.8L308.5 230.9L307.3 241.2L309.8 250.3L316.3 256L324.1 258L332.6 256.2M317.8 70.7L331.4 67.8L339.1 70.7L346.9 74.6L353.7 78.5L339.1 87.2L327.5 94L319.7 101.8L318.7 107.6L325.5 109.5L327.5 113.4L339.1 114.4L350.8 118.3L362.4 121.2L367.3 126L371.1 132.8L376 134.8L378.9 129L374.1 124.1L382.8 119.3L387.6 113.4L382.8 107.6L380.8 101.8L383.8 96L377.9 90.1L370.2 86.3L362.4 82.4M205.2 49.4L216.8 47.4L230.4 48.4L244 51.3L255.7 53.3L269.2 51.3L282.8 54.2L286.7 61L284.8 65.9L277 67.8L265.4 70.7L253.7 68.8L242.1 69.8L230.4 65.9L220.7 61L209.1 59.1L201.3 56.2ZM213.9 41.6L222.7 36.8L236.2 35.8L240.1 38.7L238.2 42.6L230.4 45.1L220.7 44.5ZM247.9 34.2L255.7 31.5L263.8 32.9L264.4 36.8L249.8 37.7ZM277 30.9L288.6 31.5L300.3 33.5M290.6 41.6L308.1 39.7L323.6 41.6L327.5 47.4L315.8 49.4L300.3 48.4L290.6 44.5ZM292.5 54.2L308.1 51.3L323.6 53.3L319.7 59.1L304.2 61L292.5 58.1ZM296.4 66.8L311.9 64.9L319.7 68.8L315.8 74.6L300.3 72.7ZM420.5 40.9L407.6 38.3L398.5 34.4L410.2 30L420.5 25.4L436 21.5L454.1 18.9L472.2 20.2L487.7 17.6L500.6 15.5L518.7 13.7L539.4 12.9L560.1 13.7L578.2 15.5L596.3 17.1L611.8 19.7L628.6 22.8L617 24.8L602.8 26.6L604.1 31.8L598.9 35.7L602.8 40.9L596.3 44.7L600.2 48.6L591.1 52.5L584.7 57.7L592.4 60.3L584.7 64.1L575.6 66.2L565.3 68.8L554.9 71.9L544.6 75.8L534.3 79.1L523.9 83.5L517.5 90L513.6 96.4L511 102.4L504.5 102.9L495.5 99L487.7 93.9L480 87.4L474.8 79.6L473.5 73.2L477.4 69.3L483.8 67.2L477.4 64.1L469.6 61.5L465.7 57.7L461.9 52.5L455.4 47.3L446.4 43.5L436 41.4ZM554.9 19.1L575.6 20.2L596.3 17.6M583.4 80.9L591.1 78.4L604.1 77.6L617 78.4L624.2 82.7L618.3 86.9L606.6 89.5L593.7 88.7L587.3 86.1ZM332.6 113.3L342.9 115.8L351.6 118.6L359.1 119.8L365.3 121.7L366.5 127.3L370.2 132.3L374.6 135.4L378.3 133.5L379.6 128.5L376.4 124.8L374.6 122.9L380.2 121.7L385.8 117.3L387 113.6L383.3 109.3L380.2 107.4L383.3 104.3L382.7 98.7L381.4 95L380.8 92.5L381.4 93.2L389.9 92.1L398.8 92.5L406.3 96.2L412.5 99.3L413.7 104.3L416.8 107.4L420.5 109.3L426.1 106.8L429.9 103.1L432.3 101.2L437.3 106.2L442.3 111.1L444.1 115.5L449.7 118.6L455.9 121.1L460.9 124.8L465.3 128.5L466.5 133.5L463.4 134.7L457.2 135.4L451 137.8L443.5 139.7L436.1 140L426.1 139.7L419.9 142.2L413.7 146.5L407.5 152.1L410 152.1L416.2 148.4L423.6 145.9L431.1 144.7L438.6 143.4L443.5 143.4L441 145.3L433.6 146.5L429.9 147.8L430.5 150.9L433.6 152.1L438.6 153.4L443.5 152.1L447.9 150.9L451 154.6L447.3 157.1L441 159.6L434.8 161.4L429.9 164.5L426.1 164.5L424.9 162.1L428.6 159.6L421.2 158.3L416.2 161.4L410 163.9L408.1 167L411.2 169.5L413.1 171.4L407.5 173.2L401.3 173.2L396.3 175.1L393.8 178.2L390.1 179.5L385.8 183.2L385.1 186.9L388.2 188.2L390.1 190.6L390.7 193.7L386.4 196.8L380.2 200.6L374 204.3L369.6 208.6L368.4 212.5L367.5 215.4L368.8 221.8L371.4 228.3L372.7 233.5L368.8 230.9L364.9 224.4L361 218L355.9 214.6L348.1 213.6L340.4 215.4L332.6 216.1M451 147.8L454.7 144.7L458.4 141.6L464 142.2L469.6 141.6L474.6 143.4L477.1 148.4L475.8 152.7L472.1 153.4L468.4 150.9L464 152.1L460.9 149.6L455.9 149ZM635.6 212L632.5 220.5L624.7 224.4L618.3 230.9L613.1 239.9L609.7 247.7L611.8 255.4L610.5 263.2L607.9 271L610.5 278.7L615.7 285.2L622.2 291.6L627.3 296.8L636.4 303.3L646.7 308.4L658.3 307.7L665.6 307.2M637.1 128.1L640 124.2L645.9 121.3L650.7 122.3L650.7 127.1L646.8 132L641 133.9L637.1 132ZM651.7 114.5L654.6 108.7L660.4 107.3L665.3 109.7L667.2 113.6L663.3 117.4L668.2 120.3L671.1 124.2L675 128.1L679.8 130.1L680.8 133.9L677.9 137.8L672.1 139.2L664.3 140.3L657.5 140.7L652.7 139.8L655.6 136.8L660.4 135.9L657.5 132L654.6 129.1L657.5 125.6L655.6 121.3L652.7 118.4ZM718.6 82.5L707 87.4L696.3 91.2L692.4 96.1L693.4 102.9L696.3 108.7L704.1 106.8L711.9 103.9L716.7 107.7L720.6 114.5L722.5 120.3L727.4 120.3L732.2 118.4L735.1 114.5L738.1 110.6L741 106.8L743.9 101.9L741 98L738.1 94.1L741.9 91.2L749.7 87.9L757.5 84.8L765.2 82.5M707 120.3L705.5 115.5L709.9 113.2L712.8 110.6L715.7 114.5L718.6 118.4L716.7 122.3L712.8 124.2L708.9 123.3ZM715.7 122.3L720.6 121.3M657.5 145.6L663.3 144.2L670.1 142.7L676.9 140.7L683.7 135.9L688.6 131L693.4 128.1L699.2 126.8L705.1 125.2L707 120.3M716.7 124.2L722.5 125.6L730.3 125.2L738.1 123.3L745.8 122.3L750.7 120.3L753.6 116.5L755.5 112.6L761.4 113.6L766.2 111.6L764.3 106.8L769.1 103.9L784.6 102.9L769.1 101.5L759.4 101.9L755.5 99L754 94.1L757.5 90.3L764.3 86.8L771.1 84.1L773 82.5M657.5 145.6L660.4 148.5L666.2 150.4L669.2 155.3L668.2 160.1L665.3 163.1L656.5 162.5L648.8 163.1L642 164L639.1 166.9L640 173.7L642 179.5L641 185.4L642 190.2L650.7 192.2L658.5 190.2L665.3 188.3L670.1 184.4L674 179.5L676.9 173.7L683.7 168.9L691.5 166L699.2 164L705.1 161.7L709.9 162.5L712.8 164L716.7 159.2L722.5 156.3L727.4 157.2L731.3 162.1L736.1 166L741.9 170.8L745.8 174.7L744.9 178.6L740 180.5L738.1 185.4L734.2 189.3L729.3 188.9L722.5 187.3L720.6 184.4L727.4 183.4L732.2 180.5L733.2 176.6L727.4 172.8L722.5 167.9L718.6 163.1L716.7 159.2M722.5 185.4L734.2 187.3M705.1 167.9L708.9 166.9L710.9 173.7L709.9 180.5L706 181.5L704.7 175.7ZM745.8 174.7L749.7 179.5L753.6 185.4L757.5 190.2L761.4 194.1L765.2 197L772 196L769.1 194.1L764.3 191.2L762.3 186.3L765.2 183.4L763.3 179.5L760.4 175.7L766.2 173.7L774.9 172.8L776.9 175.7L774.9 180.5L776.9 185.4L782.7 188.3L790.5 190.2L797.3 191.2L803.1 188.9L810.8 189.6L810.8 194.1L807.9 199L806 204.8L804.1 210.6L802.1 212.5M795.3 195.1L801.1 196.6M776.9 167.9L780.8 162.1L784.6 157.2L790.5 152.4L797.3 153.3L802.1 156.3L806 153.3L813.8 150.4L821.5 149.5L822.5 151.4L813.8 154.7L806 157.2L813.8 159.2L823.5 163.1L830.3 166.9L831.2 170.8L825.4 173.7L815.7 174.1L806 171.8L796.3 169.8L788.5 170.8L782.7 172.8L777.9 173.7ZM635.2 212.5L636.2 210.6L639.1 202.8L643 197L650.7 192.2L660.4 193.5L672.1 191.2L685.7 188.9L699.2 188.3L708.9 187.3L716.7 188.3L714.8 194.1L712.8 199L718.6 202.8L726.4 205.8L734.2 208.7L741.9 210.6L747.8 206.7L755.5 204.4L763.3 205.8L771.1 208.7L778.8 210.6L788.5 209.6L796.3 210.6L802.1 212.5M712.1 29.2L722.5 26.6L738 25.4L756.1 24.8L776.8 26.6L769 30L756.1 31.8L763.8 35.7L750.9 37L740.6 35.7L735.4 40.3L727.6 38.3L719.9 34.4ZM843.5 25.4L868.5 25.4M866.7 57.7L872.4 52.5L880.2 47.3L893.1 43.5L911.2 40.3L931.9 39.6L931.9 42.2L913.8 44.7L898.3 48.1L887.9 51.2L881.5 56.4L885.4 61.5L877.6 62.8L869.8 61.5ZM692.7 99L696.6 93.9L704.4 90L712.1 84.8L719.9 78.4L728.9 71.9L740.6 67.2L753.5 63.6L766.4 61.5L779.4 61L789.7 62.8L800 67.2L810.4 70.6L823.3 74.5L831.1 77.1L820.7 77.6L809.1 76.5L798.7 77.1L802.6 80.2L806.5 84.8L807.8 88.7L814.3 86.1L816.8 81.7L825.9 82.2L832.4 78.4L837.5 75L836.2 70.6L844 72.4L846.6 76.5L856.9 74L867.3 71.4L877.6 69.3L887.9 69.8L898.3 68L900.9 70.6L911.2 67.2L921.5 64.6L926.7 61.5L934.5 56.9L940.9 54.3L947.4 55.1L944.8 61.5L948.7 66.2L946.1 71.9L942.2 78.4L947.4 77.1L952.6 71.9L956.4 66.7L955.2 60.3L962.9 56.9L975.8 53.8L979.7 57.7L983.6 51.2L998.6 47.3M850.5 159.8L855.6 154.6L864.7 150.7L873.7 152L872.4 157.2L866 158.5L864.7 163.7L869.8 167.5L875 170.1L878.9 174L873.7 177.9L872.4 183.1L876.3 188.2L869.8 190.8L860.8 189.5L856.9 184.4L858.2 177.9L855.6 171.4L853 165ZM1015.4 25.9L1032.2 22.3L1050.3 27.4L1069.7 33.1L1050.3 32.6L1032.2 30.5L1021.9 28.5ZM998.6 49.9L1008.9 46L1021.9 43.5L1037.4 42.2L1052.9 40.9L1063.2 38.3L1076.2 39.6L1089.1 40.3L1100.7 42.2L1102 46L1091.7 47.3L1083.9 49.1L1096.8 51.2L1107.2 52.5L1120.1 53.8L1135.6 51.2L1148.5 51.2L1156.3 55.1L1160.2 61L1167.9 61.5L1170.5 58.4L1179.6 59.5L1189.9 59L1199 57.7L1205.4 52.5L1213.2 53.8L1223.5 55.1L1236.4 59L1246.8 61.5L1259.7 61.5L1272.6 64.1L1277.8 67.2L1290.7 66.7L1303.7 67.2L1312.7 69.3L1316.6 66.2L1331.6 65.4M1187.3 44.7L1195.1 42.2L1205.4 42.2L1218.4 44L1218.4 47.3L1205.4 49.1L1192.5 48.1ZM1222.2 46L1240.3 46.6M1331.6 95.2L1321.8 99L1308.8 101.6L1295.9 104.2L1288.2 102.9L1284.3 108.1L1286.9 112L1283 117.1L1279.1 123.6L1271.4 127.5L1268.8 132.6L1262.3 136.5L1258.4 128.8L1257.1 119.7L1261 112L1270.1 108.1L1281.7 97.7L1290.7 92.6L1283 94.6L1272.6 96.4L1257.1 99L1254.5 105L1241.6 106.8L1235.2 103.7L1220.9 104.2L1206.7 105.5L1196.4 111.2L1180.9 121M-0.4 643.4L12.5 642.4L20.3 644.2L35.8 641.6L51.3 645L66.8 647.6L84.9 648.1L103 646L113.4 648.1L128.9 646.8L139.2 645.5L128.9 643.4L110.8 642.9L99.1 640.8L100.4 636.4L87.5 632.6L103 630.5L118.5 630L126.3 627.9L121.1 624.8L103 622.7L87.5 621.7L81 618.3L82.3 615.8L97.8 616.5L113.4 614.5L126.3 611.4L134 609.3L154.7 607.2L175.4 605.4L196.1 605.4L201.3 602.1L214.2 605.4L227.1 604.6L247.8 604.1L254.3 608L268.5 608L284 608.8L296.9 608L299.5 604.6L286.6 601.5L291.7 597.7L312.4 598.4L313.7 602.1L332.6 601M61.6 622.2L69.4 620.9L76.6 624.8L68.1 626.1ZM371.4 327.5L374 336.5L368.8 343L370.1 350.8L377.8 361.1L384.3 372.7L388.2 380.5L397.2 385.7L407.6 392.1L411.5 399.9L410.2 412.8L408.9 430.9L406.3 443.8L405 456.8L400.3 469.7L399.3 482.6L397.2 493L393.4 503.3L391.5 513.6L393.4 524L399.8 530.4L408.9 534.3L417.9 536.4L429.5 533.8L423.1 531.7L416.6 526.6L414.8 520.1L419.2 513.6L424.4 508.5L427 504.6L421.8 500.2L424.4 495.5L430.8 491.7L434.7 485.7L432.1 482.1L438.6 478.7L441.2 473.6L450.2 472.3L458 468.4L459.8 461.9L455.4 455.5L464.5 458.1L472.2 455.5L480 447.7L487.7 437.4L492.4 429.6L492.9 424.4L500.6 418L511 414.1L520 410.2L525.2 399.9L527.8 389.5L528.6 379.2L534.3 371.5L540.7 362.4L544.1 353.4L542 346.9L534.3 343L523.9 338.4L508.4 337.3L492.9 331.4L485.1 327.5M407.6 526.6L415.3 531.7L423.1 532.3M445.1 521.4L458 520.9M332.6 600.3L342.9 601L358.5 602.8L371.4 602.1L384.3 603.6L399.8 602.1L415.3 599L421.8 596.4L417.9 591.2L412.7 586L408.9 586L405 593.8L393.4 596.9L407.6 596.4L415.3 589.9L420.5 579.6L428.3 574.4L441.2 570.5L456.7 566.6L459.3 565.3L446.4 571.8L436 575.7L429.5 580.9L436 586L442.5 591.2L446.4 599L443.8 605.4L433.4 609.3L417.9 611.9L399.8 614.5L384.3 615.8L394.6 619.1L381.7 623.5L386.9 627.4L405 630L425.7 631.3L446.4 633.9L456.7 639L472.2 636.4L492.9 635.2L513.6 634.6L529.1 632.1L547.2 630.5L566.6 628.7L560.1 624.8L542 622.2L539.4 619.6L552.4 617.1L573 614L591.1 611.9L611.8 608L614.4 602.8L624.7 599L635.1 595.1L650.6 593.8L665.6 592.5M470.9 628.7L480 627.4L487.7 620.9L500.6 619.1L511 623.5L511 628.7L498.1 630.5L482.5 630.5ZM427 628.7L446.4 629.5L450.2 627.4M707 327.5L710.8 335.3L717.3 343L722.5 353.4L723.8 361.1L722.5 371.5L719.4 381.8L718.6 392.1L721.2 402.5L726.4 412.8L730.2 423.2L734.1 433.5L739.3 442.5L743.2 447.7L741.9 452.9L748.3 458.1L758.7 454.7L769 454.2L779.4 451.1L787.1 445.1L793.6 436.1L797.5 425.7L802.6 421.9L807.3 415.4L805.2 405.1L806.5 401.2L815.5 394.2L823.3 389.5L826.4 381.8L825.9 371.5L824.6 361.1L820.7 353.4L820.2 346.9L824.6 337.8L831.1 331.4L836.2 327.5M859 372.7L863.4 379.2L864.2 385.7L860.8 394.7L856.9 405.1L853 415.4L850.5 421.9L844 424.4L838.3 420.6L836.2 410.2L839.3 402.5L838.8 393.4L841.4 388.3L849.2 385.7L853 379.2L856.9 374ZM931.4 512.1L939.1 511.6L938.4 514.2L931.9 514.2ZM665.6 594.3L673.4 596.4L686.3 593.8L701.8 590.7L709.6 589.9L716 593.8L725.1 590.7L740.6 589.1L750.9 589.9L758.7 593.3L774.2 591.7L789.7 589.1L800 584.7L810.4 586.5L820.7 589.1L833.6 584.7L851.7 580.3L864.7 576.2L877.6 574.4L886.6 575.7L893.1 579.6L906 582.2L913.8 579.6L924.1 582.2L934.5 583.4L935.8 587.3L930.6 591.2L933.2 593.8L929.3 596.9L939.6 599L947.4 593.8L955.2 589.9L965.5 587.3L975.8 582.2L988.8 579.6L998.6 578.3M1102 408.9L1114.9 405.1L1127.9 399.9L1133 393.4L1139.5 388.3L1148.5 381.8L1156.3 383.1L1164.1 376.6L1170.5 370.2L1179.6 372.7L1187.3 374L1184.7 381.8L1191.2 388.3L1200.3 393.4L1205.4 387L1206.7 376.6L1209.3 368.9L1213.2 377.9L1218.4 385.7L1222.2 394.7L1228.7 401.2L1236.4 410.2L1242.9 418L1248.1 427L1249.4 436.1L1246.8 446.4L1241.6 456.8L1236.4 467.1L1226.1 471L1218.4 469.7L1213.2 472.3L1202.8 468.4L1196.4 460.6L1191.2 452.9L1187.3 456.8L1179.6 450.3L1166.6 446.4L1153.7 447.7L1143.4 450.3L1133 454.2L1120.1 455.5L1112.4 458.8L1105.9 454.2L1107.2 445.1L1103.3 436.1L1100.7 427L1099.9 418ZM1215.8 480L1223.5 482.1L1231.3 480.6L1228.7 487.8L1224 491.7L1219.6 487.8ZM1321.8 456.2L1328.2 461.9L1331.6 464.5M1331.6 472.3L1326.9 478.7L1319.2 485.2L1308.8 493L1298.5 499.4L1306.3 502L1316.6 495.5L1324.3 486.5L1331.6 480M998.6 577L1003.8 575.7L1008.9 578.8L1024.5 579.6L1047.7 579.6L1059.4 573.1L1071 577.8L1083.9 577.8L1099.4 574.4L1112.4 578.3L1125.3 579.6L1138.2 577L1153.7 577L1177 575.7L1180.9 571.8L1184.7 577L1205.4 577.8L1220.9 578.3L1223.5 582.2L1236.4 584.7L1252 584.7L1267.5 588.6L1283 591.7L1298.5 593.8L1316.6 596.4L1308.8 602.8L1295.9 606.7L1288.2 614.5L1290.7 620.9L1299.8 622.2L1283 624.8L1273.9 630L1280.4 635.2L1295.9 637.7L1314 641.6L1331.6 643.4M665.6 307.2L678.5 303.3L691.5 305.1L704.4 308.4L710.8 317.5L711.6 327.6M998.6 247.7L1007.6 245.8L1015.5 242L1020.3 249L1026.7 260.1L1028.3 266.5L1036.2 264.9L1041 271.3L1044.2 282.4L1047.4 296.7L1052.1 306.3L1058.5 315.8L1064.9 325.4L1069.6 334.9L1071.9 342L1068.7 333.4L1064.2 323.8L1059.1 314.3L1054.7 306.3L1050.5 298.3L1048 291L1048.9 284L1052.8 278.3L1060.1 279.6L1064.9 288.8L1068.7 294.2L1076 292.9L1082.4 287.2L1084.6 279.2L1080.8 269.7L1072.8 263.3L1071.2 255.4L1074.4 250.6L1084 247.4L1093.5 245.2L1103.1 242L1112.6 237.8L1120.6 231.5L1126.9 225.1L1131.1 217.2M1080.8 252.2L1087.2 250.6L1090.3 255.4L1085.6 259.2L1080.8 256.9ZM1125.4 234.7L1130.1 232.4L1131.1 239.4L1126.9 245.2L1124.7 239.4ZM1125.4 261.7L1131.7 258.5L1134.3 266.5L1130.1 272.9L1136.5 276L1144.5 280.8L1146.1 287.2L1141.3 288.8L1133.3 284L1126.9 277.6L1125.4 269.7ZM1131.7 293.6L1141.3 291L1148.3 295.2L1147.6 303.1L1142.9 306.9L1134.9 303.1L1131.7 298.3ZM1128.5 279.2L1134.9 285.6L1141.3 293.6M1112.6 295.2L1122.8 285.6M1031.4 307.9L1039.4 311.1L1048.9 320.6L1058.5 333.4L1066.5 344.5L1071.9 352.5L1070.6 355.6L1063.3 350.9L1053.7 339.7L1044.2 327L1034.6 315.8ZM1071.9 352.5L1087.2 354.7L1103.1 357.9L1112.6 360.4L1125.4 362L1131.7 364.2L1127.9 365.8L1112.6 363.6L1093.5 359.8L1074.4 356ZM1138.1 364.2L1150.8 359.8M1155.6 357.9L1165.2 356.6M1085.6 322.2L1095.1 317.4L1106.3 309.5L1115.8 303.1L1122.2 306.3L1117.4 314.3L1120.6 322.2L1112.6 330.2L1109.4 338.1L1099.9 341.3L1090.3 338.1L1087.2 330.2ZM1125.4 327L1133.3 323.8L1141.3 322.2L1133.3 327L1130.1 331.8L1134.9 338.1L1130.1 347.7L1125.4 344.5L1127.9 336.5L1122.8 332.4ZM1155 321.6L1157.8 326L1156.6 331.1L1154 326ZM1146.1 338.8L1163.6 340M1163.6 330.2L1173.1 328.6L1177.9 334.9L1185.8 333.4L1198.6 334.9L1211.3 339.7L1222.5 347.7L1232 357.2L1240 365.2L1232 363.6L1222.5 358.8L1214.5 357.2L1208.1 362L1198.6 358.8L1192.2 354.1L1193.8 349.3L1185.8 344.5L1177.9 341.3L1173.1 334.9ZM1236.8 338.1L1244.7 341.3L1247.9 347.7L1240 346.1ZM1254.3 347.7L1263.8 354.1M1271.8 358.8L1282.9 366.8M1298.9 382.7L1302.1 389.7M1289.3 402.4L1300.5 409.8M330.9 19.9L341.8 18.4L352.7 17.1L365.1 15.3L383.7 14.5L402.3 14.5L422.5 15L436.5 16L442.7 17.6L439.6 20.7L430.3 22.3L421 23L414.8 25.4L405.5 27.7L396.1 29.2L386.8 30.8L383.7 33.1L379.1 37L375.2 39.3M421 19.1L430.3 18.4L439.6 19.1M419.4 26.1L428.7 26.9L430.3 28.5M442.7 18.4L458.2 18.1L470.7 19.1L475.3 20.7L484.6 18.4L495.5 17.6L507.9 15L521.6 14.5M497.1 19.1L507.9 21.8M430.3 27.7L414.8 30.8L402.3 33.1L398.5 35.5L403.9 37.8L414.8 37L424.9 37M405.5 38.6L417.9 40.9L430.3 40.9L442.7 42L453.6 44.8L459.8 49.4L464.5 54.1L466 58.7L476.9 60.3L483.1 63.4L483.9 67.3L480 71.2L473 71.9L470.7 75.8L473 79.7L476.9 83.6L480 88.2L484.6 92.9L489.3 97.6L497.1 100.7L504.8 102.2L512.6 99.9L514.9 94.5L513.4 91.4L521.6 85.1M321.6 22.3L330.9 22.3M337.1 23L352.7 25.4L368.2 25.8M344.9 29.2L355.8 30M321.6 30.8L326.3 30.8M337.1 36.2L357.3 36.2M321.6 38.6L337.1 40.1L375.9 39.3M326.3 44.8L344.9 47.1L375.9 46.3M321.6 49.4L340.2 50.2L372.8 49.4M335.6 54.1L340.2 51.8L349.6 54.1L360.4 52.5L369.7 54.1L379.1 52.5L386.8 53.3L394.6 58.7L402.3 60.3L410.1 61.8L417.9 65L422.5 68.1L416.3 69.6L424.1 71.2L433.4 73.5L443.5 75.8L439.6 79.7L436.5 83.6L430.3 80.5L422.5 78.2L418.6 80.5L424.1 83.6L430.3 85.1L428.7 89.8L433.4 92.1L430.3 93.7L421 94.5L414.8 92.1L407.8 90.6L399.2 89L393 88.2L383.7 86.7L379.1 84.4L383.7 82L394.6 82L399.2 77.4L400.8 74.3L396.1 70.4L389.9 68.8L383.7 67.3L375.9 64.2L368.2 63.4L360.4 64.2L352.7 63.4L344.9 62.6L338.7 60.3L335.6 57.2ZM384.5 71.2L393 71.9L392.3 75.8L385.3 75.8ZM321.6 69.6L327.8 68.1L335.6 71.2L343.3 75.8L351.1 78.2L355.8 77.4L365.1 75.8L369.7 72.7L370.5 68.8M348 85.1L358.9 83.6L372.8 87.5L368.2 92.9L357.3 93.7L349.6 89.8ZM373.6 93.7L375.9 95.2M321.6 94.5L330.9 91.4L341.8 85.1L348.8 82.8M277.4 31.8L289 33.1L301.8 35.2M278.7 33.6L299.2 36.2M250.5 33.1L259.5 32.6L262.1 35.2L253.1 36.2L250.5 33.1M219.8 39.5L230 38.2L239 39.5M230 60.8L253.1 62.8M241.6 70.3L265.9 74.1M207 54.9L222.3 57.5M290.2 40.8L306.9 39.5L319.7 42.1M291.5 45.9L306.9 48L322.3 45.9M294.1 53.6L306.9 51.1L319.7 54.9M299.2 62.6L314.6 60L324.8 65.1M301.8 70.3L317.1 71.6L312 75.4M305.6 33.1L324.8 31.8M312 26.7L335.1 25.4L365.8 25.9M335.1 35.7L355.6 34.4L368.4 38.2M327.4 43.4L347.9 45.9L370.9 44.7M347.9 86.9L360.7 84.4L370.9 89.5L360.7 93.3L350.5 90.8L347.9 86.9M355.6 88.2L365.8 90M1181.1 121.8L1188.6 124.2L1194.1 124.9L1199.7 125.5L1203.5 129.2L1202.2 133.6L1201 138.5L1199.7 143.5L1197.3 147.8L1193.5 152.2L1188.6 156.5L1182.3 161.5L1177.4 165.2L1172.4 167.1L1169.3 165.2L1165 167.1L1160 170.8L1158.1 174.5L1153.8 177L1151.3 179.5L1153.8 183.2L1157.5 187L1160 190.7L1159.4 195L1155 197.5L1149.4 198.8L1147.6 195L1148.2 191.3L1145.7 188.2L1144.5 184.5L1141.4 182L1142.6 178.5L1137.6 177.7L1133.9 178.3L1132 174.5L1128.9 173.9L1124 176.4L1119 179.5L1114.6 182L1117.1 185.1L1122.1 187L1127.7 188.2L1133.9 188.2L1130.8 190.1L1125.8 191.9L1121.5 195.7L1124 200.6L1127.1 205.6L1130.8 209.3L1128.9 213.1L1131.4 216.8L1130.8 222.5M1205.9 124.9L1208.4 123L1210.9 124.9L1212.2 129.8L1213.4 135.4L1215.9 141L1217.7 144.7L1213.4 145.4L1210.9 147.2L1212.8 150.3L1213.4 154.7L1210.9 157.2L1209.7 154.7L1208.4 149.7L1207.8 143.5L1207.2 137.3L1206.6 131.1ZM1209.7 160.9L1214.6 162.1L1219 160.9L1220.9 163.4L1220.2 166.5L1215.9 167.1L1212.2 170.8L1208.4 170.2L1205.9 167.1L1203.5 165.9L1201 168.3L1199.1 165.9L1201 164L1204.7 163.4L1207.2 161.5ZM1201 168.3L1199.7 173.3L1201 177L1198.5 182L1193.5 185.7L1188.6 188.2L1186.1 187.6L1183.6 191.9L1178.6 193.8L1172.4 194.4L1166.2 197.5L1161.2 200.6L1158.7 203.1L1161.2 206.8L1162.5 211.2L1165 211.8L1168.7 208.1L1173.6 205.6L1178.6 203.7L1183.6 201.9L1188.6 198.2L1193.5 196.3L1199.7 194.4L1202.2 189.5L1203.5 184.5L1207.2 179.5L1206.6 174.5L1204.7 170.2ZM1168.7 200.6L1176.1 199.4L1179.9 200.6L1174.9 203.1L1169.3 203.7ZM1160 203.7L1166.2 201.9L1167.4 205.6L1163.7 209.3M332.5 256.3L334.3 253.8L334.9 249.8L338.9 247.8L348 246.8L349 249.8L346 255.9L344 261.9L341 268L348 268L356.1 267L361.1 271L362.2 278.1L361.1 286.1L363.2 292.2L368.2 296.2L371.2 299.3L375.3 296.2L379.3 294.2L384.4 295.2L388.4 292.2L391.4 288.2L396.5 285.1L404.5 282.1L411.6 283.1L416.7 287.1L422.7 288.2L430.8 288.2L440.9 287.1L446.9 288.2L447.9 294.2L454 300.3L461.1 305.3L469.1 305.3L477.2 308.3L482.3 314.4L485.3 320.5L485.7 327.5M301.6 264.9L311.7 269L319.8 267L327.8 272L335.9 276L344 278.1L350 285.1L355.1 291.2L361.1 296.2L367.2 299.3L372.2 301.3L375.3 298.2L381.3 298.2L384.4 303.3L385.4 312.4L381.3 319.4L376.3 325.5L372.2 329.5L371.4 327.5M405 287.6L406.6 293.8M355.1 245.4L360.1 241.3L368.2 240.7L376.3 242.7L382.3 245.8L388.4 248.8L394.5 250.8L396.5 253.8L390.4 253.8L384.4 252.8L381.3 248.8L372.2 245.8L364.2 244.8ZM394.5 257.9L398.5 253.8L406.6 252.8L414.6 254.9L418.7 257.9L413.6 259.9L406.6 258.9L400.5 260.9ZM379.3 259.5L389.4 260.5M421.7 259.1L429.2 259.9M379.3 229.6L383.4 232.6L382.3 238.7M731.3 27.9L746.2 25.4L763.6 25.4L776 27.9M752.4 34.9L766.1 35.4L764.8 37.8L753.6 37.3L752.4 34.9M844.3 23.9L866.7 24.4M845.6 26.9L865.5 26.7M941.2 79.1L951.2 75.9L956.1 70.9M942.5 77.6L952.4 73.4M800.9 79.1L813.3 77.6L826.9 79.1M920.1 39.3L932.5 39.3M800.2 213.2L795.6 215.6L798.7 223.3L803.3 231.1L806.4 238.8L811.1 245.1L812.7 252.8L816.5 259L820.4 266.8L826.6 273L832.8 279.2L835.2 284.6L840.6 288.5L848.4 287L857.7 283.9L866.2 281.5L866.7 287L863.9 296.3L859.2 304.1L853 311.8L846.8 317.6L836.3 327.5M803.3 212.4L804.9 217.1L802.6 222.5L807.2 228L812.7 234.2L818.1 239.6L821.2 246.6L825.9 252.8L831.3 259L835.2 265.2L835.9 273L836.7 279.2L843.7 279.2L851.5 275.3L859.2 271.5L868.6 268.3L871.7 265.2L881 262.9L887.2 258.3L890.3 252.8L893.4 249.7L899.6 244.3L895.7 239.6L890.3 235L884.9 232.6L883.3 229.5L879.4 234.2L874.8 237.3L867.8 237.3L865.5 233.4L862.3 231.9L859.2 227.2L856.1 221L853.8 215.6L857.7 213.2L862.3 214L866.2 218.7L870.9 223.3L876.3 226.4L882.5 226.4L888 226.4L890.3 230.3L899.6 231.9L910.5 232.6L922.9 231.9L926.8 235L930.7 238.8L936.1 242.7L934.6 245.8L940 248.9L947 247.4L948.5 252.8L950.1 260.6L952.4 268.3L955.5 276.1L959.4 283.9L962.5 291.6L965.6 297.8L971 293.2L973.4 287L974.1 279.2L975.7 271.5L978.8 267.6L981.6 265.2L989.7 256.7L998.5 247.7M863.9 232.6L867 234.2L866.2 236.5M973.4 293.2L977.3 290.9L980.4 294.7L979.6 302.5L975.7 305.6L972.6 301Z"/>
</g><rect x="0" y="0" width="1331.3" height="656" fill="none" stroke="#000" stroke-width="3.3"/></g>
<rect x="78.4" y="2801.6" width="222.5" height="65.9" fill="#0000df"/>
<rect x="300.3" y="2801.6" width="222.5" height="65.9" fill="#0080ff"/>
<rect x="522.2" y="2801.6" width="222.5" height="65.9" fill="#36ffc1"/>
<rect x="744" y="2801.6" width="222.5" height="65.9" fill="#c1ff36"/>
<rect x="965.9" y="2801.6" width="222.5" height="65.9" fill="#ff9400"/>
<rect x="1187.8" y="2801.6" width="222.5" height="65.9" fill="#df0000"/>
<rect x="78.4" y="2801.6" width="1331.3" height="65.9" fill="none" stroke="#000" stroke-width="3.3"/>
<line x1="78.4" y1="2867.5" x2="78.4" y2="2882.7" stroke="#000" stroke-width="3.3"/>
<text x="78.4" y="2928.8" font-size="41.67" text-anchor="middle">0.0</text>
<line x1="300.3" y1="2867.5" x2="300.3" y2="2882.7" stroke="#000" stroke-width="3.3"/>
<text x="300.3" y="2928.8" font-size="41.67" text-anchor="middle">2.5</text>
<line x1="522.2" y1="2867.5" x2="522.2" y2="2882.7" stroke="#000" stroke-width="3.3"/>
<text x="522.2" y="2928.8" font-size="41.67" text-anchor="middle">5.0</text>
<line x1="744" y1="2867.5" x2="744" y2="2882.7" stroke="#000" stroke-width="3.3"/>
<text x="744" y="2928.8" font-size="41.67" text-anchor="middle">7.5</text>
<line x1="965.9" y1="2867.5" x2="965.9" y2="2882.7" stroke="#000" stroke-width="3.3"/>
<text x="965.9" y="2928.8" font-size="41.67" text-anchor="middle">10.0</text>
<line x1="1187.8" y1="2867.5" x2="1187.8" y2="2882.7" stroke="#000" stroke-width="3.3"/>
<text x="1187.8" y="2928.8" font-size="41.67" text-anchor="middle">12.5</text>
<line x1="1409.7" y1="2867.5" x2="1409.7" y2="2882.7" stroke="#000" stroke-width="3.3"/>
<text x="1409.7" y="2928.8" font-size="41.67" text-anchor="middle">15.0</text>
</svg>
</body></html>
